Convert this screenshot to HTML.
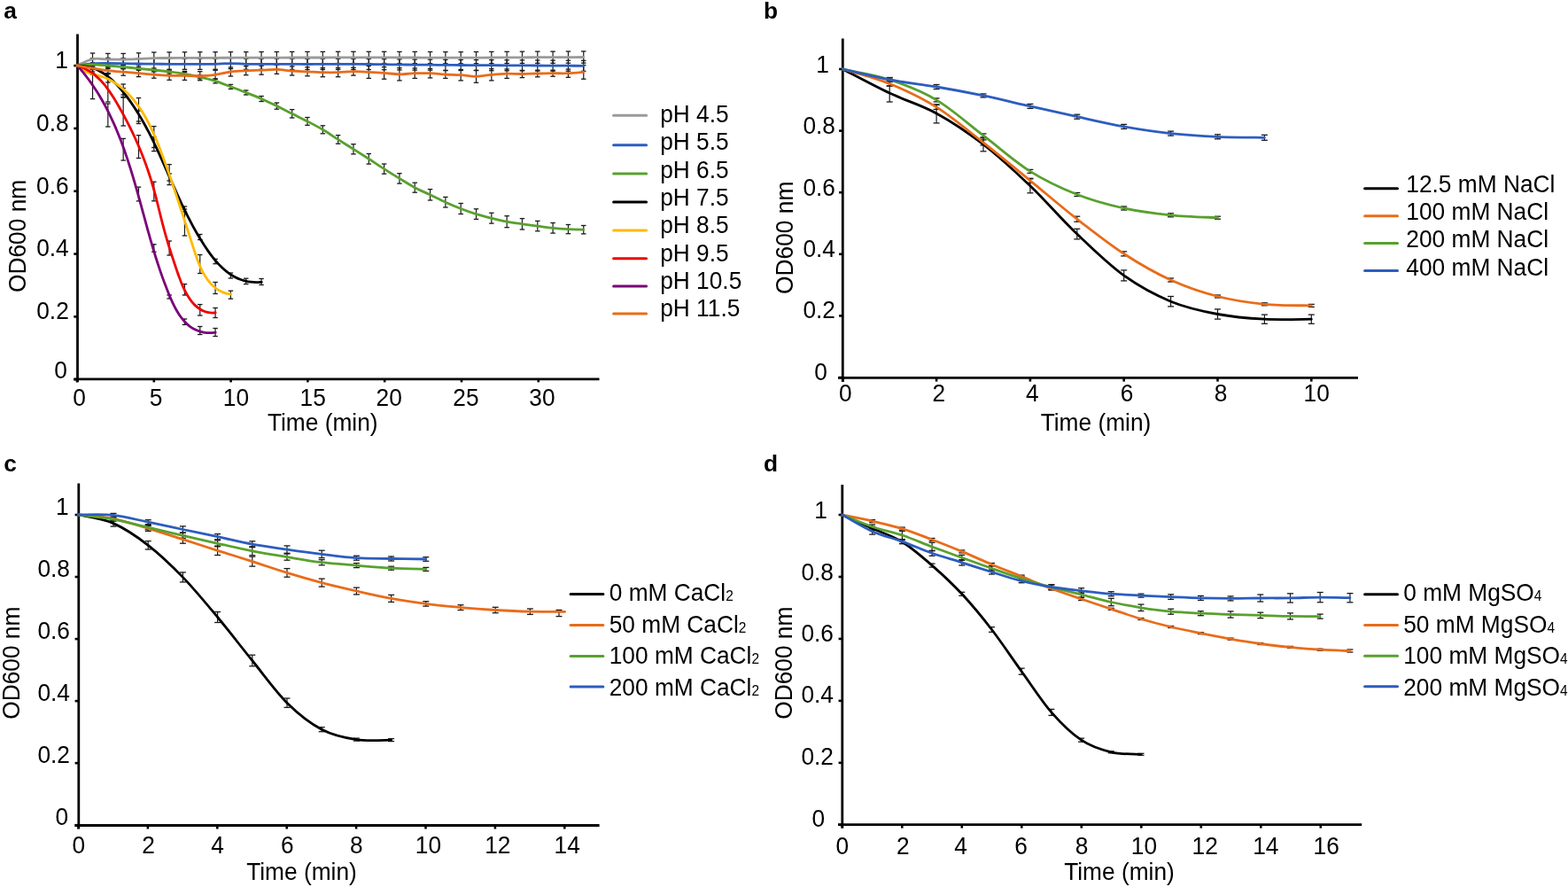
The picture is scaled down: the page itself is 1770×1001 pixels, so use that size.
<!DOCTYPE html>
<html><head><meta charset="utf-8"><title>Figure</title>
<style>
html,body{margin:0;padding:0;background:#fff;}
body{width:1770px;height:1001px;overflow:hidden;}
svg{display:block;}
text{font-family:'Liberation Sans', Arial, Helvetica, sans-serif;fill:#000;}
</style></head>
<body>
<svg width="1770" height="1001" viewBox="0 0 1770 1001">
<rect width="1770" height="1001" fill="#fff"/>
<line x1="87.5" y1="38.4" x2="87.5" y2="431.2" stroke="#000" stroke-width="2.8" stroke-linecap="butt"/>
<line x1="83.3" y1="427.8" x2="676.5" y2="427.8" stroke="#000" stroke-width="2.8" stroke-linecap="butt"/>
<line x1="83.3" y1="428.2" x2="87.5" y2="428.2" stroke="#000" stroke-width="2.6" stroke-linecap="butt"/>
<line x1="83.3" y1="357.38" x2="87.5" y2="357.38" stroke="#000" stroke-width="2.6" stroke-linecap="butt"/>
<line x1="83.3" y1="286.56" x2="87.5" y2="286.56" stroke="#000" stroke-width="2.6" stroke-linecap="butt"/>
<line x1="83.3" y1="215.74" x2="87.5" y2="215.74" stroke="#000" stroke-width="2.6" stroke-linecap="butt"/>
<line x1="83.3" y1="144.92" x2="87.5" y2="144.92" stroke="#000" stroke-width="2.6" stroke-linecap="butt"/>
<line x1="83.3" y1="74.1" x2="87.5" y2="74.1" stroke="#000" stroke-width="2.6" stroke-linecap="butt"/>
<line x1="87" y1="427.8" x2="87" y2="431.4" stroke="#000" stroke-width="2.6" stroke-linecap="butt"/>
<line x1="173.8" y1="427.8" x2="173.8" y2="431.4" stroke="#000" stroke-width="2.6" stroke-linecap="butt"/>
<line x1="260.6" y1="427.8" x2="260.6" y2="431.4" stroke="#000" stroke-width="2.6" stroke-linecap="butt"/>
<line x1="347.4" y1="427.8" x2="347.4" y2="431.4" stroke="#000" stroke-width="2.6" stroke-linecap="butt"/>
<line x1="434.2" y1="427.8" x2="434.2" y2="431.4" stroke="#000" stroke-width="2.6" stroke-linecap="butt"/>
<line x1="521" y1="427.8" x2="521" y2="431.4" stroke="#000" stroke-width="2.6" stroke-linecap="butt"/>
<line x1="607.8" y1="427.8" x2="607.8" y2="431.4" stroke="#000" stroke-width="2.6" stroke-linecap="butt"/>
<text transform="translate(76.8,77) scale(1,1.04)" text-anchor="end" font-weight="normal" font-size="26.3">1</text>
<text transform="translate(77.6,147.9) scale(1,1.04)" text-anchor="end" font-weight="normal" font-size="26.3">0.8</text>
<text transform="translate(77.6,218.6) scale(1,1.04)" text-anchor="end" font-weight="normal" font-size="26.3">0.6</text>
<text transform="translate(77.7,288.9) scale(1,1.04)" text-anchor="end" font-weight="normal" font-size="26.3">0.4</text>
<text transform="translate(77.8,359.9) scale(1,1.04)" text-anchor="end" font-weight="normal" font-size="26.3">0.2</text>
<text transform="translate(76,427.4) scale(1,1.04)" text-anchor="end" font-weight="normal" font-size="26.3">0</text>
<text transform="translate(89.5,458) scale(1,1.04)" text-anchor="middle" font-weight="normal" font-size="26.3">0</text>
<text transform="translate(176,458) scale(1,1.04)" text-anchor="middle" font-weight="normal" font-size="26.3">5</text>
<text transform="translate(266.5,458) scale(1,1.04)" text-anchor="middle" font-weight="normal" font-size="26.3">10</text>
<text transform="translate(353.2,458) scale(1,1.04)" text-anchor="middle" font-weight="normal" font-size="26.3">15</text>
<text transform="translate(439.2,458) scale(1,1.04)" text-anchor="middle" font-weight="normal" font-size="26.3">20</text>
<text transform="translate(526,458) scale(1,1.04)" text-anchor="middle" font-weight="normal" font-size="26.3">25</text>
<text transform="translate(612,458) scale(1,1.04)" text-anchor="middle" font-weight="normal" font-size="26.3">30</text>
<text transform="translate(364.2,485.6) scale(1,1.04)" text-anchor="middle" font-weight="normal" font-size="26.3">Time (min)</text>
<text text-anchor="middle" font-size="26.3" transform="translate(28.5,266.4) rotate(-90) scale(1,1.04)">OD600 nm</text>
<text transform="translate(4.2,20.8) scale(1,1)" text-anchor="start" font-weight="bold" font-size="26.3">a</text>
<line x1="104.52" y1="60" x2="104.52" y2="73.2" stroke="#1a1a1a" stroke-width="1.2" stroke-linecap="butt"/>
<line x1="101.77" y1="60" x2="107.27" y2="60" stroke="#1a1a1a" stroke-width="1.3" stroke-linecap="butt"/>
<line x1="101.77" y1="73.2" x2="107.27" y2="73.2" stroke="#1a1a1a" stroke-width="1.3" stroke-linecap="butt"/>
<line x1="121.84" y1="60.4" x2="121.84" y2="73.6" stroke="#1a1a1a" stroke-width="1.2" stroke-linecap="butt"/>
<line x1="119.09" y1="60.4" x2="124.59" y2="60.4" stroke="#1a1a1a" stroke-width="1.3" stroke-linecap="butt"/>
<line x1="119.09" y1="73.6" x2="124.59" y2="73.6" stroke="#1a1a1a" stroke-width="1.3" stroke-linecap="butt"/>
<line x1="139.16" y1="60.4" x2="139.16" y2="73.6" stroke="#1a1a1a" stroke-width="1.2" stroke-linecap="butt"/>
<line x1="136.41" y1="60.4" x2="141.91" y2="60.4" stroke="#1a1a1a" stroke-width="1.3" stroke-linecap="butt"/>
<line x1="136.41" y1="73.6" x2="141.91" y2="73.6" stroke="#1a1a1a" stroke-width="1.3" stroke-linecap="butt"/>
<line x1="156.48" y1="59.8" x2="156.48" y2="73" stroke="#1a1a1a" stroke-width="1.2" stroke-linecap="butt"/>
<line x1="153.73" y1="59.8" x2="159.23" y2="59.8" stroke="#1a1a1a" stroke-width="1.3" stroke-linecap="butt"/>
<line x1="153.73" y1="73" x2="159.23" y2="73" stroke="#1a1a1a" stroke-width="1.3" stroke-linecap="butt"/>
<line x1="173.8" y1="59" x2="173.8" y2="72.2" stroke="#1a1a1a" stroke-width="1.2" stroke-linecap="butt"/>
<line x1="171.05" y1="59" x2="176.55" y2="59" stroke="#1a1a1a" stroke-width="1.3" stroke-linecap="butt"/>
<line x1="171.05" y1="72.2" x2="176.55" y2="72.2" stroke="#1a1a1a" stroke-width="1.3" stroke-linecap="butt"/>
<line x1="191.12" y1="58.9" x2="191.12" y2="72.1" stroke="#1a1a1a" stroke-width="1.2" stroke-linecap="butt"/>
<line x1="188.37" y1="58.9" x2="193.87" y2="58.9" stroke="#1a1a1a" stroke-width="1.3" stroke-linecap="butt"/>
<line x1="188.37" y1="72.1" x2="193.87" y2="72.1" stroke="#1a1a1a" stroke-width="1.3" stroke-linecap="butt"/>
<line x1="208.44" y1="58.8" x2="208.44" y2="72" stroke="#1a1a1a" stroke-width="1.2" stroke-linecap="butt"/>
<line x1="205.69" y1="58.8" x2="211.19" y2="58.8" stroke="#1a1a1a" stroke-width="1.3" stroke-linecap="butt"/>
<line x1="205.69" y1="72" x2="211.19" y2="72" stroke="#1a1a1a" stroke-width="1.3" stroke-linecap="butt"/>
<line x1="225.76" y1="58.7" x2="225.76" y2="71.9" stroke="#1a1a1a" stroke-width="1.2" stroke-linecap="butt"/>
<line x1="223.01" y1="58.7" x2="228.51" y2="58.7" stroke="#1a1a1a" stroke-width="1.3" stroke-linecap="butt"/>
<line x1="223.01" y1="71.9" x2="228.51" y2="71.9" stroke="#1a1a1a" stroke-width="1.3" stroke-linecap="butt"/>
<line x1="243.08" y1="58.7" x2="243.08" y2="71.9" stroke="#1a1a1a" stroke-width="1.2" stroke-linecap="butt"/>
<line x1="240.33" y1="58.7" x2="245.83" y2="58.7" stroke="#1a1a1a" stroke-width="1.3" stroke-linecap="butt"/>
<line x1="240.33" y1="71.9" x2="245.83" y2="71.9" stroke="#1a1a1a" stroke-width="1.3" stroke-linecap="butt"/>
<line x1="260.4" y1="58.6" x2="260.4" y2="71.8" stroke="#1a1a1a" stroke-width="1.2" stroke-linecap="butt"/>
<line x1="257.65" y1="58.6" x2="263.15" y2="58.6" stroke="#1a1a1a" stroke-width="1.3" stroke-linecap="butt"/>
<line x1="257.65" y1="71.8" x2="263.15" y2="71.8" stroke="#1a1a1a" stroke-width="1.3" stroke-linecap="butt"/>
<line x1="277.72" y1="58.6" x2="277.72" y2="71.8" stroke="#1a1a1a" stroke-width="1.2" stroke-linecap="butt"/>
<line x1="274.97" y1="58.6" x2="280.47" y2="58.6" stroke="#1a1a1a" stroke-width="1.3" stroke-linecap="butt"/>
<line x1="274.97" y1="71.8" x2="280.47" y2="71.8" stroke="#1a1a1a" stroke-width="1.3" stroke-linecap="butt"/>
<line x1="295.04" y1="58.5" x2="295.04" y2="71.7" stroke="#1a1a1a" stroke-width="1.2" stroke-linecap="butt"/>
<line x1="292.29" y1="58.5" x2="297.79" y2="58.5" stroke="#1a1a1a" stroke-width="1.3" stroke-linecap="butt"/>
<line x1="292.29" y1="71.7" x2="297.79" y2="71.7" stroke="#1a1a1a" stroke-width="1.3" stroke-linecap="butt"/>
<line x1="312.36" y1="58.5" x2="312.36" y2="71.7" stroke="#1a1a1a" stroke-width="1.2" stroke-linecap="butt"/>
<line x1="309.61" y1="58.5" x2="315.11" y2="58.5" stroke="#1a1a1a" stroke-width="1.3" stroke-linecap="butt"/>
<line x1="309.61" y1="71.7" x2="315.11" y2="71.7" stroke="#1a1a1a" stroke-width="1.3" stroke-linecap="butt"/>
<line x1="329.68" y1="58.4" x2="329.68" y2="71.6" stroke="#1a1a1a" stroke-width="1.2" stroke-linecap="butt"/>
<line x1="326.93" y1="58.4" x2="332.43" y2="58.4" stroke="#1a1a1a" stroke-width="1.3" stroke-linecap="butt"/>
<line x1="326.93" y1="71.6" x2="332.43" y2="71.6" stroke="#1a1a1a" stroke-width="1.3" stroke-linecap="butt"/>
<line x1="347" y1="58.4" x2="347" y2="71.6" stroke="#1a1a1a" stroke-width="1.2" stroke-linecap="butt"/>
<line x1="344.25" y1="58.4" x2="349.75" y2="58.4" stroke="#1a1a1a" stroke-width="1.3" stroke-linecap="butt"/>
<line x1="344.25" y1="71.6" x2="349.75" y2="71.6" stroke="#1a1a1a" stroke-width="1.3" stroke-linecap="butt"/>
<line x1="364.32" y1="58.4" x2="364.32" y2="71.6" stroke="#1a1a1a" stroke-width="1.2" stroke-linecap="butt"/>
<line x1="361.57" y1="58.4" x2="367.07" y2="58.4" stroke="#1a1a1a" stroke-width="1.3" stroke-linecap="butt"/>
<line x1="361.57" y1="71.6" x2="367.07" y2="71.6" stroke="#1a1a1a" stroke-width="1.3" stroke-linecap="butt"/>
<line x1="381.64" y1="58.3" x2="381.64" y2="71.5" stroke="#1a1a1a" stroke-width="1.2" stroke-linecap="butt"/>
<line x1="378.89" y1="58.3" x2="384.39" y2="58.3" stroke="#1a1a1a" stroke-width="1.3" stroke-linecap="butt"/>
<line x1="378.89" y1="71.5" x2="384.39" y2="71.5" stroke="#1a1a1a" stroke-width="1.3" stroke-linecap="butt"/>
<line x1="398.96" y1="58.3" x2="398.96" y2="71.5" stroke="#1a1a1a" stroke-width="1.2" stroke-linecap="butt"/>
<line x1="396.21" y1="58.3" x2="401.71" y2="58.3" stroke="#1a1a1a" stroke-width="1.3" stroke-linecap="butt"/>
<line x1="396.21" y1="71.5" x2="401.71" y2="71.5" stroke="#1a1a1a" stroke-width="1.3" stroke-linecap="butt"/>
<line x1="416.28" y1="58.3" x2="416.28" y2="71.5" stroke="#1a1a1a" stroke-width="1.2" stroke-linecap="butt"/>
<line x1="413.53" y1="58.3" x2="419.03" y2="58.3" stroke="#1a1a1a" stroke-width="1.3" stroke-linecap="butt"/>
<line x1="413.53" y1="71.5" x2="419.03" y2="71.5" stroke="#1a1a1a" stroke-width="1.3" stroke-linecap="butt"/>
<line x1="433.6" y1="58.3" x2="433.6" y2="71.5" stroke="#1a1a1a" stroke-width="1.2" stroke-linecap="butt"/>
<line x1="430.85" y1="58.3" x2="436.35" y2="58.3" stroke="#1a1a1a" stroke-width="1.3" stroke-linecap="butt"/>
<line x1="430.85" y1="71.5" x2="436.35" y2="71.5" stroke="#1a1a1a" stroke-width="1.3" stroke-linecap="butt"/>
<line x1="450.92" y1="58.4" x2="450.92" y2="71.6" stroke="#1a1a1a" stroke-width="1.2" stroke-linecap="butt"/>
<line x1="448.17" y1="58.4" x2="453.67" y2="58.4" stroke="#1a1a1a" stroke-width="1.3" stroke-linecap="butt"/>
<line x1="448.17" y1="71.6" x2="453.67" y2="71.6" stroke="#1a1a1a" stroke-width="1.3" stroke-linecap="butt"/>
<line x1="468.24" y1="58.4" x2="468.24" y2="71.6" stroke="#1a1a1a" stroke-width="1.2" stroke-linecap="butt"/>
<line x1="465.49" y1="58.4" x2="470.99" y2="58.4" stroke="#1a1a1a" stroke-width="1.3" stroke-linecap="butt"/>
<line x1="465.49" y1="71.6" x2="470.99" y2="71.6" stroke="#1a1a1a" stroke-width="1.3" stroke-linecap="butt"/>
<line x1="485.56" y1="58.5" x2="485.56" y2="71.7" stroke="#1a1a1a" stroke-width="1.2" stroke-linecap="butt"/>
<line x1="482.81" y1="58.5" x2="488.31" y2="58.5" stroke="#1a1a1a" stroke-width="1.3" stroke-linecap="butt"/>
<line x1="482.81" y1="71.7" x2="488.31" y2="71.7" stroke="#1a1a1a" stroke-width="1.3" stroke-linecap="butt"/>
<line x1="502.88" y1="58.6" x2="502.88" y2="71.8" stroke="#1a1a1a" stroke-width="1.2" stroke-linecap="butt"/>
<line x1="500.13" y1="58.6" x2="505.63" y2="58.6" stroke="#1a1a1a" stroke-width="1.3" stroke-linecap="butt"/>
<line x1="500.13" y1="71.8" x2="505.63" y2="71.8" stroke="#1a1a1a" stroke-width="1.3" stroke-linecap="butt"/>
<line x1="520.2" y1="58.6" x2="520.2" y2="71.8" stroke="#1a1a1a" stroke-width="1.2" stroke-linecap="butt"/>
<line x1="517.45" y1="58.6" x2="522.95" y2="58.6" stroke="#1a1a1a" stroke-width="1.3" stroke-linecap="butt"/>
<line x1="517.45" y1="71.8" x2="522.95" y2="71.8" stroke="#1a1a1a" stroke-width="1.3" stroke-linecap="butt"/>
<line x1="537.52" y1="58.5" x2="537.52" y2="71.7" stroke="#1a1a1a" stroke-width="1.2" stroke-linecap="butt"/>
<line x1="534.77" y1="58.5" x2="540.27" y2="58.5" stroke="#1a1a1a" stroke-width="1.3" stroke-linecap="butt"/>
<line x1="534.77" y1="71.7" x2="540.27" y2="71.7" stroke="#1a1a1a" stroke-width="1.3" stroke-linecap="butt"/>
<line x1="554.84" y1="58.4" x2="554.84" y2="71.6" stroke="#1a1a1a" stroke-width="1.2" stroke-linecap="butt"/>
<line x1="552.09" y1="58.4" x2="557.59" y2="58.4" stroke="#1a1a1a" stroke-width="1.3" stroke-linecap="butt"/>
<line x1="552.09" y1="71.6" x2="557.59" y2="71.6" stroke="#1a1a1a" stroke-width="1.3" stroke-linecap="butt"/>
<line x1="572.16" y1="58.3" x2="572.16" y2="71.5" stroke="#1a1a1a" stroke-width="1.2" stroke-linecap="butt"/>
<line x1="569.41" y1="58.3" x2="574.91" y2="58.3" stroke="#1a1a1a" stroke-width="1.3" stroke-linecap="butt"/>
<line x1="569.41" y1="71.5" x2="574.91" y2="71.5" stroke="#1a1a1a" stroke-width="1.3" stroke-linecap="butt"/>
<line x1="589.48" y1="58.2" x2="589.48" y2="71.4" stroke="#1a1a1a" stroke-width="1.2" stroke-linecap="butt"/>
<line x1="586.73" y1="58.2" x2="592.23" y2="58.2" stroke="#1a1a1a" stroke-width="1.3" stroke-linecap="butt"/>
<line x1="586.73" y1="71.4" x2="592.23" y2="71.4" stroke="#1a1a1a" stroke-width="1.3" stroke-linecap="butt"/>
<line x1="606.8" y1="58.1" x2="606.8" y2="71.3" stroke="#1a1a1a" stroke-width="1.2" stroke-linecap="butt"/>
<line x1="604.05" y1="58.1" x2="609.55" y2="58.1" stroke="#1a1a1a" stroke-width="1.3" stroke-linecap="butt"/>
<line x1="604.05" y1="71.3" x2="609.55" y2="71.3" stroke="#1a1a1a" stroke-width="1.3" stroke-linecap="butt"/>
<line x1="624.12" y1="58.1" x2="624.12" y2="71.3" stroke="#1a1a1a" stroke-width="1.2" stroke-linecap="butt"/>
<line x1="621.37" y1="58.1" x2="626.87" y2="58.1" stroke="#1a1a1a" stroke-width="1.3" stroke-linecap="butt"/>
<line x1="621.37" y1="71.3" x2="626.87" y2="71.3" stroke="#1a1a1a" stroke-width="1.3" stroke-linecap="butt"/>
<line x1="641.44" y1="58" x2="641.44" y2="71.2" stroke="#1a1a1a" stroke-width="1.2" stroke-linecap="butt"/>
<line x1="638.69" y1="58" x2="644.19" y2="58" stroke="#1a1a1a" stroke-width="1.3" stroke-linecap="butt"/>
<line x1="638.69" y1="71.2" x2="644.19" y2="71.2" stroke="#1a1a1a" stroke-width="1.3" stroke-linecap="butt"/>
<line x1="658.76" y1="57.9" x2="658.76" y2="71.1" stroke="#1a1a1a" stroke-width="1.2" stroke-linecap="butt"/>
<line x1="656.01" y1="57.9" x2="661.51" y2="57.9" stroke="#1a1a1a" stroke-width="1.3" stroke-linecap="butt"/>
<line x1="656.01" y1="71.1" x2="661.51" y2="71.1" stroke="#1a1a1a" stroke-width="1.3" stroke-linecap="butt"/>
<line x1="104.52" y1="65.8" x2="104.52" y2="77.8" stroke="#1a1a1a" stroke-width="1.2" stroke-linecap="butt"/>
<line x1="101.77" y1="65.8" x2="107.27" y2="65.8" stroke="#1a1a1a" stroke-width="1.3" stroke-linecap="butt"/>
<line x1="101.77" y1="77.8" x2="107.27" y2="77.8" stroke="#1a1a1a" stroke-width="1.3" stroke-linecap="butt"/>
<line x1="121.84" y1="65.4" x2="121.84" y2="77.4" stroke="#1a1a1a" stroke-width="1.2" stroke-linecap="butt"/>
<line x1="119.09" y1="65.4" x2="124.59" y2="65.4" stroke="#1a1a1a" stroke-width="1.3" stroke-linecap="butt"/>
<line x1="119.09" y1="77.4" x2="124.59" y2="77.4" stroke="#1a1a1a" stroke-width="1.3" stroke-linecap="butt"/>
<line x1="139.16" y1="65.6" x2="139.16" y2="77.6" stroke="#1a1a1a" stroke-width="1.2" stroke-linecap="butt"/>
<line x1="136.41" y1="65.6" x2="141.91" y2="65.6" stroke="#1a1a1a" stroke-width="1.3" stroke-linecap="butt"/>
<line x1="136.41" y1="77.6" x2="141.91" y2="77.6" stroke="#1a1a1a" stroke-width="1.3" stroke-linecap="butt"/>
<line x1="156.48" y1="66" x2="156.48" y2="78" stroke="#1a1a1a" stroke-width="1.2" stroke-linecap="butt"/>
<line x1="153.73" y1="66" x2="159.23" y2="66" stroke="#1a1a1a" stroke-width="1.3" stroke-linecap="butt"/>
<line x1="153.73" y1="78" x2="159.23" y2="78" stroke="#1a1a1a" stroke-width="1.3" stroke-linecap="butt"/>
<line x1="173.8" y1="66.2" x2="173.8" y2="78.2" stroke="#1a1a1a" stroke-width="1.2" stroke-linecap="butt"/>
<line x1="171.05" y1="66.2" x2="176.55" y2="66.2" stroke="#1a1a1a" stroke-width="1.3" stroke-linecap="butt"/>
<line x1="171.05" y1="78.2" x2="176.55" y2="78.2" stroke="#1a1a1a" stroke-width="1.3" stroke-linecap="butt"/>
<line x1="191.12" y1="66.3" x2="191.12" y2="78.3" stroke="#1a1a1a" stroke-width="1.2" stroke-linecap="butt"/>
<line x1="188.37" y1="66.3" x2="193.87" y2="66.3" stroke="#1a1a1a" stroke-width="1.3" stroke-linecap="butt"/>
<line x1="188.37" y1="78.3" x2="193.87" y2="78.3" stroke="#1a1a1a" stroke-width="1.3" stroke-linecap="butt"/>
<line x1="208.44" y1="66.3" x2="208.44" y2="78.3" stroke="#1a1a1a" stroke-width="1.2" stroke-linecap="butt"/>
<line x1="205.69" y1="66.3" x2="211.19" y2="66.3" stroke="#1a1a1a" stroke-width="1.3" stroke-linecap="butt"/>
<line x1="205.69" y1="78.3" x2="211.19" y2="78.3" stroke="#1a1a1a" stroke-width="1.3" stroke-linecap="butt"/>
<line x1="225.76" y1="66.4" x2="225.76" y2="78.4" stroke="#1a1a1a" stroke-width="1.2" stroke-linecap="butt"/>
<line x1="223.01" y1="66.4" x2="228.51" y2="66.4" stroke="#1a1a1a" stroke-width="1.3" stroke-linecap="butt"/>
<line x1="223.01" y1="78.4" x2="228.51" y2="78.4" stroke="#1a1a1a" stroke-width="1.3" stroke-linecap="butt"/>
<line x1="243.08" y1="66.3" x2="243.08" y2="78.3" stroke="#1a1a1a" stroke-width="1.2" stroke-linecap="butt"/>
<line x1="240.33" y1="66.3" x2="245.83" y2="66.3" stroke="#1a1a1a" stroke-width="1.3" stroke-linecap="butt"/>
<line x1="240.33" y1="78.3" x2="245.83" y2="78.3" stroke="#1a1a1a" stroke-width="1.3" stroke-linecap="butt"/>
<line x1="260.4" y1="65.6" x2="260.4" y2="77.6" stroke="#1a1a1a" stroke-width="1.2" stroke-linecap="butt"/>
<line x1="257.65" y1="65.6" x2="263.15" y2="65.6" stroke="#1a1a1a" stroke-width="1.3" stroke-linecap="butt"/>
<line x1="257.65" y1="77.6" x2="263.15" y2="77.6" stroke="#1a1a1a" stroke-width="1.3" stroke-linecap="butt"/>
<line x1="277.72" y1="66.3" x2="277.72" y2="78.3" stroke="#1a1a1a" stroke-width="1.2" stroke-linecap="butt"/>
<line x1="274.97" y1="66.3" x2="280.47" y2="66.3" stroke="#1a1a1a" stroke-width="1.3" stroke-linecap="butt"/>
<line x1="274.97" y1="78.3" x2="280.47" y2="78.3" stroke="#1a1a1a" stroke-width="1.3" stroke-linecap="butt"/>
<line x1="295.04" y1="66.4" x2="295.04" y2="78.4" stroke="#1a1a1a" stroke-width="1.2" stroke-linecap="butt"/>
<line x1="292.29" y1="66.4" x2="297.79" y2="66.4" stroke="#1a1a1a" stroke-width="1.3" stroke-linecap="butt"/>
<line x1="292.29" y1="78.4" x2="297.79" y2="78.4" stroke="#1a1a1a" stroke-width="1.3" stroke-linecap="butt"/>
<line x1="312.36" y1="66.3" x2="312.36" y2="78.3" stroke="#1a1a1a" stroke-width="1.2" stroke-linecap="butt"/>
<line x1="309.61" y1="66.3" x2="315.11" y2="66.3" stroke="#1a1a1a" stroke-width="1.3" stroke-linecap="butt"/>
<line x1="309.61" y1="78.3" x2="315.11" y2="78.3" stroke="#1a1a1a" stroke-width="1.3" stroke-linecap="butt"/>
<line x1="329.68" y1="66.4" x2="329.68" y2="78.4" stroke="#1a1a1a" stroke-width="1.2" stroke-linecap="butt"/>
<line x1="326.93" y1="66.4" x2="332.43" y2="66.4" stroke="#1a1a1a" stroke-width="1.3" stroke-linecap="butt"/>
<line x1="326.93" y1="78.4" x2="332.43" y2="78.4" stroke="#1a1a1a" stroke-width="1.3" stroke-linecap="butt"/>
<line x1="347" y1="66.5" x2="347" y2="78.5" stroke="#1a1a1a" stroke-width="1.2" stroke-linecap="butt"/>
<line x1="344.25" y1="66.5" x2="349.75" y2="66.5" stroke="#1a1a1a" stroke-width="1.3" stroke-linecap="butt"/>
<line x1="344.25" y1="78.5" x2="349.75" y2="78.5" stroke="#1a1a1a" stroke-width="1.3" stroke-linecap="butt"/>
<line x1="364.32" y1="66.4" x2="364.32" y2="78.4" stroke="#1a1a1a" stroke-width="1.2" stroke-linecap="butt"/>
<line x1="361.57" y1="66.4" x2="367.07" y2="66.4" stroke="#1a1a1a" stroke-width="1.3" stroke-linecap="butt"/>
<line x1="361.57" y1="78.4" x2="367.07" y2="78.4" stroke="#1a1a1a" stroke-width="1.3" stroke-linecap="butt"/>
<line x1="381.64" y1="66.4" x2="381.64" y2="78.4" stroke="#1a1a1a" stroke-width="1.2" stroke-linecap="butt"/>
<line x1="378.89" y1="66.4" x2="384.39" y2="66.4" stroke="#1a1a1a" stroke-width="1.3" stroke-linecap="butt"/>
<line x1="378.89" y1="78.4" x2="384.39" y2="78.4" stroke="#1a1a1a" stroke-width="1.3" stroke-linecap="butt"/>
<line x1="398.96" y1="66.4" x2="398.96" y2="78.4" stroke="#1a1a1a" stroke-width="1.2" stroke-linecap="butt"/>
<line x1="396.21" y1="66.4" x2="401.71" y2="66.4" stroke="#1a1a1a" stroke-width="1.3" stroke-linecap="butt"/>
<line x1="396.21" y1="78.4" x2="401.71" y2="78.4" stroke="#1a1a1a" stroke-width="1.3" stroke-linecap="butt"/>
<line x1="416.28" y1="66.5" x2="416.28" y2="78.5" stroke="#1a1a1a" stroke-width="1.2" stroke-linecap="butt"/>
<line x1="413.53" y1="66.5" x2="419.03" y2="66.5" stroke="#1a1a1a" stroke-width="1.3" stroke-linecap="butt"/>
<line x1="413.53" y1="78.5" x2="419.03" y2="78.5" stroke="#1a1a1a" stroke-width="1.3" stroke-linecap="butt"/>
<line x1="433.6" y1="66.7" x2="433.6" y2="78.7" stroke="#1a1a1a" stroke-width="1.2" stroke-linecap="butt"/>
<line x1="430.85" y1="66.7" x2="436.35" y2="66.7" stroke="#1a1a1a" stroke-width="1.3" stroke-linecap="butt"/>
<line x1="430.85" y1="78.7" x2="436.35" y2="78.7" stroke="#1a1a1a" stroke-width="1.3" stroke-linecap="butt"/>
<line x1="450.92" y1="66.9" x2="450.92" y2="78.9" stroke="#1a1a1a" stroke-width="1.2" stroke-linecap="butt"/>
<line x1="448.17" y1="66.9" x2="453.67" y2="66.9" stroke="#1a1a1a" stroke-width="1.3" stroke-linecap="butt"/>
<line x1="448.17" y1="78.9" x2="453.67" y2="78.9" stroke="#1a1a1a" stroke-width="1.3" stroke-linecap="butt"/>
<line x1="468.24" y1="67.1" x2="468.24" y2="79.1" stroke="#1a1a1a" stroke-width="1.2" stroke-linecap="butt"/>
<line x1="465.49" y1="67.1" x2="470.99" y2="67.1" stroke="#1a1a1a" stroke-width="1.3" stroke-linecap="butt"/>
<line x1="465.49" y1="79.1" x2="470.99" y2="79.1" stroke="#1a1a1a" stroke-width="1.3" stroke-linecap="butt"/>
<line x1="485.56" y1="67.2" x2="485.56" y2="79.2" stroke="#1a1a1a" stroke-width="1.2" stroke-linecap="butt"/>
<line x1="482.81" y1="67.2" x2="488.31" y2="67.2" stroke="#1a1a1a" stroke-width="1.3" stroke-linecap="butt"/>
<line x1="482.81" y1="79.2" x2="488.31" y2="79.2" stroke="#1a1a1a" stroke-width="1.3" stroke-linecap="butt"/>
<line x1="502.88" y1="67.4" x2="502.88" y2="79.4" stroke="#1a1a1a" stroke-width="1.2" stroke-linecap="butt"/>
<line x1="500.13" y1="67.4" x2="505.63" y2="67.4" stroke="#1a1a1a" stroke-width="1.3" stroke-linecap="butt"/>
<line x1="500.13" y1="79.4" x2="505.63" y2="79.4" stroke="#1a1a1a" stroke-width="1.3" stroke-linecap="butt"/>
<line x1="520.2" y1="67.5" x2="520.2" y2="79.5" stroke="#1a1a1a" stroke-width="1.2" stroke-linecap="butt"/>
<line x1="517.45" y1="67.5" x2="522.95" y2="67.5" stroke="#1a1a1a" stroke-width="1.3" stroke-linecap="butt"/>
<line x1="517.45" y1="79.5" x2="522.95" y2="79.5" stroke="#1a1a1a" stroke-width="1.3" stroke-linecap="butt"/>
<line x1="537.52" y1="67.6" x2="537.52" y2="79.6" stroke="#1a1a1a" stroke-width="1.2" stroke-linecap="butt"/>
<line x1="534.77" y1="67.6" x2="540.27" y2="67.6" stroke="#1a1a1a" stroke-width="1.3" stroke-linecap="butt"/>
<line x1="534.77" y1="79.6" x2="540.27" y2="79.6" stroke="#1a1a1a" stroke-width="1.3" stroke-linecap="butt"/>
<line x1="554.84" y1="67.7" x2="554.84" y2="79.7" stroke="#1a1a1a" stroke-width="1.2" stroke-linecap="butt"/>
<line x1="552.09" y1="67.7" x2="557.59" y2="67.7" stroke="#1a1a1a" stroke-width="1.3" stroke-linecap="butt"/>
<line x1="552.09" y1="79.7" x2="557.59" y2="79.7" stroke="#1a1a1a" stroke-width="1.3" stroke-linecap="butt"/>
<line x1="572.16" y1="67.8" x2="572.16" y2="79.8" stroke="#1a1a1a" stroke-width="1.2" stroke-linecap="butt"/>
<line x1="569.41" y1="67.8" x2="574.91" y2="67.8" stroke="#1a1a1a" stroke-width="1.3" stroke-linecap="butt"/>
<line x1="569.41" y1="79.8" x2="574.91" y2="79.8" stroke="#1a1a1a" stroke-width="1.3" stroke-linecap="butt"/>
<line x1="589.48" y1="67.9" x2="589.48" y2="79.9" stroke="#1a1a1a" stroke-width="1.2" stroke-linecap="butt"/>
<line x1="586.73" y1="67.9" x2="592.23" y2="67.9" stroke="#1a1a1a" stroke-width="1.3" stroke-linecap="butt"/>
<line x1="586.73" y1="79.9" x2="592.23" y2="79.9" stroke="#1a1a1a" stroke-width="1.3" stroke-linecap="butt"/>
<line x1="606.8" y1="68" x2="606.8" y2="80" stroke="#1a1a1a" stroke-width="1.2" stroke-linecap="butt"/>
<line x1="604.05" y1="68" x2="609.55" y2="68" stroke="#1a1a1a" stroke-width="1.3" stroke-linecap="butt"/>
<line x1="604.05" y1="80" x2="609.55" y2="80" stroke="#1a1a1a" stroke-width="1.3" stroke-linecap="butt"/>
<line x1="624.12" y1="68.1" x2="624.12" y2="80.1" stroke="#1a1a1a" stroke-width="1.2" stroke-linecap="butt"/>
<line x1="621.37" y1="68.1" x2="626.87" y2="68.1" stroke="#1a1a1a" stroke-width="1.3" stroke-linecap="butt"/>
<line x1="621.37" y1="80.1" x2="626.87" y2="80.1" stroke="#1a1a1a" stroke-width="1.3" stroke-linecap="butt"/>
<line x1="641.44" y1="68.2" x2="641.44" y2="80.2" stroke="#1a1a1a" stroke-width="1.2" stroke-linecap="butt"/>
<line x1="638.69" y1="68.2" x2="644.19" y2="68.2" stroke="#1a1a1a" stroke-width="1.3" stroke-linecap="butt"/>
<line x1="638.69" y1="80.2" x2="644.19" y2="80.2" stroke="#1a1a1a" stroke-width="1.3" stroke-linecap="butt"/>
<line x1="658.76" y1="68.3" x2="658.76" y2="80.3" stroke="#1a1a1a" stroke-width="1.2" stroke-linecap="butt"/>
<line x1="656.01" y1="68.3" x2="661.51" y2="68.3" stroke="#1a1a1a" stroke-width="1.3" stroke-linecap="butt"/>
<line x1="656.01" y1="80.3" x2="661.51" y2="80.3" stroke="#1a1a1a" stroke-width="1.3" stroke-linecap="butt"/>
<line x1="104.52" y1="70.8" x2="104.52" y2="74.8" stroke="#1a1a1a" stroke-width="1.2" stroke-linecap="butt"/>
<line x1="101.77" y1="70.8" x2="107.27" y2="70.8" stroke="#1a1a1a" stroke-width="1.3" stroke-linecap="butt"/>
<line x1="101.77" y1="74.8" x2="107.27" y2="74.8" stroke="#1a1a1a" stroke-width="1.3" stroke-linecap="butt"/>
<line x1="121.84" y1="72" x2="121.84" y2="76" stroke="#1a1a1a" stroke-width="1.2" stroke-linecap="butt"/>
<line x1="119.09" y1="72" x2="124.59" y2="72" stroke="#1a1a1a" stroke-width="1.3" stroke-linecap="butt"/>
<line x1="119.09" y1="76" x2="124.59" y2="76" stroke="#1a1a1a" stroke-width="1.3" stroke-linecap="butt"/>
<line x1="139.16" y1="73.6" x2="139.16" y2="77.6" stroke="#1a1a1a" stroke-width="1.2" stroke-linecap="butt"/>
<line x1="136.41" y1="73.6" x2="141.91" y2="73.6" stroke="#1a1a1a" stroke-width="1.3" stroke-linecap="butt"/>
<line x1="136.41" y1="77.6" x2="141.91" y2="77.6" stroke="#1a1a1a" stroke-width="1.3" stroke-linecap="butt"/>
<line x1="156.48" y1="75.3" x2="156.48" y2="79.3" stroke="#1a1a1a" stroke-width="1.2" stroke-linecap="butt"/>
<line x1="153.73" y1="75.3" x2="159.23" y2="75.3" stroke="#1a1a1a" stroke-width="1.3" stroke-linecap="butt"/>
<line x1="153.73" y1="79.3" x2="159.23" y2="79.3" stroke="#1a1a1a" stroke-width="1.3" stroke-linecap="butt"/>
<line x1="173.8" y1="77" x2="173.8" y2="81" stroke="#1a1a1a" stroke-width="1.2" stroke-linecap="butt"/>
<line x1="171.05" y1="77" x2="176.55" y2="77" stroke="#1a1a1a" stroke-width="1.3" stroke-linecap="butt"/>
<line x1="171.05" y1="81" x2="176.55" y2="81" stroke="#1a1a1a" stroke-width="1.3" stroke-linecap="butt"/>
<line x1="191.12" y1="79" x2="191.12" y2="83" stroke="#1a1a1a" stroke-width="1.2" stroke-linecap="butt"/>
<line x1="188.37" y1="79" x2="193.87" y2="79" stroke="#1a1a1a" stroke-width="1.3" stroke-linecap="butt"/>
<line x1="188.37" y1="83" x2="193.87" y2="83" stroke="#1a1a1a" stroke-width="1.3" stroke-linecap="butt"/>
<line x1="208.44" y1="81.4" x2="208.44" y2="85.4" stroke="#1a1a1a" stroke-width="1.2" stroke-linecap="butt"/>
<line x1="205.69" y1="81.4" x2="211.19" y2="81.4" stroke="#1a1a1a" stroke-width="1.3" stroke-linecap="butt"/>
<line x1="205.69" y1="85.4" x2="211.19" y2="85.4" stroke="#1a1a1a" stroke-width="1.3" stroke-linecap="butt"/>
<line x1="225.76" y1="84.8" x2="225.76" y2="88.8" stroke="#1a1a1a" stroke-width="1.2" stroke-linecap="butt"/>
<line x1="223.01" y1="84.8" x2="228.51" y2="84.8" stroke="#1a1a1a" stroke-width="1.3" stroke-linecap="butt"/>
<line x1="223.01" y1="88.8" x2="228.51" y2="88.8" stroke="#1a1a1a" stroke-width="1.3" stroke-linecap="butt"/>
<line x1="243.08" y1="88.9" x2="243.08" y2="93.9" stroke="#1a1a1a" stroke-width="1.2" stroke-linecap="butt"/>
<line x1="240.33" y1="88.9" x2="245.83" y2="88.9" stroke="#1a1a1a" stroke-width="1.3" stroke-linecap="butt"/>
<line x1="240.33" y1="93.9" x2="245.83" y2="93.9" stroke="#1a1a1a" stroke-width="1.3" stroke-linecap="butt"/>
<line x1="260.4" y1="95.4" x2="260.4" y2="100.4" stroke="#1a1a1a" stroke-width="1.2" stroke-linecap="butt"/>
<line x1="257.65" y1="95.4" x2="263.15" y2="95.4" stroke="#1a1a1a" stroke-width="1.3" stroke-linecap="butt"/>
<line x1="257.65" y1="100.4" x2="263.15" y2="100.4" stroke="#1a1a1a" stroke-width="1.3" stroke-linecap="butt"/>
<line x1="277.72" y1="102" x2="277.72" y2="107" stroke="#1a1a1a" stroke-width="1.2" stroke-linecap="butt"/>
<line x1="274.97" y1="102" x2="280.47" y2="102" stroke="#1a1a1a" stroke-width="1.3" stroke-linecap="butt"/>
<line x1="274.97" y1="107" x2="280.47" y2="107" stroke="#1a1a1a" stroke-width="1.3" stroke-linecap="butt"/>
<line x1="295.04" y1="108.5" x2="295.04" y2="114.5" stroke="#1a1a1a" stroke-width="1.2" stroke-linecap="butt"/>
<line x1="292.29" y1="108.5" x2="297.79" y2="108.5" stroke="#1a1a1a" stroke-width="1.3" stroke-linecap="butt"/>
<line x1="292.29" y1="114.5" x2="297.79" y2="114.5" stroke="#1a1a1a" stroke-width="1.3" stroke-linecap="butt"/>
<line x1="312.36" y1="116" x2="312.36" y2="123.2" stroke="#1a1a1a" stroke-width="1.2" stroke-linecap="butt"/>
<line x1="309.61" y1="116" x2="315.11" y2="116" stroke="#1a1a1a" stroke-width="1.3" stroke-linecap="butt"/>
<line x1="309.61" y1="123.2" x2="315.11" y2="123.2" stroke="#1a1a1a" stroke-width="1.3" stroke-linecap="butt"/>
<line x1="329.68" y1="123.6" x2="329.68" y2="133" stroke="#1a1a1a" stroke-width="1.2" stroke-linecap="butt"/>
<line x1="326.93" y1="123.6" x2="332.43" y2="123.6" stroke="#1a1a1a" stroke-width="1.3" stroke-linecap="butt"/>
<line x1="326.93" y1="133" x2="332.43" y2="133" stroke="#1a1a1a" stroke-width="1.3" stroke-linecap="butt"/>
<line x1="347" y1="132.5" x2="347" y2="141.3" stroke="#1a1a1a" stroke-width="1.2" stroke-linecap="butt"/>
<line x1="344.25" y1="132.5" x2="349.75" y2="132.5" stroke="#1a1a1a" stroke-width="1.3" stroke-linecap="butt"/>
<line x1="344.25" y1="141.3" x2="349.75" y2="141.3" stroke="#1a1a1a" stroke-width="1.3" stroke-linecap="butt"/>
<line x1="364.32" y1="141.8" x2="364.32" y2="150.8" stroke="#1a1a1a" stroke-width="1.2" stroke-linecap="butt"/>
<line x1="361.57" y1="141.8" x2="367.07" y2="141.8" stroke="#1a1a1a" stroke-width="1.3" stroke-linecap="butt"/>
<line x1="361.57" y1="150.8" x2="367.07" y2="150.8" stroke="#1a1a1a" stroke-width="1.3" stroke-linecap="butt"/>
<line x1="381.64" y1="152.6" x2="381.64" y2="162.2" stroke="#1a1a1a" stroke-width="1.2" stroke-linecap="butt"/>
<line x1="378.89" y1="152.6" x2="384.39" y2="152.6" stroke="#1a1a1a" stroke-width="1.3" stroke-linecap="butt"/>
<line x1="378.89" y1="162.2" x2="384.39" y2="162.2" stroke="#1a1a1a" stroke-width="1.3" stroke-linecap="butt"/>
<line x1="398.96" y1="162.7" x2="398.96" y2="173.9" stroke="#1a1a1a" stroke-width="1.2" stroke-linecap="butt"/>
<line x1="396.21" y1="162.7" x2="401.71" y2="162.7" stroke="#1a1a1a" stroke-width="1.3" stroke-linecap="butt"/>
<line x1="396.21" y1="173.9" x2="401.71" y2="173.9" stroke="#1a1a1a" stroke-width="1.3" stroke-linecap="butt"/>
<line x1="416.28" y1="173.5" x2="416.28" y2="185.1" stroke="#1a1a1a" stroke-width="1.2" stroke-linecap="butt"/>
<line x1="413.53" y1="173.5" x2="419.03" y2="173.5" stroke="#1a1a1a" stroke-width="1.3" stroke-linecap="butt"/>
<line x1="413.53" y1="185.1" x2="419.03" y2="185.1" stroke="#1a1a1a" stroke-width="1.3" stroke-linecap="butt"/>
<line x1="433.6" y1="185" x2="433.6" y2="196.2" stroke="#1a1a1a" stroke-width="1.2" stroke-linecap="butt"/>
<line x1="430.85" y1="185" x2="436.35" y2="185" stroke="#1a1a1a" stroke-width="1.3" stroke-linecap="butt"/>
<line x1="430.85" y1="196.2" x2="436.35" y2="196.2" stroke="#1a1a1a" stroke-width="1.3" stroke-linecap="butt"/>
<line x1="450.92" y1="195.7" x2="450.92" y2="207.1" stroke="#1a1a1a" stroke-width="1.2" stroke-linecap="butt"/>
<line x1="448.17" y1="195.7" x2="453.67" y2="195.7" stroke="#1a1a1a" stroke-width="1.3" stroke-linecap="butt"/>
<line x1="448.17" y1="207.1" x2="453.67" y2="207.1" stroke="#1a1a1a" stroke-width="1.3" stroke-linecap="butt"/>
<line x1="468.24" y1="206.2" x2="468.24" y2="217.2" stroke="#1a1a1a" stroke-width="1.2" stroke-linecap="butt"/>
<line x1="465.49" y1="206.2" x2="470.99" y2="206.2" stroke="#1a1a1a" stroke-width="1.3" stroke-linecap="butt"/>
<line x1="465.49" y1="217.2" x2="470.99" y2="217.2" stroke="#1a1a1a" stroke-width="1.3" stroke-linecap="butt"/>
<line x1="485.56" y1="213.6" x2="485.56" y2="226" stroke="#1a1a1a" stroke-width="1.2" stroke-linecap="butt"/>
<line x1="482.81" y1="213.6" x2="488.31" y2="213.6" stroke="#1a1a1a" stroke-width="1.3" stroke-linecap="butt"/>
<line x1="482.81" y1="226" x2="488.31" y2="226" stroke="#1a1a1a" stroke-width="1.3" stroke-linecap="butt"/>
<line x1="502.88" y1="222.4" x2="502.88" y2="234" stroke="#1a1a1a" stroke-width="1.2" stroke-linecap="butt"/>
<line x1="500.13" y1="222.4" x2="505.63" y2="222.4" stroke="#1a1a1a" stroke-width="1.3" stroke-linecap="butt"/>
<line x1="500.13" y1="234" x2="505.63" y2="234" stroke="#1a1a1a" stroke-width="1.3" stroke-linecap="butt"/>
<line x1="520.2" y1="229.5" x2="520.2" y2="241.5" stroke="#1a1a1a" stroke-width="1.2" stroke-linecap="butt"/>
<line x1="517.45" y1="229.5" x2="522.95" y2="229.5" stroke="#1a1a1a" stroke-width="1.3" stroke-linecap="butt"/>
<line x1="517.45" y1="241.5" x2="522.95" y2="241.5" stroke="#1a1a1a" stroke-width="1.3" stroke-linecap="butt"/>
<line x1="537.52" y1="235.8" x2="537.52" y2="247.4" stroke="#1a1a1a" stroke-width="1.2" stroke-linecap="butt"/>
<line x1="534.77" y1="235.8" x2="540.27" y2="235.8" stroke="#1a1a1a" stroke-width="1.3" stroke-linecap="butt"/>
<line x1="534.77" y1="247.4" x2="540.27" y2="247.4" stroke="#1a1a1a" stroke-width="1.3" stroke-linecap="butt"/>
<line x1="554.84" y1="240.3" x2="554.84" y2="252.1" stroke="#1a1a1a" stroke-width="1.2" stroke-linecap="butt"/>
<line x1="552.09" y1="240.3" x2="557.59" y2="240.3" stroke="#1a1a1a" stroke-width="1.3" stroke-linecap="butt"/>
<line x1="552.09" y1="252.1" x2="557.59" y2="252.1" stroke="#1a1a1a" stroke-width="1.3" stroke-linecap="butt"/>
<line x1="572.16" y1="243.7" x2="572.16" y2="256.7" stroke="#1a1a1a" stroke-width="1.2" stroke-linecap="butt"/>
<line x1="569.41" y1="243.7" x2="574.91" y2="243.7" stroke="#1a1a1a" stroke-width="1.3" stroke-linecap="butt"/>
<line x1="569.41" y1="256.7" x2="574.91" y2="256.7" stroke="#1a1a1a" stroke-width="1.3" stroke-linecap="butt"/>
<line x1="589.48" y1="246.6" x2="589.48" y2="259" stroke="#1a1a1a" stroke-width="1.2" stroke-linecap="butt"/>
<line x1="586.73" y1="246.6" x2="592.23" y2="246.6" stroke="#1a1a1a" stroke-width="1.3" stroke-linecap="butt"/>
<line x1="586.73" y1="259" x2="592.23" y2="259" stroke="#1a1a1a" stroke-width="1.3" stroke-linecap="butt"/>
<line x1="606.8" y1="249.4" x2="606.8" y2="260.8" stroke="#1a1a1a" stroke-width="1.2" stroke-linecap="butt"/>
<line x1="604.05" y1="249.4" x2="609.55" y2="249.4" stroke="#1a1a1a" stroke-width="1.3" stroke-linecap="butt"/>
<line x1="604.05" y1="260.8" x2="609.55" y2="260.8" stroke="#1a1a1a" stroke-width="1.3" stroke-linecap="butt"/>
<line x1="624.12" y1="251.5" x2="624.12" y2="263.1" stroke="#1a1a1a" stroke-width="1.2" stroke-linecap="butt"/>
<line x1="621.37" y1="251.5" x2="626.87" y2="251.5" stroke="#1a1a1a" stroke-width="1.3" stroke-linecap="butt"/>
<line x1="621.37" y1="263.1" x2="626.87" y2="263.1" stroke="#1a1a1a" stroke-width="1.3" stroke-linecap="butt"/>
<line x1="641.44" y1="253.5" x2="641.44" y2="263.7" stroke="#1a1a1a" stroke-width="1.2" stroke-linecap="butt"/>
<line x1="638.69" y1="253.5" x2="644.19" y2="253.5" stroke="#1a1a1a" stroke-width="1.3" stroke-linecap="butt"/>
<line x1="638.69" y1="263.7" x2="644.19" y2="263.7" stroke="#1a1a1a" stroke-width="1.3" stroke-linecap="butt"/>
<line x1="658.76" y1="254.5" x2="658.76" y2="263.9" stroke="#1a1a1a" stroke-width="1.2" stroke-linecap="butt"/>
<line x1="656.01" y1="254.5" x2="661.51" y2="254.5" stroke="#1a1a1a" stroke-width="1.3" stroke-linecap="butt"/>
<line x1="656.01" y1="263.9" x2="661.51" y2="263.9" stroke="#1a1a1a" stroke-width="1.3" stroke-linecap="butt"/>
<line x1="104.52" y1="72.5" x2="104.52" y2="78.5" stroke="#1a1a1a" stroke-width="1.2" stroke-linecap="butt"/>
<line x1="101.77" y1="72.5" x2="107.27" y2="72.5" stroke="#1a1a1a" stroke-width="1.3" stroke-linecap="butt"/>
<line x1="101.77" y1="78.5" x2="107.27" y2="78.5" stroke="#1a1a1a" stroke-width="1.3" stroke-linecap="butt"/>
<line x1="121.84" y1="82.5" x2="121.84" y2="88.5" stroke="#1a1a1a" stroke-width="1.2" stroke-linecap="butt"/>
<line x1="119.09" y1="82.5" x2="124.59" y2="82.5" stroke="#1a1a1a" stroke-width="1.3" stroke-linecap="butt"/>
<line x1="119.09" y1="88.5" x2="124.59" y2="88.5" stroke="#1a1a1a" stroke-width="1.3" stroke-linecap="butt"/>
<line x1="139.16" y1="99.5" x2="139.16" y2="109.5" stroke="#1a1a1a" stroke-width="1.2" stroke-linecap="butt"/>
<line x1="136.41" y1="99.5" x2="141.91" y2="99.5" stroke="#1a1a1a" stroke-width="1.3" stroke-linecap="butt"/>
<line x1="136.41" y1="109.5" x2="141.91" y2="109.5" stroke="#1a1a1a" stroke-width="1.3" stroke-linecap="butt"/>
<line x1="156.48" y1="125" x2="156.48" y2="137" stroke="#1a1a1a" stroke-width="1.2" stroke-linecap="butt"/>
<line x1="153.73" y1="125" x2="159.23" y2="125" stroke="#1a1a1a" stroke-width="1.3" stroke-linecap="butt"/>
<line x1="153.73" y1="137" x2="159.23" y2="137" stroke="#1a1a1a" stroke-width="1.3" stroke-linecap="butt"/>
<line x1="173.8" y1="154.5" x2="173.8" y2="166.5" stroke="#1a1a1a" stroke-width="1.2" stroke-linecap="butt"/>
<line x1="171.05" y1="154.5" x2="176.55" y2="154.5" stroke="#1a1a1a" stroke-width="1.3" stroke-linecap="butt"/>
<line x1="171.05" y1="166.5" x2="176.55" y2="166.5" stroke="#1a1a1a" stroke-width="1.3" stroke-linecap="butt"/>
<line x1="191.12" y1="196" x2="191.12" y2="204" stroke="#1a1a1a" stroke-width="1.2" stroke-linecap="butt"/>
<line x1="188.37" y1="196" x2="193.87" y2="196" stroke="#1a1a1a" stroke-width="1.3" stroke-linecap="butt"/>
<line x1="188.37" y1="204" x2="193.87" y2="204" stroke="#1a1a1a" stroke-width="1.3" stroke-linecap="butt"/>
<line x1="208.44" y1="233" x2="208.44" y2="239" stroke="#1a1a1a" stroke-width="1.2" stroke-linecap="butt"/>
<line x1="205.69" y1="233" x2="211.19" y2="233" stroke="#1a1a1a" stroke-width="1.3" stroke-linecap="butt"/>
<line x1="205.69" y1="239" x2="211.19" y2="239" stroke="#1a1a1a" stroke-width="1.3" stroke-linecap="butt"/>
<line x1="225.76" y1="264.5" x2="225.76" y2="270.5" stroke="#1a1a1a" stroke-width="1.2" stroke-linecap="butt"/>
<line x1="223.01" y1="264.5" x2="228.51" y2="264.5" stroke="#1a1a1a" stroke-width="1.3" stroke-linecap="butt"/>
<line x1="223.01" y1="270.5" x2="228.51" y2="270.5" stroke="#1a1a1a" stroke-width="1.3" stroke-linecap="butt"/>
<line x1="243.08" y1="292.3" x2="243.08" y2="297.7" stroke="#1a1a1a" stroke-width="1.2" stroke-linecap="butt"/>
<line x1="240.33" y1="292.3" x2="245.83" y2="292.3" stroke="#1a1a1a" stroke-width="1.3" stroke-linecap="butt"/>
<line x1="240.33" y1="297.7" x2="245.83" y2="297.7" stroke="#1a1a1a" stroke-width="1.3" stroke-linecap="butt"/>
<line x1="260.4" y1="308" x2="260.4" y2="314" stroke="#1a1a1a" stroke-width="1.2" stroke-linecap="butt"/>
<line x1="257.65" y1="308" x2="263.15" y2="308" stroke="#1a1a1a" stroke-width="1.3" stroke-linecap="butt"/>
<line x1="257.65" y1="314" x2="263.15" y2="314" stroke="#1a1a1a" stroke-width="1.3" stroke-linecap="butt"/>
<line x1="277.72" y1="314.2" x2="277.72" y2="320.6" stroke="#1a1a1a" stroke-width="1.2" stroke-linecap="butt"/>
<line x1="274.97" y1="314.2" x2="280.47" y2="314.2" stroke="#1a1a1a" stroke-width="1.3" stroke-linecap="butt"/>
<line x1="274.97" y1="320.6" x2="280.47" y2="320.6" stroke="#1a1a1a" stroke-width="1.3" stroke-linecap="butt"/>
<line x1="295.04" y1="314.5" x2="295.04" y2="321.5" stroke="#1a1a1a" stroke-width="1.2" stroke-linecap="butt"/>
<line x1="292.29" y1="314.5" x2="297.79" y2="314.5" stroke="#1a1a1a" stroke-width="1.3" stroke-linecap="butt"/>
<line x1="292.29" y1="321.5" x2="297.79" y2="321.5" stroke="#1a1a1a" stroke-width="1.3" stroke-linecap="butt"/>
<line x1="104.52" y1="78" x2="104.52" y2="84" stroke="#1a1a1a" stroke-width="1.2" stroke-linecap="butt"/>
<line x1="101.77" y1="78" x2="107.27" y2="78" stroke="#1a1a1a" stroke-width="1.3" stroke-linecap="butt"/>
<line x1="101.77" y1="84" x2="107.27" y2="84" stroke="#1a1a1a" stroke-width="1.3" stroke-linecap="butt"/>
<line x1="121.84" y1="83" x2="121.84" y2="93" stroke="#1a1a1a" stroke-width="1.2" stroke-linecap="butt"/>
<line x1="119.09" y1="83" x2="124.59" y2="83" stroke="#1a1a1a" stroke-width="1.3" stroke-linecap="butt"/>
<line x1="119.09" y1="93" x2="124.59" y2="93" stroke="#1a1a1a" stroke-width="1.3" stroke-linecap="butt"/>
<line x1="139.16" y1="95" x2="139.16" y2="107" stroke="#1a1a1a" stroke-width="1.2" stroke-linecap="butt"/>
<line x1="136.41" y1="95" x2="141.91" y2="95" stroke="#1a1a1a" stroke-width="1.3" stroke-linecap="butt"/>
<line x1="136.41" y1="107" x2="141.91" y2="107" stroke="#1a1a1a" stroke-width="1.3" stroke-linecap="butt"/>
<line x1="156.48" y1="110.5" x2="156.48" y2="139.5" stroke="#1a1a1a" stroke-width="1.2" stroke-linecap="butt"/>
<line x1="153.73" y1="110.5" x2="159.23" y2="110.5" stroke="#1a1a1a" stroke-width="1.3" stroke-linecap="butt"/>
<line x1="153.73" y1="139.5" x2="159.23" y2="139.5" stroke="#1a1a1a" stroke-width="1.3" stroke-linecap="butt"/>
<line x1="173.8" y1="142.6" x2="173.8" y2="170.6" stroke="#1a1a1a" stroke-width="1.2" stroke-linecap="butt"/>
<line x1="171.05" y1="142.6" x2="176.55" y2="142.6" stroke="#1a1a1a" stroke-width="1.3" stroke-linecap="butt"/>
<line x1="171.05" y1="170.6" x2="176.55" y2="170.6" stroke="#1a1a1a" stroke-width="1.3" stroke-linecap="butt"/>
<line x1="191.12" y1="185.6" x2="191.12" y2="208.6" stroke="#1a1a1a" stroke-width="1.2" stroke-linecap="butt"/>
<line x1="188.37" y1="185.6" x2="193.87" y2="185.6" stroke="#1a1a1a" stroke-width="1.3" stroke-linecap="butt"/>
<line x1="188.37" y1="208.6" x2="193.87" y2="208.6" stroke="#1a1a1a" stroke-width="1.3" stroke-linecap="butt"/>
<line x1="208.44" y1="236" x2="208.44" y2="266" stroke="#1a1a1a" stroke-width="1.2" stroke-linecap="butt"/>
<line x1="205.69" y1="236" x2="211.19" y2="236" stroke="#1a1a1a" stroke-width="1.3" stroke-linecap="butt"/>
<line x1="205.69" y1="266" x2="211.19" y2="266" stroke="#1a1a1a" stroke-width="1.3" stroke-linecap="butt"/>
<line x1="225.76" y1="287.5" x2="225.76" y2="308.5" stroke="#1a1a1a" stroke-width="1.2" stroke-linecap="butt"/>
<line x1="223.01" y1="287.5" x2="228.51" y2="287.5" stroke="#1a1a1a" stroke-width="1.3" stroke-linecap="butt"/>
<line x1="223.01" y1="308.5" x2="228.51" y2="308.5" stroke="#1a1a1a" stroke-width="1.3" stroke-linecap="butt"/>
<line x1="243.08" y1="318.5" x2="243.08" y2="331.5" stroke="#1a1a1a" stroke-width="1.2" stroke-linecap="butt"/>
<line x1="240.33" y1="318.5" x2="245.83" y2="318.5" stroke="#1a1a1a" stroke-width="1.3" stroke-linecap="butt"/>
<line x1="240.33" y1="331.5" x2="245.83" y2="331.5" stroke="#1a1a1a" stroke-width="1.3" stroke-linecap="butt"/>
<line x1="260.4" y1="328.2" x2="260.4" y2="337.2" stroke="#1a1a1a" stroke-width="1.2" stroke-linecap="butt"/>
<line x1="257.65" y1="328.2" x2="263.15" y2="328.2" stroke="#1a1a1a" stroke-width="1.3" stroke-linecap="butt"/>
<line x1="257.65" y1="337.2" x2="263.15" y2="337.2" stroke="#1a1a1a" stroke-width="1.3" stroke-linecap="butt"/>
<line x1="104.52" y1="75" x2="104.52" y2="83" stroke="#1a1a1a" stroke-width="1.2" stroke-linecap="butt"/>
<line x1="101.77" y1="75" x2="107.27" y2="75" stroke="#1a1a1a" stroke-width="1.3" stroke-linecap="butt"/>
<line x1="101.77" y1="83" x2="107.27" y2="83" stroke="#1a1a1a" stroke-width="1.3" stroke-linecap="butt"/>
<line x1="121.84" y1="83" x2="121.84" y2="115" stroke="#1a1a1a" stroke-width="1.2" stroke-linecap="butt"/>
<line x1="119.09" y1="83" x2="124.59" y2="83" stroke="#1a1a1a" stroke-width="1.3" stroke-linecap="butt"/>
<line x1="119.09" y1="115" x2="124.59" y2="115" stroke="#1a1a1a" stroke-width="1.3" stroke-linecap="butt"/>
<line x1="139.16" y1="110" x2="139.16" y2="142" stroke="#1a1a1a" stroke-width="1.2" stroke-linecap="butt"/>
<line x1="136.41" y1="110" x2="141.91" y2="110" stroke="#1a1a1a" stroke-width="1.3" stroke-linecap="butt"/>
<line x1="136.41" y1="142" x2="141.91" y2="142" stroke="#1a1a1a" stroke-width="1.3" stroke-linecap="butt"/>
<line x1="156.48" y1="152.7" x2="156.48" y2="178.5" stroke="#1a1a1a" stroke-width="1.2" stroke-linecap="butt"/>
<line x1="153.73" y1="152.7" x2="159.23" y2="152.7" stroke="#1a1a1a" stroke-width="1.3" stroke-linecap="butt"/>
<line x1="153.73" y1="178.5" x2="159.23" y2="178.5" stroke="#1a1a1a" stroke-width="1.3" stroke-linecap="butt"/>
<line x1="173.8" y1="205.2" x2="173.8" y2="226.8" stroke="#1a1a1a" stroke-width="1.2" stroke-linecap="butt"/>
<line x1="171.05" y1="205.2" x2="176.55" y2="205.2" stroke="#1a1a1a" stroke-width="1.3" stroke-linecap="butt"/>
<line x1="171.05" y1="226.8" x2="176.55" y2="226.8" stroke="#1a1a1a" stroke-width="1.3" stroke-linecap="butt"/>
<line x1="191.12" y1="272" x2="191.12" y2="288" stroke="#1a1a1a" stroke-width="1.2" stroke-linecap="butt"/>
<line x1="188.37" y1="272" x2="193.87" y2="272" stroke="#1a1a1a" stroke-width="1.3" stroke-linecap="butt"/>
<line x1="188.37" y1="288" x2="193.87" y2="288" stroke="#1a1a1a" stroke-width="1.3" stroke-linecap="butt"/>
<line x1="208.44" y1="320.6" x2="208.44" y2="333" stroke="#1a1a1a" stroke-width="1.2" stroke-linecap="butt"/>
<line x1="205.69" y1="320.6" x2="211.19" y2="320.6" stroke="#1a1a1a" stroke-width="1.3" stroke-linecap="butt"/>
<line x1="205.69" y1="333" x2="211.19" y2="333" stroke="#1a1a1a" stroke-width="1.3" stroke-linecap="butt"/>
<line x1="225.76" y1="343.6" x2="225.76" y2="356" stroke="#1a1a1a" stroke-width="1.2" stroke-linecap="butt"/>
<line x1="223.01" y1="343.6" x2="228.51" y2="343.6" stroke="#1a1a1a" stroke-width="1.3" stroke-linecap="butt"/>
<line x1="223.01" y1="356" x2="228.51" y2="356" stroke="#1a1a1a" stroke-width="1.3" stroke-linecap="butt"/>
<line x1="243.08" y1="347.5" x2="243.08" y2="358.5" stroke="#1a1a1a" stroke-width="1.2" stroke-linecap="butt"/>
<line x1="240.33" y1="347.5" x2="245.83" y2="347.5" stroke="#1a1a1a" stroke-width="1.3" stroke-linecap="butt"/>
<line x1="240.33" y1="358.5" x2="245.83" y2="358.5" stroke="#1a1a1a" stroke-width="1.3" stroke-linecap="butt"/>
<line x1="104.52" y1="84" x2="104.52" y2="111.6" stroke="#1a1a1a" stroke-width="1.2" stroke-linecap="butt"/>
<line x1="101.77" y1="84" x2="107.27" y2="84" stroke="#1a1a1a" stroke-width="1.3" stroke-linecap="butt"/>
<line x1="101.77" y1="111.6" x2="107.27" y2="111.6" stroke="#1a1a1a" stroke-width="1.3" stroke-linecap="butt"/>
<line x1="121.84" y1="117" x2="121.84" y2="143" stroke="#1a1a1a" stroke-width="1.2" stroke-linecap="butt"/>
<line x1="119.09" y1="117" x2="124.59" y2="117" stroke="#1a1a1a" stroke-width="1.3" stroke-linecap="butt"/>
<line x1="119.09" y1="143" x2="124.59" y2="143" stroke="#1a1a1a" stroke-width="1.3" stroke-linecap="butt"/>
<line x1="139.16" y1="156.4" x2="139.16" y2="181" stroke="#1a1a1a" stroke-width="1.2" stroke-linecap="butt"/>
<line x1="136.41" y1="156.4" x2="141.91" y2="156.4" stroke="#1a1a1a" stroke-width="1.3" stroke-linecap="butt"/>
<line x1="136.41" y1="181" x2="141.91" y2="181" stroke="#1a1a1a" stroke-width="1.3" stroke-linecap="butt"/>
<line x1="156.48" y1="211.1" x2="156.48" y2="226.9" stroke="#1a1a1a" stroke-width="1.2" stroke-linecap="butt"/>
<line x1="153.73" y1="211.1" x2="159.23" y2="211.1" stroke="#1a1a1a" stroke-width="1.3" stroke-linecap="butt"/>
<line x1="153.73" y1="226.9" x2="159.23" y2="226.9" stroke="#1a1a1a" stroke-width="1.3" stroke-linecap="butt"/>
<line x1="173.8" y1="275.8" x2="173.8" y2="284.2" stroke="#1a1a1a" stroke-width="1.2" stroke-linecap="butt"/>
<line x1="171.05" y1="275.8" x2="176.55" y2="275.8" stroke="#1a1a1a" stroke-width="1.3" stroke-linecap="butt"/>
<line x1="171.05" y1="284.2" x2="176.55" y2="284.2" stroke="#1a1a1a" stroke-width="1.3" stroke-linecap="butt"/>
<line x1="191.12" y1="333" x2="191.12" y2="337" stroke="#1a1a1a" stroke-width="1.2" stroke-linecap="butt"/>
<line x1="188.37" y1="333" x2="193.87" y2="333" stroke="#1a1a1a" stroke-width="1.3" stroke-linecap="butt"/>
<line x1="188.37" y1="337" x2="193.87" y2="337" stroke="#1a1a1a" stroke-width="1.3" stroke-linecap="butt"/>
<line x1="208.44" y1="360" x2="208.44" y2="366.4" stroke="#1a1a1a" stroke-width="1.2" stroke-linecap="butt"/>
<line x1="205.69" y1="360" x2="211.19" y2="360" stroke="#1a1a1a" stroke-width="1.3" stroke-linecap="butt"/>
<line x1="205.69" y1="366.4" x2="211.19" y2="366.4" stroke="#1a1a1a" stroke-width="1.3" stroke-linecap="butt"/>
<line x1="225.76" y1="368.5" x2="225.76" y2="377.5" stroke="#1a1a1a" stroke-width="1.2" stroke-linecap="butt"/>
<line x1="223.01" y1="368.5" x2="228.51" y2="368.5" stroke="#1a1a1a" stroke-width="1.3" stroke-linecap="butt"/>
<line x1="223.01" y1="377.5" x2="228.51" y2="377.5" stroke="#1a1a1a" stroke-width="1.3" stroke-linecap="butt"/>
<line x1="243.08" y1="370.5" x2="243.08" y2="379.5" stroke="#1a1a1a" stroke-width="1.2" stroke-linecap="butt"/>
<line x1="240.33" y1="370.5" x2="245.83" y2="370.5" stroke="#1a1a1a" stroke-width="1.3" stroke-linecap="butt"/>
<line x1="240.33" y1="379.5" x2="245.83" y2="379.5" stroke="#1a1a1a" stroke-width="1.3" stroke-linecap="butt"/>
<line x1="104.52" y1="73" x2="104.52" y2="81" stroke="#1a1a1a" stroke-width="1.2" stroke-linecap="butt"/>
<line x1="101.77" y1="73" x2="107.27" y2="73" stroke="#1a1a1a" stroke-width="1.3" stroke-linecap="butt"/>
<line x1="101.77" y1="81" x2="107.27" y2="81" stroke="#1a1a1a" stroke-width="1.3" stroke-linecap="butt"/>
<line x1="121.84" y1="75.6" x2="121.84" y2="83.6" stroke="#1a1a1a" stroke-width="1.2" stroke-linecap="butt"/>
<line x1="119.09" y1="75.6" x2="124.59" y2="75.6" stroke="#1a1a1a" stroke-width="1.3" stroke-linecap="butt"/>
<line x1="119.09" y1="83.6" x2="124.59" y2="83.6" stroke="#1a1a1a" stroke-width="1.3" stroke-linecap="butt"/>
<line x1="139.16" y1="77.2" x2="139.16" y2="85.2" stroke="#1a1a1a" stroke-width="1.2" stroke-linecap="butt"/>
<line x1="136.41" y1="77.2" x2="141.91" y2="77.2" stroke="#1a1a1a" stroke-width="1.3" stroke-linecap="butt"/>
<line x1="136.41" y1="85.2" x2="141.91" y2="85.2" stroke="#1a1a1a" stroke-width="1.3" stroke-linecap="butt"/>
<line x1="156.48" y1="78.6" x2="156.48" y2="86.6" stroke="#1a1a1a" stroke-width="1.2" stroke-linecap="butt"/>
<line x1="153.73" y1="78.6" x2="159.23" y2="78.6" stroke="#1a1a1a" stroke-width="1.3" stroke-linecap="butt"/>
<line x1="153.73" y1="86.6" x2="159.23" y2="86.6" stroke="#1a1a1a" stroke-width="1.3" stroke-linecap="butt"/>
<line x1="173.8" y1="80.2" x2="173.8" y2="88.2" stroke="#1a1a1a" stroke-width="1.2" stroke-linecap="butt"/>
<line x1="171.05" y1="80.2" x2="176.55" y2="80.2" stroke="#1a1a1a" stroke-width="1.3" stroke-linecap="butt"/>
<line x1="171.05" y1="88.2" x2="176.55" y2="88.2" stroke="#1a1a1a" stroke-width="1.3" stroke-linecap="butt"/>
<line x1="191.12" y1="80.3" x2="191.12" y2="90.3" stroke="#1a1a1a" stroke-width="1.2" stroke-linecap="butt"/>
<line x1="188.37" y1="80.3" x2="193.87" y2="80.3" stroke="#1a1a1a" stroke-width="1.3" stroke-linecap="butt"/>
<line x1="188.37" y1="90.3" x2="193.87" y2="90.3" stroke="#1a1a1a" stroke-width="1.3" stroke-linecap="butt"/>
<line x1="208.44" y1="80.4" x2="208.44" y2="90.4" stroke="#1a1a1a" stroke-width="1.2" stroke-linecap="butt"/>
<line x1="205.69" y1="80.4" x2="211.19" y2="80.4" stroke="#1a1a1a" stroke-width="1.3" stroke-linecap="butt"/>
<line x1="205.69" y1="90.4" x2="211.19" y2="90.4" stroke="#1a1a1a" stroke-width="1.3" stroke-linecap="butt"/>
<line x1="225.76" y1="80.7" x2="225.76" y2="90.7" stroke="#1a1a1a" stroke-width="1.2" stroke-linecap="butt"/>
<line x1="223.01" y1="80.7" x2="228.51" y2="80.7" stroke="#1a1a1a" stroke-width="1.3" stroke-linecap="butt"/>
<line x1="223.01" y1="90.7" x2="228.51" y2="90.7" stroke="#1a1a1a" stroke-width="1.3" stroke-linecap="butt"/>
<line x1="243.08" y1="79.3" x2="243.08" y2="89.3" stroke="#1a1a1a" stroke-width="1.2" stroke-linecap="butt"/>
<line x1="240.33" y1="79.3" x2="245.83" y2="79.3" stroke="#1a1a1a" stroke-width="1.3" stroke-linecap="butt"/>
<line x1="240.33" y1="89.3" x2="245.83" y2="89.3" stroke="#1a1a1a" stroke-width="1.3" stroke-linecap="butt"/>
<line x1="260.4" y1="76" x2="260.4" y2="86" stroke="#1a1a1a" stroke-width="1.2" stroke-linecap="butt"/>
<line x1="257.65" y1="76" x2="263.15" y2="76" stroke="#1a1a1a" stroke-width="1.3" stroke-linecap="butt"/>
<line x1="257.65" y1="86" x2="263.15" y2="86" stroke="#1a1a1a" stroke-width="1.3" stroke-linecap="butt"/>
<line x1="277.72" y1="74.7" x2="277.72" y2="84.7" stroke="#1a1a1a" stroke-width="1.2" stroke-linecap="butt"/>
<line x1="274.97" y1="74.7" x2="280.47" y2="74.7" stroke="#1a1a1a" stroke-width="1.3" stroke-linecap="butt"/>
<line x1="274.97" y1="84.7" x2="280.47" y2="84.7" stroke="#1a1a1a" stroke-width="1.3" stroke-linecap="butt"/>
<line x1="295.04" y1="74.2" x2="295.04" y2="84.2" stroke="#1a1a1a" stroke-width="1.2" stroke-linecap="butt"/>
<line x1="292.29" y1="74.2" x2="297.79" y2="74.2" stroke="#1a1a1a" stroke-width="1.3" stroke-linecap="butt"/>
<line x1="292.29" y1="84.2" x2="297.79" y2="84.2" stroke="#1a1a1a" stroke-width="1.3" stroke-linecap="butt"/>
<line x1="312.36" y1="73.4" x2="312.36" y2="83.4" stroke="#1a1a1a" stroke-width="1.2" stroke-linecap="butt"/>
<line x1="309.61" y1="73.4" x2="315.11" y2="73.4" stroke="#1a1a1a" stroke-width="1.3" stroke-linecap="butt"/>
<line x1="309.61" y1="83.4" x2="315.11" y2="83.4" stroke="#1a1a1a" stroke-width="1.3" stroke-linecap="butt"/>
<line x1="329.68" y1="75" x2="329.68" y2="85" stroke="#1a1a1a" stroke-width="1.2" stroke-linecap="butt"/>
<line x1="326.93" y1="75" x2="332.43" y2="75" stroke="#1a1a1a" stroke-width="1.3" stroke-linecap="butt"/>
<line x1="326.93" y1="85" x2="332.43" y2="85" stroke="#1a1a1a" stroke-width="1.3" stroke-linecap="butt"/>
<line x1="347" y1="75.8" x2="347" y2="85.8" stroke="#1a1a1a" stroke-width="1.2" stroke-linecap="butt"/>
<line x1="344.25" y1="75.8" x2="349.75" y2="75.8" stroke="#1a1a1a" stroke-width="1.3" stroke-linecap="butt"/>
<line x1="344.25" y1="85.8" x2="349.75" y2="85.8" stroke="#1a1a1a" stroke-width="1.3" stroke-linecap="butt"/>
<line x1="364.32" y1="76.7" x2="364.32" y2="86.7" stroke="#1a1a1a" stroke-width="1.2" stroke-linecap="butt"/>
<line x1="361.57" y1="76.7" x2="367.07" y2="76.7" stroke="#1a1a1a" stroke-width="1.3" stroke-linecap="butt"/>
<line x1="361.57" y1="86.7" x2="367.07" y2="86.7" stroke="#1a1a1a" stroke-width="1.3" stroke-linecap="butt"/>
<line x1="381.64" y1="76.7" x2="381.64" y2="86.7" stroke="#1a1a1a" stroke-width="1.2" stroke-linecap="butt"/>
<line x1="378.89" y1="76.7" x2="384.39" y2="76.7" stroke="#1a1a1a" stroke-width="1.3" stroke-linecap="butt"/>
<line x1="378.89" y1="86.7" x2="384.39" y2="86.7" stroke="#1a1a1a" stroke-width="1.3" stroke-linecap="butt"/>
<line x1="398.96" y1="76.3" x2="398.96" y2="85.1" stroke="#1a1a1a" stroke-width="1.2" stroke-linecap="butt"/>
<line x1="396.21" y1="76.3" x2="401.71" y2="76.3" stroke="#1a1a1a" stroke-width="1.3" stroke-linecap="butt"/>
<line x1="396.21" y1="85.1" x2="401.71" y2="85.1" stroke="#1a1a1a" stroke-width="1.3" stroke-linecap="butt"/>
<line x1="416.28" y1="74.4" x2="416.28" y2="88.4" stroke="#1a1a1a" stroke-width="1.2" stroke-linecap="butt"/>
<line x1="413.53" y1="74.4" x2="419.03" y2="74.4" stroke="#1a1a1a" stroke-width="1.3" stroke-linecap="butt"/>
<line x1="413.53" y1="88.4" x2="419.03" y2="88.4" stroke="#1a1a1a" stroke-width="1.3" stroke-linecap="butt"/>
<line x1="433.6" y1="75.6" x2="433.6" y2="89.2" stroke="#1a1a1a" stroke-width="1.2" stroke-linecap="butt"/>
<line x1="430.85" y1="75.6" x2="436.35" y2="75.6" stroke="#1a1a1a" stroke-width="1.3" stroke-linecap="butt"/>
<line x1="430.85" y1="89.2" x2="436.35" y2="89.2" stroke="#1a1a1a" stroke-width="1.3" stroke-linecap="butt"/>
<line x1="450.92" y1="76.7" x2="450.92" y2="90.9" stroke="#1a1a1a" stroke-width="1.2" stroke-linecap="butt"/>
<line x1="448.17" y1="76.7" x2="453.67" y2="76.7" stroke="#1a1a1a" stroke-width="1.3" stroke-linecap="butt"/>
<line x1="448.17" y1="90.9" x2="453.67" y2="90.9" stroke="#1a1a1a" stroke-width="1.3" stroke-linecap="butt"/>
<line x1="468.24" y1="77" x2="468.24" y2="88.4" stroke="#1a1a1a" stroke-width="1.2" stroke-linecap="butt"/>
<line x1="465.49" y1="77" x2="470.99" y2="77" stroke="#1a1a1a" stroke-width="1.3" stroke-linecap="butt"/>
<line x1="465.49" y1="88.4" x2="470.99" y2="88.4" stroke="#1a1a1a" stroke-width="1.3" stroke-linecap="butt"/>
<line x1="485.56" y1="77.5" x2="485.56" y2="87.9" stroke="#1a1a1a" stroke-width="1.2" stroke-linecap="butt"/>
<line x1="482.81" y1="77.5" x2="488.31" y2="77.5" stroke="#1a1a1a" stroke-width="1.3" stroke-linecap="butt"/>
<line x1="482.81" y1="87.9" x2="488.31" y2="87.9" stroke="#1a1a1a" stroke-width="1.3" stroke-linecap="butt"/>
<line x1="502.88" y1="79.6" x2="502.88" y2="88.4" stroke="#1a1a1a" stroke-width="1.2" stroke-linecap="butt"/>
<line x1="500.13" y1="79.6" x2="505.63" y2="79.6" stroke="#1a1a1a" stroke-width="1.3" stroke-linecap="butt"/>
<line x1="500.13" y1="88.4" x2="505.63" y2="88.4" stroke="#1a1a1a" stroke-width="1.3" stroke-linecap="butt"/>
<line x1="520.2" y1="78.5" x2="520.2" y2="90.9" stroke="#1a1a1a" stroke-width="1.2" stroke-linecap="butt"/>
<line x1="517.45" y1="78.5" x2="522.95" y2="78.5" stroke="#1a1a1a" stroke-width="1.3" stroke-linecap="butt"/>
<line x1="517.45" y1="90.9" x2="522.95" y2="90.9" stroke="#1a1a1a" stroke-width="1.3" stroke-linecap="butt"/>
<line x1="537.52" y1="79.3" x2="537.52" y2="93.3" stroke="#1a1a1a" stroke-width="1.2" stroke-linecap="butt"/>
<line x1="534.77" y1="79.3" x2="540.27" y2="79.3" stroke="#1a1a1a" stroke-width="1.3" stroke-linecap="butt"/>
<line x1="534.77" y1="93.3" x2="540.27" y2="93.3" stroke="#1a1a1a" stroke-width="1.3" stroke-linecap="butt"/>
<line x1="554.84" y1="77.7" x2="554.84" y2="90.9" stroke="#1a1a1a" stroke-width="1.2" stroke-linecap="butt"/>
<line x1="552.09" y1="77.7" x2="557.59" y2="77.7" stroke="#1a1a1a" stroke-width="1.3" stroke-linecap="butt"/>
<line x1="552.09" y1="90.9" x2="557.59" y2="90.9" stroke="#1a1a1a" stroke-width="1.3" stroke-linecap="butt"/>
<line x1="572.16" y1="78" x2="572.16" y2="88.4" stroke="#1a1a1a" stroke-width="1.2" stroke-linecap="butt"/>
<line x1="569.41" y1="78" x2="574.91" y2="78" stroke="#1a1a1a" stroke-width="1.3" stroke-linecap="butt"/>
<line x1="569.41" y1="88.4" x2="574.91" y2="88.4" stroke="#1a1a1a" stroke-width="1.3" stroke-linecap="butt"/>
<line x1="589.48" y1="79.4" x2="589.48" y2="87.6" stroke="#1a1a1a" stroke-width="1.2" stroke-linecap="butt"/>
<line x1="586.73" y1="79.4" x2="592.23" y2="79.4" stroke="#1a1a1a" stroke-width="1.3" stroke-linecap="butt"/>
<line x1="586.73" y1="87.6" x2="592.23" y2="87.6" stroke="#1a1a1a" stroke-width="1.3" stroke-linecap="butt"/>
<line x1="606.8" y1="79.2" x2="606.8" y2="86.8" stroke="#1a1a1a" stroke-width="1.2" stroke-linecap="butt"/>
<line x1="604.05" y1="79.2" x2="609.55" y2="79.2" stroke="#1a1a1a" stroke-width="1.3" stroke-linecap="butt"/>
<line x1="604.05" y1="86.8" x2="609.55" y2="86.8" stroke="#1a1a1a" stroke-width="1.3" stroke-linecap="butt"/>
<line x1="624.12" y1="79.2" x2="624.12" y2="86.2" stroke="#1a1a1a" stroke-width="1.2" stroke-linecap="butt"/>
<line x1="621.37" y1="79.2" x2="626.87" y2="79.2" stroke="#1a1a1a" stroke-width="1.3" stroke-linecap="butt"/>
<line x1="621.37" y1="86.2" x2="626.87" y2="86.2" stroke="#1a1a1a" stroke-width="1.3" stroke-linecap="butt"/>
<line x1="641.44" y1="78.1" x2="641.44" y2="87.3" stroke="#1a1a1a" stroke-width="1.2" stroke-linecap="butt"/>
<line x1="638.69" y1="78.1" x2="644.19" y2="78.1" stroke="#1a1a1a" stroke-width="1.3" stroke-linecap="butt"/>
<line x1="638.69" y1="87.3" x2="644.19" y2="87.3" stroke="#1a1a1a" stroke-width="1.3" stroke-linecap="butt"/>
<line x1="658.76" y1="73.6" x2="658.76" y2="89.2" stroke="#1a1a1a" stroke-width="1.2" stroke-linecap="butt"/>
<line x1="656.01" y1="73.6" x2="661.51" y2="73.6" stroke="#1a1a1a" stroke-width="1.3" stroke-linecap="butt"/>
<line x1="656.01" y1="89.2" x2="661.51" y2="89.2" stroke="#1a1a1a" stroke-width="1.3" stroke-linecap="butt"/>
<path d="M87.2,74 C90.09,72.77 98.75,67.77 104.52,66.6 C110.29,65.43 116.07,66.93 121.84,67 C127.61,67.07 133.39,67.1 139.16,67 C144.93,66.9 150.71,66.63 156.48,66.4 C162.25,66.17 168.03,65.75 173.8,65.6 C179.57,65.45 185.35,65.53 191.12,65.5 C196.89,65.47 202.67,65.43 208.44,65.4 C214.21,65.37 219.99,65.32 225.76,65.3 C231.53,65.28 237.31,65.32 243.08,65.3 C248.85,65.28 254.63,65.22 260.4,65.2 C266.17,65.18 271.95,65.22 277.72,65.2 C283.49,65.18 289.27,65.12 295.04,65.1 C300.81,65.08 306.59,65.12 312.36,65.1 C318.13,65.08 323.91,65.02 329.68,65 C335.45,64.98 341.23,65 347,65 C352.77,65 358.55,65.02 364.32,65 C370.09,64.98 375.87,64.92 381.64,64.9 C387.41,64.88 393.19,64.9 398.96,64.9 C404.73,64.9 410.51,64.9 416.28,64.9 C422.05,64.9 427.83,64.88 433.6,64.9 C439.37,64.92 445.15,64.98 450.92,65 C456.69,65.02 462.47,64.98 468.24,65 C474.01,65.02 479.79,65.07 485.56,65.1 C491.33,65.13 497.11,65.18 502.88,65.2 C508.65,65.22 514.43,65.22 520.2,65.2 C525.97,65.18 531.75,65.13 537.52,65.1 C543.29,65.07 549.07,65.03 554.84,65 C560.61,64.97 566.39,64.93 572.16,64.9 C577.93,64.87 583.71,64.83 589.48,64.8 C595.25,64.77 601.03,64.72 606.8,64.7 C612.57,64.68 618.35,64.72 624.12,64.7 C629.89,64.68 635.67,64.63 641.44,64.6 C647.21,64.57 655.87,64.52 658.76,64.5" fill="none" stroke="#9a9a9a" stroke-width="2.8" stroke-linecap="round" stroke-linejoin="round"/>
<path d="M87.2,74 C90.09,73.63 98.75,72.23 104.52,71.8 C110.29,71.37 116.07,71.43 121.84,71.4 C127.61,71.37 133.39,71.5 139.16,71.6 C144.93,71.7 150.71,71.9 156.48,72 C162.25,72.1 168.03,72.15 173.8,72.2 C179.57,72.25 185.35,72.28 191.12,72.3 C196.89,72.32 202.67,72.28 208.44,72.3 C214.21,72.32 219.99,72.4 225.76,72.4 C231.53,72.4 237.31,72.43 243.08,72.3 C248.85,72.17 254.63,71.6 260.4,71.6 C266.17,71.6 271.95,72.17 277.72,72.3 C283.49,72.43 289.27,72.4 295.04,72.4 C300.81,72.4 306.59,72.3 312.36,72.3 C318.13,72.3 323.91,72.37 329.68,72.4 C335.45,72.43 341.23,72.5 347,72.5 C352.77,72.5 358.55,72.42 364.32,72.4 C370.09,72.38 375.87,72.4 381.64,72.4 C387.41,72.4 393.19,72.38 398.96,72.4 C404.73,72.42 410.51,72.45 416.28,72.5 C422.05,72.55 427.83,72.63 433.6,72.7 C439.37,72.77 445.15,72.83 450.92,72.9 C456.69,72.97 462.47,73.05 468.24,73.1 C474.01,73.15 479.79,73.15 485.56,73.2 C491.33,73.25 497.11,73.35 502.88,73.4 C508.65,73.45 514.43,73.47 520.2,73.5 C525.97,73.53 531.75,73.57 537.52,73.6 C543.29,73.63 549.07,73.67 554.84,73.7 C560.61,73.73 566.39,73.77 572.16,73.8 C577.93,73.83 583.71,73.87 589.48,73.9 C595.25,73.93 601.03,73.97 606.8,74 C612.57,74.03 618.35,74.07 624.12,74.1 C629.89,74.13 635.67,74.17 641.44,74.2 C647.21,74.23 655.87,74.28 658.76,74.3" fill="none" stroke="#2c5dbf" stroke-width="2.8" stroke-linecap="round" stroke-linejoin="round"/>
<path d="M87.2,74 C90.09,73.8 98.75,72.8 104.52,72.8 C110.29,72.8 116.07,73.53 121.84,74 C127.61,74.47 133.39,75.05 139.16,75.6 C144.93,76.15 150.71,76.73 156.48,77.3 C162.25,77.87 168.03,78.38 173.8,79 C179.57,79.62 185.35,80.27 191.12,81 C196.89,81.73 202.67,82.43 208.44,83.4 C214.21,84.37 219.99,85.47 225.76,86.8 C231.53,88.13 237.31,89.55 243.08,91.4 C248.85,93.25 254.63,95.72 260.4,97.9 C266.17,100.08 271.95,102.23 277.72,104.5 C283.49,106.77 289.27,108.98 295.04,111.5 C300.81,114.02 306.59,116.8 312.36,119.6 C318.13,122.4 323.91,125.42 329.68,128.3 C335.45,131.18 341.23,133.9 347,136.9 C352.77,139.9 358.55,142.88 364.32,146.3 C370.09,149.72 375.87,153.73 381.64,157.4 C387.41,161.07 393.19,164.65 398.96,168.3 C404.73,171.95 410.51,175.58 416.28,179.3 C422.05,183.02 427.83,186.92 433.6,190.6 C439.37,194.28 445.15,197.88 450.92,201.4 C456.69,204.92 462.47,208.63 468.24,211.7 C474.01,214.77 479.79,217.05 485.56,219.8 C491.33,222.55 497.11,225.58 502.88,228.2 C508.65,230.82 514.43,233.27 520.2,235.5 C525.97,237.73 531.75,239.82 537.52,241.6 C543.29,243.38 549.07,244.77 554.84,246.2 C560.61,247.63 566.39,249.1 572.16,250.2 C577.93,251.3 583.71,251.98 589.48,252.8 C595.25,253.62 601.03,254.35 606.8,255.1 C612.57,255.85 618.35,256.72 624.12,257.3 C629.89,257.88 635.67,258.28 641.44,258.6 C647.21,258.92 655.87,259.1 658.76,259.2" fill="none" stroke="#58a12e" stroke-width="2.8" stroke-linecap="round" stroke-linejoin="round"/>
<path d="M87.2,74.09 C88.23,74.12 91.33,74.09 93.37,74.28 C95.41,74.47 97.46,74.8 99.47,75.25 C101.47,75.7 103.46,76.29 105.39,76.99 C107.32,77.68 109.22,78.52 111.05,79.44 C112.89,80.36 114.68,81.4 116.41,82.51 C118.14,83.62 119.81,84.83 121.44,86.09 C123.06,87.35 124.63,88.7 126.16,90.08 C127.68,91.46 129.15,92.9 130.59,94.37 C132.03,95.84 133.42,97.36 134.78,98.91 C136.15,100.45 137.47,102.02 138.78,103.62 C140.08,105.21 141.36,106.83 142.61,108.46 C143.86,110.1 145.09,111.75 146.29,113.42 C147.49,115.09 148.67,116.78 149.83,118.48 C150.99,120.18 152.12,121.9 153.24,123.63 C154.35,125.37 155.44,127.11 156.51,128.87 C157.59,130.63 158.64,132.4 159.67,134.17 C160.71,135.95 161.73,137.75 162.73,139.54 C163.73,141.34 164.71,143.15 165.68,144.97 C166.65,146.79 167.6,148.61 168.54,150.44 C169.48,152.27 170.41,154.11 171.32,155.96 C172.24,157.8 173.14,159.65 174.03,161.51 C174.92,163.36 175.81,165.22 176.68,167.09 C177.56,168.95 178.42,170.82 179.28,172.69 C180.14,174.56 180.99,176.44 181.84,178.31 C182.68,180.19 183.52,182.07 184.36,183.95 C185.2,185.83 186.04,187.71 186.87,189.59 C187.7,191.48 188.53,193.36 189.36,195.24 C190.19,197.13 191.02,199.01 191.85,200.9 C192.69,202.78 193.52,204.66 194.35,206.55 C195.19,208.43 196.02,210.31 196.86,212.19 C197.7,214.07 198.55,215.94 199.4,217.82 C200.25,219.69 201.1,221.57 201.97,223.44 C202.83,225.31 203.7,227.17 204.57,229.04 C205.45,230.9 206.34,232.76 207.23,234.61 C208.13,236.46 209.03,238.31 209.95,240.16 C210.86,242 211.79,243.84 212.73,245.67 C213.67,247.51 214.62,249.33 215.58,251.15 C216.55,252.97 217.53,254.78 218.52,256.58 C219.51,258.39 220.52,260.18 221.54,261.97 C222.57,263.76 223.6,265.53 224.66,267.3 C225.72,269.07 226.79,270.83 227.88,272.57 C228.97,274.32 230.08,276.06 231.21,277.78 C232.34,279.5 233.48,281.21 234.66,282.9 C235.84,284.59 237.03,286.26 238.27,287.91 C239.51,289.55 240.78,291.18 242.09,292.76 C243.4,294.35 244.74,295.91 246.14,297.42 C247.54,298.93 248.97,300.41 250.47,301.83 C251.96,303.24 253.5,304.61 255.11,305.9 C256.71,307.19 258.36,308.43 260.08,309.56 C261.79,310.7 263.57,311.76 265.39,312.71 C267.21,313.66 269.1,314.52 271.01,315.25 C272.93,315.98 274.91,316.61 276.9,317.1 C278.9,317.59 280.94,317.97 282.97,318.22 C285.01,318.47 287.08,318.59 289.14,318.6 C291.19,318.62 294.27,318.35 295.3,318.3" fill="none" stroke="#000000" stroke-width="2.8" stroke-linecap="round" stroke-linejoin="round"/>
<path d="M87.2,74.1 C87.97,74.79 90.12,77.06 91.79,78.24 C93.46,79.42 95.35,80.35 97.24,81.17 C99.12,82 101.12,82.58 103.09,83.19 C105.07,83.79 107.09,84.24 109.08,84.79 C111.07,85.33 113.08,85.83 115.05,86.46 C117.01,87.1 118.98,87.76 120.87,88.58 C122.76,89.4 124.6,90.36 126.39,91.38 C128.18,92.41 129.91,93.55 131.6,94.73 C133.3,95.91 134.94,97.17 136.55,98.47 C138.15,99.77 139.71,101.13 141.23,102.53 C142.75,103.93 144.22,105.38 145.65,106.87 C147.08,108.36 148.46,109.9 149.8,111.47 C151.14,113.04 152.43,114.66 153.69,116.3 C154.94,117.94 156.15,119.61 157.32,121.31 C158.5,123.01 159.63,124.74 160.73,126.49 C161.82,128.24 162.88,130.02 163.91,131.81 C164.94,133.6 165.93,135.41 166.9,137.24 C167.86,139.07 168.79,140.91 169.7,142.77 C170.61,144.62 171.49,146.49 172.35,148.37 C173.21,150.25 174.05,152.14 174.86,154.03 C175.68,155.93 176.48,157.84 177.26,159.75 C178.04,161.66 178.8,163.58 179.55,165.51 C180.31,167.43 181.04,169.36 181.77,171.29 C182.5,173.22 183.22,175.16 183.93,177.1 C184.65,179.04 185.35,180.98 186.05,182.92 C186.76,184.87 187.45,186.81 188.15,188.76 C188.84,190.7 189.53,192.65 190.21,194.6 C190.9,196.55 191.58,198.5 192.26,200.45 C192.93,202.4 193.61,204.36 194.27,206.31 C194.94,208.26 195.61,210.22 196.27,212.18 C196.94,214.13 197.6,216.09 198.25,218.05 C198.91,220.01 199.56,221.97 200.21,223.93 C200.87,225.89 201.51,227.85 202.16,229.81 C202.81,231.77 203.45,233.74 204.1,235.7 C204.74,237.66 205.38,239.63 206.02,241.59 C206.66,243.56 207.3,245.52 207.93,247.49 C208.57,249.45 209.21,251.42 209.84,253.38 C210.48,255.35 211.11,257.31 211.75,259.28 C212.38,261.25 213.01,263.21 213.65,265.18 C214.28,267.14 214.91,269.11 215.55,271.08 C216.18,273.04 216.82,275.01 217.45,276.97 C218.09,278.94 218.72,280.91 219.36,282.87 C220,284.83 220.64,286.8 221.32,288.75 C221.99,290.7 222.67,292.66 223.4,294.59 C224.14,296.52 224.89,298.44 225.71,300.34 C226.53,302.23 227.39,304.12 228.33,305.95 C229.27,307.79 230.27,309.61 231.36,311.36 C232.45,313.11 233.61,314.83 234.87,316.46 C236.13,318.09 237.48,319.67 238.93,321.14 C240.38,322.6 241.92,324 243.57,325.25 C245.21,326.49 246.95,327.64 248.78,328.58 C250.6,329.53 252.54,330.34 254.51,330.9 C256.48,331.47 259.59,331.82 260.6,332" fill="none" stroke="#ffba00" stroke-width="2.8" stroke-linecap="round" stroke-linejoin="round"/>
<path d="M87.2,74.1 C88.17,74.45 91.13,75.38 93.03,76.18 C94.93,76.98 96.79,77.9 98.59,78.91 C100.39,79.92 102.14,81.04 103.82,82.23 C105.5,83.43 107.12,84.72 108.68,86.07 C110.23,87.43 111.73,88.86 113.16,90.34 C114.6,91.82 115.98,93.37 117.31,94.95 C118.64,96.53 119.91,98.16 121.14,99.81 C122.38,101.47 123.56,103.16 124.72,104.87 C125.88,106.58 127,108.32 128.1,110.07 C129.2,111.82 130.26,113.59 131.32,115.36 C132.38,117.14 133.41,118.92 134.44,120.71 C135.47,122.51 136.49,124.3 137.49,126.11 C138.49,127.92 139.48,129.73 140.46,131.55 C141.44,133.37 142.4,135.2 143.35,137.03 C144.3,138.86 145.24,140.7 146.16,142.55 C147.09,144.4 148,146.25 148.89,148.11 C149.79,149.97 150.67,151.84 151.54,153.72 C152.41,155.59 153.26,157.47 154.1,159.36 C154.94,161.25 155.76,163.14 156.57,165.04 C157.38,166.94 158.18,168.85 158.96,170.76 C159.74,172.67 160.51,174.59 161.26,176.51 C162.01,178.44 162.74,180.37 163.46,182.31 C164.18,184.24 164.88,186.18 165.57,188.13 C166.26,190.08 166.93,192.03 167.59,193.99 C168.25,195.95 168.89,197.91 169.51,199.88 C170.14,201.85 170.75,203.82 171.34,205.8 C171.93,207.78 172.51,209.76 173.07,211.75 C173.64,213.74 174.18,215.73 174.72,217.72 C175.25,219.72 175.77,221.72 176.29,223.72 C176.81,225.72 177.31,227.72 177.82,229.72 C178.32,231.73 178.81,233.73 179.31,235.74 C179.81,237.74 180.3,239.75 180.8,241.75 C181.29,243.76 181.79,245.76 182.29,247.77 C182.8,249.77 183.3,251.77 183.82,253.77 C184.34,255.77 184.86,257.77 185.4,259.76 C185.94,261.76 186.49,263.75 187.06,265.73 C187.62,267.72 188.2,269.7 188.78,271.68 C189.37,273.67 189.97,275.64 190.58,277.62 C191.18,279.59 191.8,281.56 192.43,283.53 C193.06,285.5 193.69,287.46 194.33,289.43 C194.97,291.39 195.62,293.35 196.28,295.31 C196.93,297.27 197.59,299.23 198.26,301.18 C198.92,303.14 199.58,305.09 200.26,307.04 C200.94,308.99 201.62,310.95 202.34,312.88 C203.05,314.82 203.77,316.76 204.55,318.67 C205.32,320.59 206.11,322.5 206.97,324.37 C207.83,326.25 208.72,328.12 209.69,329.94 C210.66,331.76 211.68,333.56 212.81,335.3 C213.93,337.03 215.11,338.73 216.42,340.33 C217.72,341.92 219.11,343.48 220.62,344.87 C222.13,346.27 223.75,347.6 225.48,348.7 C227.21,349.8 229.08,350.78 231,351.48 C232.93,352.19 234.98,352.68 237.01,352.93 C239.05,353.18 242.17,352.99 243.2,353" fill="none" stroke="#f00000" stroke-width="2.8" stroke-linecap="round" stroke-linejoin="round"/>
<path d="M87.21,74.1 C87.88,74.86 89.92,77.14 91.24,78.69 C92.57,80.24 93.86,81.81 95.14,83.4 C96.41,84.98 97.67,86.59 98.89,88.22 C100.12,89.84 101.33,91.49 102.51,93.15 C103.69,94.81 104.85,96.49 105.98,98.18 C107.12,99.87 108.23,101.58 109.32,103.3 C110.41,105.02 111.48,106.75 112.53,108.5 C113.58,110.25 114.6,112.01 115.61,113.78 C116.62,115.55 117.6,117.34 118.56,119.13 C119.53,120.93 120.47,122.73 121.4,124.55 C122.32,126.36 123.23,128.19 124.12,130.02 C125.01,131.86 125.88,133.7 126.73,135.55 C127.58,137.4 128.42,139.26 129.24,141.12 C130.06,142.99 130.86,144.86 131.64,146.74 C132.43,148.62 133.2,150.51 133.96,152.4 C134.72,154.29 135.46,156.19 136.19,158.09 C136.92,159.99 137.63,161.9 138.33,163.82 C139.04,165.73 139.73,167.65 140.41,169.57 C141.08,171.49 141.75,173.41 142.41,175.34 C143.06,177.27 143.71,179.2 144.34,181.14 C144.98,183.08 145.6,185.02 146.22,186.96 C146.84,188.9 147.45,190.84 148.05,192.79 C148.65,194.74 149.24,196.69 149.83,198.64 C150.41,200.59 150.99,202.55 151.56,204.5 C152.14,206.46 152.7,208.41 153.26,210.37 C153.83,212.33 154.38,214.29 154.93,216.25 C155.49,218.21 156.03,220.18 156.58,222.14 C157.13,224.1 157.67,226.07 158.21,228.03 C158.75,230 159.28,231.96 159.82,233.93 C160.36,235.89 160.89,237.86 161.43,239.83 C161.96,241.79 162.49,243.76 163.03,245.72 C163.57,247.69 164.1,249.66 164.64,251.62 C165.18,253.59 165.72,255.55 166.26,257.51 C166.81,259.48 167.35,261.44 167.9,263.4 C168.45,265.37 169.01,267.33 169.57,269.29 C170.13,271.25 170.69,273.2 171.26,275.16 C171.83,277.12 172.41,279.07 172.99,281.02 C173.57,282.97 174.16,284.92 174.76,286.87 C175.36,288.82 175.97,290.77 176.58,292.71 C177.2,294.65 177.82,296.59 178.46,298.53 C179.09,300.46 179.74,302.4 180.39,304.33 C181.05,306.25 181.71,308.18 182.39,310.1 C183.06,312.02 183.75,313.94 184.45,315.86 C185.15,317.77 185.86,319.68 186.59,321.58 C187.31,323.49 188.05,325.39 188.8,327.28 C189.55,329.18 190.31,331.07 191.09,332.95 C191.88,334.83 192.67,336.71 193.5,338.57 C194.33,340.43 195.18,342.28 196.08,344.11 C196.98,345.93 197.91,347.75 198.91,349.53 C199.91,351.3 200.94,353.06 202.06,354.76 C203.18,356.47 204.35,358.14 205.62,359.73 C206.88,361.33 208.22,362.88 209.66,364.31 C211.1,365.74 212.63,367.12 214.26,368.33 C215.88,369.55 217.62,370.66 219.42,371.6 C221.22,372.53 223.12,373.32 225.06,373.93 C226.99,374.55 229.01,374.98 231.02,375.27 C233.02,375.56 235.08,375.66 237.11,375.65 C239.14,375.64 242.19,375.28 243.2,375.2" fill="none" stroke="#7a0078" stroke-width="2.8" stroke-linecap="round" stroke-linejoin="round"/>
<path d="M87.2,74 C90.09,74.5 98.75,76.07 104.52,77 C110.29,77.93 116.07,78.9 121.84,79.6 C127.61,80.3 133.39,80.7 139.16,81.2 C144.93,81.7 150.71,82.1 156.48,82.6 C162.25,83.1 168.03,83.75 173.8,84.2 C179.57,84.65 185.35,85.1 191.12,85.3 C196.89,85.5 202.67,85.33 208.44,85.4 C214.21,85.47 219.99,85.88 225.76,85.7 C231.53,85.52 237.31,85.08 243.08,84.3 C248.85,83.52 254.63,81.77 260.4,81 C266.17,80.23 271.95,80 277.72,79.7 C283.49,79.4 289.27,79.42 295.04,79.2 C300.81,78.98 306.59,78.27 312.36,78.4 C318.13,78.53 323.91,79.6 329.68,80 C335.45,80.4 341.23,80.52 347,80.8 C352.77,81.08 358.55,81.55 364.32,81.7 C370.09,81.85 375.87,81.87 381.64,81.7 C387.41,81.53 393.19,80.75 398.96,80.7 C404.73,80.65 410.51,81.12 416.28,81.4 C422.05,81.68 427.83,82 433.6,82.4 C439.37,82.8 445.15,83.75 450.92,83.8 C456.69,83.85 462.47,82.88 468.24,82.7 C474.01,82.52 479.79,82.48 485.56,82.7 C491.33,82.92 497.11,83.67 502.88,84 C508.65,84.33 514.43,84.32 520.2,84.7 C525.97,85.08 531.75,86.37 537.52,86.3 C543.29,86.23 549.07,84.82 554.84,84.3 C560.61,83.78 566.39,83.33 572.16,83.2 C577.93,83.07 583.71,83.53 589.48,83.5 C595.25,83.47 601.03,83.13 606.8,83 C612.57,82.87 618.35,82.75 624.12,82.7 C629.89,82.65 635.67,82.92 641.44,82.7 C647.21,82.48 655.87,81.62 658.76,81.4" fill="none" stroke="#e96c1a" stroke-width="2.8" stroke-linecap="round" stroke-linejoin="round"/>
<line x1="692.6" y1="130.25" x2="729.6" y2="130.25" stroke="#9a9a9a" stroke-width="3" stroke-linecap="round"/>
<text transform="translate(745.2,137.9) scale(1,1.04)" text-anchor="start" font-weight="normal" font-size="26.3">pH 4.5</text>
<line x1="692.6" y1="163.75" x2="729.6" y2="163.75" stroke="#2c5dbf" stroke-width="3" stroke-linecap="round"/>
<text transform="translate(745.2,169.27) scale(1,1.04)" text-anchor="start" font-weight="normal" font-size="26.3">pH 5.5</text>
<line x1="692.6" y1="196" x2="729.6" y2="196" stroke="#58a12e" stroke-width="3" stroke-linecap="round"/>
<text transform="translate(745.2,200.64) scale(1,1.04)" text-anchor="start" font-weight="normal" font-size="26.3">pH 6.5</text>
<line x1="692.6" y1="228.1" x2="729.6" y2="228.1" stroke="#000000" stroke-width="3" stroke-linecap="round"/>
<text transform="translate(745.2,232.01) scale(1,1.04)" text-anchor="start" font-weight="normal" font-size="26.3">pH 7.5</text>
<line x1="692.6" y1="259.9" x2="729.6" y2="259.9" stroke="#ffba00" stroke-width="3" stroke-linecap="round"/>
<text transform="translate(745.2,263.38) scale(1,1.04)" text-anchor="start" font-weight="normal" font-size="26.3">pH 8.5</text>
<line x1="692.6" y1="291.8" x2="729.6" y2="291.8" stroke="#f00000" stroke-width="3" stroke-linecap="round"/>
<text transform="translate(745.2,294.75) scale(1,1.04)" text-anchor="start" font-weight="normal" font-size="26.3">pH 9.5</text>
<line x1="692.6" y1="323.1" x2="729.6" y2="323.1" stroke="#7a0078" stroke-width="3" stroke-linecap="round"/>
<text transform="translate(745.2,326.12) scale(1,1.04)" text-anchor="start" font-weight="normal" font-size="26.3">pH 10.5</text>
<line x1="692.6" y1="354" x2="729.6" y2="354" stroke="#e96c1a" stroke-width="3" stroke-linecap="round"/>
<text transform="translate(745.2,357.49) scale(1,1.04)" text-anchor="start" font-weight="normal" font-size="26.3">pH 11.5</text>
<line x1="951.3" y1="43.5" x2="951.3" y2="430.9" stroke="#000" stroke-width="2.8" stroke-linecap="butt"/>
<line x1="946" y1="426.4" x2="1533" y2="426.4" stroke="#000" stroke-width="2.8" stroke-linecap="butt"/>
<line x1="947.1" y1="426" x2="951.3" y2="426" stroke="#000" stroke-width="2.6" stroke-linecap="butt"/>
<line x1="947.1" y1="356.4" x2="951.3" y2="356.4" stroke="#000" stroke-width="2.6" stroke-linecap="butt"/>
<line x1="947.1" y1="286.8" x2="951.3" y2="286.8" stroke="#000" stroke-width="2.6" stroke-linecap="butt"/>
<line x1="947.1" y1="217.2" x2="951.3" y2="217.2" stroke="#000" stroke-width="2.6" stroke-linecap="butt"/>
<line x1="947.1" y1="147.6" x2="951.3" y2="147.6" stroke="#000" stroke-width="2.6" stroke-linecap="butt"/>
<line x1="947.1" y1="78" x2="951.3" y2="78" stroke="#000" stroke-width="2.6" stroke-linecap="butt"/>
<line x1="951.3" y1="426.4" x2="951.3" y2="430.6" stroke="#000" stroke-width="2.6" stroke-linecap="butt"/>
<line x1="1057.1" y1="426.4" x2="1057.1" y2="430.6" stroke="#000" stroke-width="2.6" stroke-linecap="butt"/>
<line x1="1162.9" y1="426.4" x2="1162.9" y2="430.6" stroke="#000" stroke-width="2.6" stroke-linecap="butt"/>
<line x1="1268.7" y1="426.4" x2="1268.7" y2="430.6" stroke="#000" stroke-width="2.6" stroke-linecap="butt"/>
<line x1="1374.5" y1="426.4" x2="1374.5" y2="430.6" stroke="#000" stroke-width="2.6" stroke-linecap="butt"/>
<line x1="1480.3" y1="426.4" x2="1480.3" y2="430.6" stroke="#000" stroke-width="2.6" stroke-linecap="butt"/>
<text transform="translate(935.8,82) scale(1,1.04)" text-anchor="end" font-weight="normal" font-size="26.3">1</text>
<text transform="translate(943,151.2) scale(1,1.04)" text-anchor="end" font-weight="normal" font-size="26.3">0.8</text>
<text transform="translate(943,220.8) scale(1,1.04)" text-anchor="end" font-weight="normal" font-size="26.3">0.6</text>
<text transform="translate(943,290) scale(1,1.04)" text-anchor="end" font-weight="normal" font-size="26.3">0.4</text>
<text transform="translate(943,359.2) scale(1,1.04)" text-anchor="end" font-weight="normal" font-size="26.3">0.2</text>
<text transform="translate(933.9,428.8) scale(1,1.04)" text-anchor="end" font-weight="normal" font-size="26.3">0</text>
<text transform="translate(954.2,453.4) scale(1,1.04)" text-anchor="middle" font-weight="normal" font-size="26.3">0</text>
<text transform="translate(1059.8,453.4) scale(1,1.04)" text-anchor="middle" font-weight="normal" font-size="26.3">2</text>
<text transform="translate(1165.3,453.4) scale(1,1.04)" text-anchor="middle" font-weight="normal" font-size="26.3">4</text>
<text transform="translate(1272,453.4) scale(1,1.04)" text-anchor="middle" font-weight="normal" font-size="26.3">6</text>
<text transform="translate(1378,453.4) scale(1,1.04)" text-anchor="middle" font-weight="normal" font-size="26.3">8</text>
<text transform="translate(1486.2,453.4) scale(1,1.04)" text-anchor="middle" font-weight="normal" font-size="26.3">10</text>
<text transform="translate(1237,485.5) scale(1,1.04)" text-anchor="middle" font-weight="normal" font-size="26.3">Time (min)</text>
<text text-anchor="middle" font-size="26.3" transform="translate(894.8,268.3) rotate(-90) scale(1,1.04)">OD600 nm</text>
<text transform="translate(862,21) scale(1,1)" text-anchor="start" font-weight="bold" font-size="26.3">b</text>
<line x1="1004.2" y1="97" x2="1004.2" y2="115" stroke="#1a1a1a" stroke-width="1.2" stroke-linecap="butt"/>
<line x1="1000.7" y1="97" x2="1007.7" y2="97" stroke="#1a1a1a" stroke-width="1.3" stroke-linecap="butt"/>
<line x1="1000.7" y1="115" x2="1007.7" y2="115" stroke="#1a1a1a" stroke-width="1.3" stroke-linecap="butt"/>
<line x1="1057.1" y1="117.9" x2="1057.1" y2="138.9" stroke="#1a1a1a" stroke-width="1.2" stroke-linecap="butt"/>
<line x1="1053.6" y1="117.9" x2="1060.6" y2="117.9" stroke="#1a1a1a" stroke-width="1.3" stroke-linecap="butt"/>
<line x1="1053.6" y1="138.9" x2="1060.6" y2="138.9" stroke="#1a1a1a" stroke-width="1.3" stroke-linecap="butt"/>
<line x1="1110" y1="155.8" x2="1110" y2="170.8" stroke="#1a1a1a" stroke-width="1.2" stroke-linecap="butt"/>
<line x1="1106.5" y1="155.8" x2="1113.5" y2="155.8" stroke="#1a1a1a" stroke-width="1.3" stroke-linecap="butt"/>
<line x1="1106.5" y1="170.8" x2="1113.5" y2="170.8" stroke="#1a1a1a" stroke-width="1.3" stroke-linecap="butt"/>
<line x1="1162.9" y1="201.8" x2="1162.9" y2="217.8" stroke="#1a1a1a" stroke-width="1.2" stroke-linecap="butt"/>
<line x1="1159.4" y1="201.8" x2="1166.4" y2="201.8" stroke="#1a1a1a" stroke-width="1.3" stroke-linecap="butt"/>
<line x1="1159.4" y1="217.8" x2="1166.4" y2="217.8" stroke="#1a1a1a" stroke-width="1.3" stroke-linecap="butt"/>
<line x1="1215.8" y1="258.3" x2="1215.8" y2="269.9" stroke="#1a1a1a" stroke-width="1.2" stroke-linecap="butt"/>
<line x1="1212.3" y1="258.3" x2="1219.3" y2="258.3" stroke="#1a1a1a" stroke-width="1.3" stroke-linecap="butt"/>
<line x1="1212.3" y1="269.9" x2="1219.3" y2="269.9" stroke="#1a1a1a" stroke-width="1.3" stroke-linecap="butt"/>
<line x1="1268.7" y1="304.9" x2="1268.7" y2="316.9" stroke="#1a1a1a" stroke-width="1.2" stroke-linecap="butt"/>
<line x1="1265.2" y1="304.9" x2="1272.2" y2="304.9" stroke="#1a1a1a" stroke-width="1.3" stroke-linecap="butt"/>
<line x1="1265.2" y1="316.9" x2="1272.2" y2="316.9" stroke="#1a1a1a" stroke-width="1.3" stroke-linecap="butt"/>
<line x1="1321.6" y1="334.5" x2="1321.6" y2="345.9" stroke="#1a1a1a" stroke-width="1.2" stroke-linecap="butt"/>
<line x1="1318.1" y1="334.5" x2="1325.1" y2="334.5" stroke="#1a1a1a" stroke-width="1.3" stroke-linecap="butt"/>
<line x1="1318.1" y1="345.9" x2="1325.1" y2="345.9" stroke="#1a1a1a" stroke-width="1.3" stroke-linecap="butt"/>
<line x1="1374.5" y1="348.9" x2="1374.5" y2="360.1" stroke="#1a1a1a" stroke-width="1.2" stroke-linecap="butt"/>
<line x1="1371" y1="348.9" x2="1378" y2="348.9" stroke="#1a1a1a" stroke-width="1.3" stroke-linecap="butt"/>
<line x1="1371" y1="360.1" x2="1378" y2="360.1" stroke="#1a1a1a" stroke-width="1.3" stroke-linecap="butt"/>
<line x1="1427.4" y1="355.1" x2="1427.4" y2="365.3" stroke="#1a1a1a" stroke-width="1.2" stroke-linecap="butt"/>
<line x1="1423.9" y1="355.1" x2="1430.9" y2="355.1" stroke="#1a1a1a" stroke-width="1.3" stroke-linecap="butt"/>
<line x1="1423.9" y1="365.3" x2="1430.9" y2="365.3" stroke="#1a1a1a" stroke-width="1.3" stroke-linecap="butt"/>
<line x1="1480.3" y1="355.1" x2="1480.3" y2="365.3" stroke="#1a1a1a" stroke-width="1.2" stroke-linecap="butt"/>
<line x1="1476.8" y1="355.1" x2="1483.8" y2="355.1" stroke="#1a1a1a" stroke-width="1.3" stroke-linecap="butt"/>
<line x1="1476.8" y1="365.3" x2="1483.8" y2="365.3" stroke="#1a1a1a" stroke-width="1.3" stroke-linecap="butt"/>
<line x1="1004.2" y1="92" x2="1004.2" y2="97" stroke="#1a1a1a" stroke-width="1.2" stroke-linecap="butt"/>
<line x1="1000.7" y1="92" x2="1007.7" y2="92" stroke="#1a1a1a" stroke-width="1.3" stroke-linecap="butt"/>
<line x1="1000.7" y1="97" x2="1007.7" y2="97" stroke="#1a1a1a" stroke-width="1.3" stroke-linecap="butt"/>
<line x1="1057.1" y1="118.4" x2="1057.1" y2="123.4" stroke="#1a1a1a" stroke-width="1.2" stroke-linecap="butt"/>
<line x1="1053.6" y1="118.4" x2="1060.6" y2="118.4" stroke="#1a1a1a" stroke-width="1.3" stroke-linecap="butt"/>
<line x1="1053.6" y1="123.4" x2="1060.6" y2="123.4" stroke="#1a1a1a" stroke-width="1.3" stroke-linecap="butt"/>
<line x1="1110" y1="157.9" x2="1110" y2="163.9" stroke="#1a1a1a" stroke-width="1.2" stroke-linecap="butt"/>
<line x1="1106.5" y1="157.9" x2="1113.5" y2="157.9" stroke="#1a1a1a" stroke-width="1.3" stroke-linecap="butt"/>
<line x1="1106.5" y1="163.9" x2="1113.5" y2="163.9" stroke="#1a1a1a" stroke-width="1.3" stroke-linecap="butt"/>
<line x1="1162.9" y1="201.3" x2="1162.9" y2="206.3" stroke="#1a1a1a" stroke-width="1.2" stroke-linecap="butt"/>
<line x1="1159.4" y1="201.3" x2="1166.4" y2="201.3" stroke="#1a1a1a" stroke-width="1.3" stroke-linecap="butt"/>
<line x1="1159.4" y1="206.3" x2="1166.4" y2="206.3" stroke="#1a1a1a" stroke-width="1.3" stroke-linecap="butt"/>
<line x1="1215.8" y1="244.2" x2="1215.8" y2="250.2" stroke="#1a1a1a" stroke-width="1.2" stroke-linecap="butt"/>
<line x1="1212.3" y1="244.2" x2="1219.3" y2="244.2" stroke="#1a1a1a" stroke-width="1.3" stroke-linecap="butt"/>
<line x1="1212.3" y1="250.2" x2="1219.3" y2="250.2" stroke="#1a1a1a" stroke-width="1.3" stroke-linecap="butt"/>
<line x1="1268.7" y1="283.9" x2="1268.7" y2="288.9" stroke="#1a1a1a" stroke-width="1.2" stroke-linecap="butt"/>
<line x1="1265.2" y1="283.9" x2="1272.2" y2="283.9" stroke="#1a1a1a" stroke-width="1.3" stroke-linecap="butt"/>
<line x1="1265.2" y1="288.9" x2="1272.2" y2="288.9" stroke="#1a1a1a" stroke-width="1.3" stroke-linecap="butt"/>
<line x1="1321.6" y1="314" x2="1321.6" y2="318" stroke="#1a1a1a" stroke-width="1.2" stroke-linecap="butt"/>
<line x1="1318.1" y1="314" x2="1325.1" y2="314" stroke="#1a1a1a" stroke-width="1.3" stroke-linecap="butt"/>
<line x1="1318.1" y1="318" x2="1325.1" y2="318" stroke="#1a1a1a" stroke-width="1.3" stroke-linecap="butt"/>
<line x1="1374.5" y1="333" x2="1374.5" y2="336" stroke="#1a1a1a" stroke-width="1.2" stroke-linecap="butt"/>
<line x1="1371" y1="333" x2="1378" y2="333" stroke="#1a1a1a" stroke-width="1.3" stroke-linecap="butt"/>
<line x1="1371" y1="336" x2="1378" y2="336" stroke="#1a1a1a" stroke-width="1.3" stroke-linecap="butt"/>
<line x1="1427.4" y1="341.8" x2="1427.4" y2="344.8" stroke="#1a1a1a" stroke-width="1.2" stroke-linecap="butt"/>
<line x1="1423.9" y1="341.8" x2="1430.9" y2="341.8" stroke="#1a1a1a" stroke-width="1.3" stroke-linecap="butt"/>
<line x1="1423.9" y1="344.8" x2="1430.9" y2="344.8" stroke="#1a1a1a" stroke-width="1.3" stroke-linecap="butt"/>
<line x1="1480.3" y1="343.4" x2="1480.3" y2="346.4" stroke="#1a1a1a" stroke-width="1.2" stroke-linecap="butt"/>
<line x1="1476.8" y1="343.4" x2="1483.8" y2="343.4" stroke="#1a1a1a" stroke-width="1.3" stroke-linecap="butt"/>
<line x1="1476.8" y1="346.4" x2="1483.8" y2="346.4" stroke="#1a1a1a" stroke-width="1.3" stroke-linecap="butt"/>
<line x1="1004.2" y1="88" x2="1004.2" y2="92" stroke="#1a1a1a" stroke-width="1.2" stroke-linecap="butt"/>
<line x1="1000.7" y1="88" x2="1007.7" y2="88" stroke="#1a1a1a" stroke-width="1.3" stroke-linecap="butt"/>
<line x1="1000.7" y1="92" x2="1007.7" y2="92" stroke="#1a1a1a" stroke-width="1.3" stroke-linecap="butt"/>
<line x1="1057.1" y1="110.9" x2="1057.1" y2="114.9" stroke="#1a1a1a" stroke-width="1.2" stroke-linecap="butt"/>
<line x1="1053.6" y1="110.9" x2="1060.6" y2="110.9" stroke="#1a1a1a" stroke-width="1.3" stroke-linecap="butt"/>
<line x1="1053.6" y1="114.9" x2="1060.6" y2="114.9" stroke="#1a1a1a" stroke-width="1.3" stroke-linecap="butt"/>
<line x1="1110" y1="150.9" x2="1110" y2="154.9" stroke="#1a1a1a" stroke-width="1.2" stroke-linecap="butt"/>
<line x1="1106.5" y1="150.9" x2="1113.5" y2="150.9" stroke="#1a1a1a" stroke-width="1.3" stroke-linecap="butt"/>
<line x1="1106.5" y1="154.9" x2="1113.5" y2="154.9" stroke="#1a1a1a" stroke-width="1.3" stroke-linecap="butt"/>
<line x1="1162.9" y1="191.4" x2="1162.9" y2="195.4" stroke="#1a1a1a" stroke-width="1.2" stroke-linecap="butt"/>
<line x1="1159.4" y1="191.4" x2="1166.4" y2="191.4" stroke="#1a1a1a" stroke-width="1.3" stroke-linecap="butt"/>
<line x1="1159.4" y1="195.4" x2="1166.4" y2="195.4" stroke="#1a1a1a" stroke-width="1.3" stroke-linecap="butt"/>
<line x1="1215.8" y1="217.5" x2="1215.8" y2="221.5" stroke="#1a1a1a" stroke-width="1.2" stroke-linecap="butt"/>
<line x1="1212.3" y1="217.5" x2="1219.3" y2="217.5" stroke="#1a1a1a" stroke-width="1.3" stroke-linecap="butt"/>
<line x1="1212.3" y1="221.5" x2="1219.3" y2="221.5" stroke="#1a1a1a" stroke-width="1.3" stroke-linecap="butt"/>
<line x1="1268.7" y1="233" x2="1268.7" y2="237" stroke="#1a1a1a" stroke-width="1.2" stroke-linecap="butt"/>
<line x1="1265.2" y1="233" x2="1272.2" y2="233" stroke="#1a1a1a" stroke-width="1.3" stroke-linecap="butt"/>
<line x1="1265.2" y1="237" x2="1272.2" y2="237" stroke="#1a1a1a" stroke-width="1.3" stroke-linecap="butt"/>
<line x1="1321.6" y1="240.8" x2="1321.6" y2="244.8" stroke="#1a1a1a" stroke-width="1.2" stroke-linecap="butt"/>
<line x1="1318.1" y1="240.8" x2="1325.1" y2="240.8" stroke="#1a1a1a" stroke-width="1.3" stroke-linecap="butt"/>
<line x1="1318.1" y1="244.8" x2="1325.1" y2="244.8" stroke="#1a1a1a" stroke-width="1.3" stroke-linecap="butt"/>
<line x1="1374.5" y1="244.2" x2="1374.5" y2="247.2" stroke="#1a1a1a" stroke-width="1.2" stroke-linecap="butt"/>
<line x1="1371" y1="244.2" x2="1378" y2="244.2" stroke="#1a1a1a" stroke-width="1.3" stroke-linecap="butt"/>
<line x1="1371" y1="247.2" x2="1378" y2="247.2" stroke="#1a1a1a" stroke-width="1.3" stroke-linecap="butt"/>
<line x1="1004.2" y1="87.5" x2="1004.2" y2="92.5" stroke="#1a1a1a" stroke-width="1.2" stroke-linecap="butt"/>
<line x1="1000.7" y1="87.5" x2="1007.7" y2="87.5" stroke="#1a1a1a" stroke-width="1.3" stroke-linecap="butt"/>
<line x1="1000.7" y1="92.5" x2="1007.7" y2="92.5" stroke="#1a1a1a" stroke-width="1.3" stroke-linecap="butt"/>
<line x1="1057.1" y1="95.5" x2="1057.1" y2="100.5" stroke="#1a1a1a" stroke-width="1.2" stroke-linecap="butt"/>
<line x1="1053.6" y1="95.5" x2="1060.6" y2="95.5" stroke="#1a1a1a" stroke-width="1.3" stroke-linecap="butt"/>
<line x1="1053.6" y1="100.5" x2="1060.6" y2="100.5" stroke="#1a1a1a" stroke-width="1.3" stroke-linecap="butt"/>
<line x1="1110" y1="105.9" x2="1110" y2="109.9" stroke="#1a1a1a" stroke-width="1.2" stroke-linecap="butt"/>
<line x1="1106.5" y1="105.9" x2="1113.5" y2="105.9" stroke="#1a1a1a" stroke-width="1.3" stroke-linecap="butt"/>
<line x1="1106.5" y1="109.9" x2="1113.5" y2="109.9" stroke="#1a1a1a" stroke-width="1.3" stroke-linecap="butt"/>
<line x1="1162.9" y1="117.4" x2="1162.9" y2="122.4" stroke="#1a1a1a" stroke-width="1.2" stroke-linecap="butt"/>
<line x1="1159.4" y1="117.4" x2="1166.4" y2="117.4" stroke="#1a1a1a" stroke-width="1.3" stroke-linecap="butt"/>
<line x1="1159.4" y1="122.4" x2="1166.4" y2="122.4" stroke="#1a1a1a" stroke-width="1.3" stroke-linecap="butt"/>
<line x1="1215.8" y1="129.2" x2="1215.8" y2="134.2" stroke="#1a1a1a" stroke-width="1.2" stroke-linecap="butt"/>
<line x1="1212.3" y1="129.2" x2="1219.3" y2="129.2" stroke="#1a1a1a" stroke-width="1.3" stroke-linecap="butt"/>
<line x1="1212.3" y1="134.2" x2="1219.3" y2="134.2" stroke="#1a1a1a" stroke-width="1.3" stroke-linecap="butt"/>
<line x1="1268.7" y1="140.4" x2="1268.7" y2="145.4" stroke="#1a1a1a" stroke-width="1.2" stroke-linecap="butt"/>
<line x1="1265.2" y1="140.4" x2="1272.2" y2="140.4" stroke="#1a1a1a" stroke-width="1.3" stroke-linecap="butt"/>
<line x1="1265.2" y1="145.4" x2="1272.2" y2="145.4" stroke="#1a1a1a" stroke-width="1.3" stroke-linecap="butt"/>
<line x1="1321.6" y1="148.1" x2="1321.6" y2="153.1" stroke="#1a1a1a" stroke-width="1.2" stroke-linecap="butt"/>
<line x1="1318.1" y1="148.1" x2="1325.1" y2="148.1" stroke="#1a1a1a" stroke-width="1.3" stroke-linecap="butt"/>
<line x1="1318.1" y1="153.1" x2="1325.1" y2="153.1" stroke="#1a1a1a" stroke-width="1.3" stroke-linecap="butt"/>
<line x1="1374.5" y1="151.8" x2="1374.5" y2="156.8" stroke="#1a1a1a" stroke-width="1.2" stroke-linecap="butt"/>
<line x1="1371" y1="151.8" x2="1378" y2="151.8" stroke="#1a1a1a" stroke-width="1.3" stroke-linecap="butt"/>
<line x1="1371" y1="156.8" x2="1378" y2="156.8" stroke="#1a1a1a" stroke-width="1.3" stroke-linecap="butt"/>
<line x1="1427.4" y1="152.3" x2="1427.4" y2="158.3" stroke="#1a1a1a" stroke-width="1.2" stroke-linecap="butt"/>
<line x1="1423.9" y1="152.3" x2="1430.9" y2="152.3" stroke="#1a1a1a" stroke-width="1.3" stroke-linecap="butt"/>
<line x1="1423.9" y1="158.3" x2="1430.9" y2="158.3" stroke="#1a1a1a" stroke-width="1.3" stroke-linecap="butt"/>
<path d="M951.3,78 C960.12,82.52 986.57,96.78 1004.2,105.1 C1021.83,113.42 1039.47,118.25 1057.1,127.9 C1074.73,137.55 1092.37,149.35 1110,163 C1127.63,176.65 1145.27,192.95 1162.9,209.8 C1180.53,226.65 1198.17,247.25 1215.8,264.1 C1233.43,280.95 1251.07,298.22 1268.7,310.9 C1286.33,323.58 1303.97,332.93 1321.6,340.2 C1339.23,347.47 1356.87,351.17 1374.5,354.5 C1392.13,357.83 1409.77,359.25 1427.4,360.2 C1445.03,361.15 1471.48,360.2 1480.3,360.2" fill="none" stroke="#000000" stroke-width="2.8" stroke-linecap="round" stroke-linejoin="round"/>
<path d="M951.3,78 C960.12,80.75 986.57,87.35 1004.2,94.5 C1021.83,101.65 1039.47,109.83 1057.1,120.9 C1074.73,131.97 1092.37,147.08 1110,160.9 C1127.63,174.72 1145.27,189.42 1162.9,203.8 C1180.53,218.18 1198.17,233.43 1215.8,247.2 C1233.43,260.97 1251.07,274.93 1268.7,286.4 C1286.33,297.87 1303.97,307.98 1321.6,316 C1339.23,324.02 1356.87,329.95 1374.5,334.5 C1392.13,339.05 1409.77,341.57 1427.4,343.3 C1445.03,345.03 1471.48,344.63 1480.3,344.9" fill="none" stroke="#e96c1a" stroke-width="2.8" stroke-linecap="round" stroke-linejoin="round"/>
<path d="M951.3,78 C960.12,80 986.57,84.18 1004.2,90 C1021.83,95.82 1039.47,102.42 1057.1,112.9 C1074.73,123.38 1092.37,139.48 1110,152.9 C1127.63,166.32 1145.27,182.3 1162.9,193.4 C1180.53,204.5 1198.17,212.57 1215.8,219.5 C1233.43,226.43 1251.07,231.12 1268.7,235 C1286.33,238.88 1303.97,241.02 1321.6,242.8 C1339.23,244.58 1365.68,245.22 1374.5,245.7" fill="none" stroke="#58a12e" stroke-width="2.8" stroke-linecap="round" stroke-linejoin="round"/>
<path d="M951.3,78 C960.12,80 986.57,86.67 1004.2,90 C1021.83,93.33 1039.47,95.02 1057.1,98 C1074.73,100.98 1092.37,104.25 1110,107.9 C1127.63,111.55 1145.27,115.93 1162.9,119.9 C1180.53,123.87 1198.17,127.87 1215.8,131.7 C1233.43,135.53 1251.07,139.75 1268.7,142.9 C1286.33,146.05 1303.97,148.7 1321.6,150.6 C1339.23,152.5 1356.87,153.52 1374.5,154.3 C1392.13,155.08 1418.58,155.13 1427.4,155.3" fill="none" stroke="#2c5dbf" stroke-width="2.8" stroke-linecap="round" stroke-linejoin="round"/>
<line x1="1540.6" y1="212.7" x2="1577.5" y2="212.7" stroke="#000000" stroke-width="3" stroke-linecap="round"/>
<text transform="translate(1587.3,216.9) scale(1,1.04)" text-anchor="start" font-weight="normal" font-size="26.3">12.5 mM NaCl</text>
<line x1="1540.6" y1="243.7" x2="1577.5" y2="243.7" stroke="#e96c1a" stroke-width="3" stroke-linecap="round"/>
<text transform="translate(1587.3,248.2) scale(1,1.04)" text-anchor="start" font-weight="normal" font-size="26.3">100 mM NaCl</text>
<line x1="1540.6" y1="274.5" x2="1577.5" y2="274.5" stroke="#58a12e" stroke-width="3" stroke-linecap="round"/>
<text transform="translate(1587.3,279.4) scale(1,1.04)" text-anchor="start" font-weight="normal" font-size="26.3">200 mM NaCl</text>
<line x1="1540.6" y1="305.6" x2="1577.5" y2="305.6" stroke="#2c5dbf" stroke-width="3" stroke-linecap="round"/>
<text transform="translate(1587.3,310.6) scale(1,1.04)" text-anchor="start" font-weight="normal" font-size="26.3">400 mM NaCl</text>
<line x1="88.8" y1="545.5" x2="88.8" y2="935.2" stroke="#000" stroke-width="2.8" stroke-linecap="butt"/>
<line x1="84.4" y1="931.5" x2="676.6" y2="931.5" stroke="#000" stroke-width="2.8" stroke-linecap="butt"/>
<line x1="84.6" y1="931.2" x2="88.8" y2="931.2" stroke="#000" stroke-width="2.6" stroke-linecap="butt"/>
<line x1="84.6" y1="861.16" x2="88.8" y2="861.16" stroke="#000" stroke-width="2.6" stroke-linecap="butt"/>
<line x1="84.6" y1="791.12" x2="88.8" y2="791.12" stroke="#000" stroke-width="2.6" stroke-linecap="butt"/>
<line x1="84.6" y1="721.08" x2="88.8" y2="721.08" stroke="#000" stroke-width="2.6" stroke-linecap="butt"/>
<line x1="84.6" y1="651.04" x2="88.8" y2="651.04" stroke="#000" stroke-width="2.6" stroke-linecap="butt"/>
<line x1="84.6" y1="581" x2="88.8" y2="581" stroke="#000" stroke-width="2.6" stroke-linecap="butt"/>
<line x1="88.5" y1="931.5" x2="88.5" y2="935.5" stroke="#000" stroke-width="2.6" stroke-linecap="butt"/>
<line x1="166.9" y1="931.5" x2="166.9" y2="935.5" stroke="#000" stroke-width="2.6" stroke-linecap="butt"/>
<line x1="245.3" y1="931.5" x2="245.3" y2="935.5" stroke="#000" stroke-width="2.6" stroke-linecap="butt"/>
<line x1="323.7" y1="931.5" x2="323.7" y2="935.5" stroke="#000" stroke-width="2.6" stroke-linecap="butt"/>
<line x1="402.1" y1="931.5" x2="402.1" y2="935.5" stroke="#000" stroke-width="2.6" stroke-linecap="butt"/>
<line x1="480.5" y1="931.5" x2="480.5" y2="935.5" stroke="#000" stroke-width="2.6" stroke-linecap="butt"/>
<line x1="558.9" y1="931.5" x2="558.9" y2="935.5" stroke="#000" stroke-width="2.6" stroke-linecap="butt"/>
<line x1="637.3" y1="931.5" x2="637.3" y2="935.5" stroke="#000" stroke-width="2.6" stroke-linecap="butt"/>
<text transform="translate(77.6,581) scale(1,1.04)" text-anchor="end" font-weight="normal" font-size="26.3">1</text>
<text transform="translate(79,651) scale(1,1.04)" text-anchor="end" font-weight="normal" font-size="26.3">0.8</text>
<text transform="translate(79,721) scale(1,1.04)" text-anchor="end" font-weight="normal" font-size="26.3">0.6</text>
<text transform="translate(79,791) scale(1,1.04)" text-anchor="end" font-weight="normal" font-size="26.3">0.4</text>
<text transform="translate(79,861) scale(1,1.04)" text-anchor="end" font-weight="normal" font-size="26.3">0.2</text>
<text transform="translate(77.1,931) scale(1,1.04)" text-anchor="end" font-weight="normal" font-size="26.3">0</text>
<text transform="translate(88.8,963) scale(1,1.04)" text-anchor="middle" font-weight="normal" font-size="26.3">0</text>
<text transform="translate(167.6,963) scale(1,1.04)" text-anchor="middle" font-weight="normal" font-size="26.3">2</text>
<text transform="translate(245.5,963) scale(1,1.04)" text-anchor="middle" font-weight="normal" font-size="26.3">4</text>
<text transform="translate(324.2,963) scale(1,1.04)" text-anchor="middle" font-weight="normal" font-size="26.3">6</text>
<text transform="translate(402.2,963) scale(1,1.04)" text-anchor="middle" font-weight="normal" font-size="26.3">8</text>
<text transform="translate(483.4,963) scale(1,1.04)" text-anchor="middle" font-weight="normal" font-size="26.3">10</text>
<text transform="translate(561.8,963) scale(1,1.04)" text-anchor="middle" font-weight="normal" font-size="26.3">12</text>
<text transform="translate(640.2,963) scale(1,1.04)" text-anchor="middle" font-weight="normal" font-size="26.3">14</text>
<text transform="translate(340.5,992.9) scale(1,1.04)" text-anchor="middle" font-weight="normal" font-size="26.3">Time (min)</text>
<text text-anchor="middle" font-size="26.3" transform="translate(22,748.2) rotate(-90) scale(1,1.04)">OD600 nm</text>
<text transform="translate(4.2,532) scale(1,1)" text-anchor="start" font-weight="bold" font-size="26.3">c</text>
<line x1="128" y1="587.1" x2="128" y2="594.1" stroke="#1a1a1a" stroke-width="1.2" stroke-linecap="butt"/>
<line x1="124.5" y1="587.1" x2="131.5" y2="587.1" stroke="#1a1a1a" stroke-width="1.3" stroke-linecap="butt"/>
<line x1="124.5" y1="594.1" x2="131.5" y2="594.1" stroke="#1a1a1a" stroke-width="1.3" stroke-linecap="butt"/>
<line x1="167.2" y1="610.6" x2="167.2" y2="620" stroke="#1a1a1a" stroke-width="1.2" stroke-linecap="butt"/>
<line x1="163.7" y1="610.6" x2="170.7" y2="610.6" stroke="#1a1a1a" stroke-width="1.3" stroke-linecap="butt"/>
<line x1="163.7" y1="620" x2="170.7" y2="620" stroke="#1a1a1a" stroke-width="1.3" stroke-linecap="butt"/>
<line x1="206.4" y1="645.9" x2="206.4" y2="656.9" stroke="#1a1a1a" stroke-width="1.2" stroke-linecap="butt"/>
<line x1="202.9" y1="645.9" x2="209.9" y2="645.9" stroke="#1a1a1a" stroke-width="1.3" stroke-linecap="butt"/>
<line x1="202.9" y1="656.9" x2="209.9" y2="656.9" stroke="#1a1a1a" stroke-width="1.3" stroke-linecap="butt"/>
<line x1="245.6" y1="690.5" x2="245.6" y2="702.5" stroke="#1a1a1a" stroke-width="1.2" stroke-linecap="butt"/>
<line x1="242.1" y1="690.5" x2="249.1" y2="690.5" stroke="#1a1a1a" stroke-width="1.3" stroke-linecap="butt"/>
<line x1="242.1" y1="702.5" x2="249.1" y2="702.5" stroke="#1a1a1a" stroke-width="1.3" stroke-linecap="butt"/>
<line x1="284.8" y1="739.2" x2="284.8" y2="751.8" stroke="#1a1a1a" stroke-width="1.2" stroke-linecap="butt"/>
<line x1="281.3" y1="739.2" x2="288.3" y2="739.2" stroke="#1a1a1a" stroke-width="1.3" stroke-linecap="butt"/>
<line x1="281.3" y1="751.8" x2="288.3" y2="751.8" stroke="#1a1a1a" stroke-width="1.3" stroke-linecap="butt"/>
<line x1="324" y1="788" x2="324" y2="798.4" stroke="#1a1a1a" stroke-width="1.2" stroke-linecap="butt"/>
<line x1="320.5" y1="788" x2="327.5" y2="788" stroke="#1a1a1a" stroke-width="1.3" stroke-linecap="butt"/>
<line x1="320.5" y1="798.4" x2="327.5" y2="798.4" stroke="#1a1a1a" stroke-width="1.3" stroke-linecap="butt"/>
<line x1="363.2" y1="820.7" x2="363.2" y2="825.7" stroke="#1a1a1a" stroke-width="1.2" stroke-linecap="butt"/>
<line x1="359.7" y1="820.7" x2="366.7" y2="820.7" stroke="#1a1a1a" stroke-width="1.3" stroke-linecap="butt"/>
<line x1="359.7" y1="825.7" x2="366.7" y2="825.7" stroke="#1a1a1a" stroke-width="1.3" stroke-linecap="butt"/>
<line x1="402.4" y1="833.1" x2="402.4" y2="836.1" stroke="#1a1a1a" stroke-width="1.2" stroke-linecap="butt"/>
<line x1="398.9" y1="833.1" x2="405.9" y2="833.1" stroke="#1a1a1a" stroke-width="1.3" stroke-linecap="butt"/>
<line x1="398.9" y1="836.1" x2="405.9" y2="836.1" stroke="#1a1a1a" stroke-width="1.3" stroke-linecap="butt"/>
<line x1="441.6" y1="833.6" x2="441.6" y2="836.6" stroke="#1a1a1a" stroke-width="1.2" stroke-linecap="butt"/>
<line x1="438.1" y1="833.6" x2="445.1" y2="833.6" stroke="#1a1a1a" stroke-width="1.3" stroke-linecap="butt"/>
<line x1="438.1" y1="836.6" x2="445.1" y2="836.6" stroke="#1a1a1a" stroke-width="1.3" stroke-linecap="butt"/>
<line x1="128" y1="583.3" x2="128" y2="587.3" stroke="#1a1a1a" stroke-width="1.2" stroke-linecap="butt"/>
<line x1="124.5" y1="583.3" x2="131.5" y2="583.3" stroke="#1a1a1a" stroke-width="1.3" stroke-linecap="butt"/>
<line x1="124.5" y1="587.3" x2="131.5" y2="587.3" stroke="#1a1a1a" stroke-width="1.3" stroke-linecap="butt"/>
<line x1="167.2" y1="593.4" x2="167.2" y2="599.4" stroke="#1a1a1a" stroke-width="1.2" stroke-linecap="butt"/>
<line x1="163.7" y1="593.4" x2="170.7" y2="593.4" stroke="#1a1a1a" stroke-width="1.3" stroke-linecap="butt"/>
<line x1="163.7" y1="599.4" x2="170.7" y2="599.4" stroke="#1a1a1a" stroke-width="1.3" stroke-linecap="butt"/>
<line x1="206.4" y1="604.2" x2="206.4" y2="613.2" stroke="#1a1a1a" stroke-width="1.2" stroke-linecap="butt"/>
<line x1="202.9" y1="604.2" x2="209.9" y2="604.2" stroke="#1a1a1a" stroke-width="1.3" stroke-linecap="butt"/>
<line x1="202.9" y1="613.2" x2="209.9" y2="613.2" stroke="#1a1a1a" stroke-width="1.3" stroke-linecap="butt"/>
<line x1="245.6" y1="616.1" x2="245.6" y2="626.5" stroke="#1a1a1a" stroke-width="1.2" stroke-linecap="butt"/>
<line x1="242.1" y1="616.1" x2="249.1" y2="616.1" stroke="#1a1a1a" stroke-width="1.3" stroke-linecap="butt"/>
<line x1="242.1" y1="626.5" x2="249.1" y2="626.5" stroke="#1a1a1a" stroke-width="1.3" stroke-linecap="butt"/>
<line x1="284.8" y1="628.1" x2="284.8" y2="639.1" stroke="#1a1a1a" stroke-width="1.2" stroke-linecap="butt"/>
<line x1="281.3" y1="628.1" x2="288.3" y2="628.1" stroke="#1a1a1a" stroke-width="1.3" stroke-linecap="butt"/>
<line x1="281.3" y1="639.1" x2="288.3" y2="639.1" stroke="#1a1a1a" stroke-width="1.3" stroke-linecap="butt"/>
<line x1="324" y1="641.6" x2="324" y2="651.2" stroke="#1a1a1a" stroke-width="1.2" stroke-linecap="butt"/>
<line x1="320.5" y1="641.6" x2="327.5" y2="641.6" stroke="#1a1a1a" stroke-width="1.3" stroke-linecap="butt"/>
<line x1="320.5" y1="651.2" x2="327.5" y2="651.2" stroke="#1a1a1a" stroke-width="1.3" stroke-linecap="butt"/>
<line x1="363.2" y1="653.1" x2="363.2" y2="662.1" stroke="#1a1a1a" stroke-width="1.2" stroke-linecap="butt"/>
<line x1="359.7" y1="653.1" x2="366.7" y2="653.1" stroke="#1a1a1a" stroke-width="1.3" stroke-linecap="butt"/>
<line x1="359.7" y1="662.1" x2="366.7" y2="662.1" stroke="#1a1a1a" stroke-width="1.3" stroke-linecap="butt"/>
<line x1="402.4" y1="663.1" x2="402.4" y2="670.9" stroke="#1a1a1a" stroke-width="1.2" stroke-linecap="butt"/>
<line x1="398.9" y1="663.1" x2="405.9" y2="663.1" stroke="#1a1a1a" stroke-width="1.3" stroke-linecap="butt"/>
<line x1="398.9" y1="670.9" x2="405.9" y2="670.9" stroke="#1a1a1a" stroke-width="1.3" stroke-linecap="butt"/>
<line x1="441.6" y1="671.4" x2="441.6" y2="679.4" stroke="#1a1a1a" stroke-width="1.2" stroke-linecap="butt"/>
<line x1="438.1" y1="671.4" x2="445.1" y2="671.4" stroke="#1a1a1a" stroke-width="1.3" stroke-linecap="butt"/>
<line x1="438.1" y1="679.4" x2="445.1" y2="679.4" stroke="#1a1a1a" stroke-width="1.3" stroke-linecap="butt"/>
<line x1="480.8" y1="678.7" x2="480.8" y2="684.1" stroke="#1a1a1a" stroke-width="1.2" stroke-linecap="butt"/>
<line x1="477.3" y1="678.7" x2="484.3" y2="678.7" stroke="#1a1a1a" stroke-width="1.3" stroke-linecap="butt"/>
<line x1="477.3" y1="684.1" x2="484.3" y2="684.1" stroke="#1a1a1a" stroke-width="1.3" stroke-linecap="butt"/>
<line x1="520" y1="682.7" x2="520" y2="688.5" stroke="#1a1a1a" stroke-width="1.2" stroke-linecap="butt"/>
<line x1="516.5" y1="682.7" x2="523.5" y2="682.7" stroke="#1a1a1a" stroke-width="1.3" stroke-linecap="butt"/>
<line x1="516.5" y1="688.5" x2="523.5" y2="688.5" stroke="#1a1a1a" stroke-width="1.3" stroke-linecap="butt"/>
<line x1="559.2" y1="685.3" x2="559.2" y2="691.7" stroke="#1a1a1a" stroke-width="1.2" stroke-linecap="butt"/>
<line x1="555.7" y1="685.3" x2="562.7" y2="685.3" stroke="#1a1a1a" stroke-width="1.3" stroke-linecap="butt"/>
<line x1="555.7" y1="691.7" x2="562.7" y2="691.7" stroke="#1a1a1a" stroke-width="1.3" stroke-linecap="butt"/>
<line x1="598.4" y1="687" x2="598.4" y2="693.4" stroke="#1a1a1a" stroke-width="1.2" stroke-linecap="butt"/>
<line x1="594.9" y1="687" x2="601.9" y2="687" stroke="#1a1a1a" stroke-width="1.3" stroke-linecap="butt"/>
<line x1="594.9" y1="693.4" x2="601.9" y2="693.4" stroke="#1a1a1a" stroke-width="1.3" stroke-linecap="butt"/>
<line x1="631" y1="688.4" x2="631" y2="695.6" stroke="#1a1a1a" stroke-width="1.2" stroke-linecap="butt"/>
<line x1="627.5" y1="688.4" x2="634.5" y2="688.4" stroke="#1a1a1a" stroke-width="1.3" stroke-linecap="butt"/>
<line x1="627.5" y1="695.6" x2="634.5" y2="695.6" stroke="#1a1a1a" stroke-width="1.3" stroke-linecap="butt"/>
<line x1="128" y1="584.2" x2="128" y2="588.2" stroke="#1a1a1a" stroke-width="1.2" stroke-linecap="butt"/>
<line x1="124.5" y1="584.2" x2="131.5" y2="584.2" stroke="#1a1a1a" stroke-width="1.3" stroke-linecap="butt"/>
<line x1="124.5" y1="588.2" x2="131.5" y2="588.2" stroke="#1a1a1a" stroke-width="1.3" stroke-linecap="butt"/>
<line x1="167.2" y1="592.7" x2="167.2" y2="597.7" stroke="#1a1a1a" stroke-width="1.2" stroke-linecap="butt"/>
<line x1="163.7" y1="592.7" x2="170.7" y2="592.7" stroke="#1a1a1a" stroke-width="1.3" stroke-linecap="butt"/>
<line x1="163.7" y1="597.7" x2="170.7" y2="597.7" stroke="#1a1a1a" stroke-width="1.3" stroke-linecap="butt"/>
<line x1="206.4" y1="601.3" x2="206.4" y2="607.3" stroke="#1a1a1a" stroke-width="1.2" stroke-linecap="butt"/>
<line x1="202.9" y1="601.3" x2="209.9" y2="601.3" stroke="#1a1a1a" stroke-width="1.3" stroke-linecap="butt"/>
<line x1="202.9" y1="607.3" x2="209.9" y2="607.3" stroke="#1a1a1a" stroke-width="1.3" stroke-linecap="butt"/>
<line x1="245.6" y1="609.8" x2="245.6" y2="616.8" stroke="#1a1a1a" stroke-width="1.2" stroke-linecap="butt"/>
<line x1="242.1" y1="609.8" x2="249.1" y2="609.8" stroke="#1a1a1a" stroke-width="1.3" stroke-linecap="butt"/>
<line x1="242.1" y1="616.8" x2="249.1" y2="616.8" stroke="#1a1a1a" stroke-width="1.3" stroke-linecap="butt"/>
<line x1="284.8" y1="616.8" x2="284.8" y2="626.8" stroke="#1a1a1a" stroke-width="1.2" stroke-linecap="butt"/>
<line x1="281.3" y1="616.8" x2="288.3" y2="616.8" stroke="#1a1a1a" stroke-width="1.3" stroke-linecap="butt"/>
<line x1="281.3" y1="626.8" x2="288.3" y2="626.8" stroke="#1a1a1a" stroke-width="1.3" stroke-linecap="butt"/>
<line x1="324" y1="625" x2="324" y2="632.2" stroke="#1a1a1a" stroke-width="1.2" stroke-linecap="butt"/>
<line x1="320.5" y1="625" x2="327.5" y2="625" stroke="#1a1a1a" stroke-width="1.3" stroke-linecap="butt"/>
<line x1="320.5" y1="632.2" x2="327.5" y2="632.2" stroke="#1a1a1a" stroke-width="1.3" stroke-linecap="butt"/>
<line x1="363.2" y1="631.6" x2="363.2" y2="637.8" stroke="#1a1a1a" stroke-width="1.2" stroke-linecap="butt"/>
<line x1="359.7" y1="631.6" x2="366.7" y2="631.6" stroke="#1a1a1a" stroke-width="1.3" stroke-linecap="butt"/>
<line x1="359.7" y1="637.8" x2="366.7" y2="637.8" stroke="#1a1a1a" stroke-width="1.3" stroke-linecap="butt"/>
<line x1="402.4" y1="635.6" x2="402.4" y2="640.6" stroke="#1a1a1a" stroke-width="1.2" stroke-linecap="butt"/>
<line x1="398.9" y1="635.6" x2="405.9" y2="635.6" stroke="#1a1a1a" stroke-width="1.3" stroke-linecap="butt"/>
<line x1="398.9" y1="640.6" x2="405.9" y2="640.6" stroke="#1a1a1a" stroke-width="1.3" stroke-linecap="butt"/>
<line x1="441.6" y1="639.2" x2="441.6" y2="643.2" stroke="#1a1a1a" stroke-width="1.2" stroke-linecap="butt"/>
<line x1="438.1" y1="639.2" x2="445.1" y2="639.2" stroke="#1a1a1a" stroke-width="1.3" stroke-linecap="butt"/>
<line x1="438.1" y1="643.2" x2="445.1" y2="643.2" stroke="#1a1a1a" stroke-width="1.3" stroke-linecap="butt"/>
<line x1="480.8" y1="640.4" x2="480.8" y2="644.4" stroke="#1a1a1a" stroke-width="1.2" stroke-linecap="butt"/>
<line x1="477.3" y1="640.4" x2="484.3" y2="640.4" stroke="#1a1a1a" stroke-width="1.3" stroke-linecap="butt"/>
<line x1="477.3" y1="644.4" x2="484.3" y2="644.4" stroke="#1a1a1a" stroke-width="1.3" stroke-linecap="butt"/>
<line x1="128" y1="579.4" x2="128" y2="583.4" stroke="#1a1a1a" stroke-width="1.2" stroke-linecap="butt"/>
<line x1="124.5" y1="579.4" x2="131.5" y2="579.4" stroke="#1a1a1a" stroke-width="1.3" stroke-linecap="butt"/>
<line x1="124.5" y1="583.4" x2="131.5" y2="583.4" stroke="#1a1a1a" stroke-width="1.3" stroke-linecap="butt"/>
<line x1="167.2" y1="586.7" x2="167.2" y2="591.7" stroke="#1a1a1a" stroke-width="1.2" stroke-linecap="butt"/>
<line x1="163.7" y1="586.7" x2="170.7" y2="586.7" stroke="#1a1a1a" stroke-width="1.3" stroke-linecap="butt"/>
<line x1="163.7" y1="591.7" x2="170.7" y2="591.7" stroke="#1a1a1a" stroke-width="1.3" stroke-linecap="butt"/>
<line x1="206.4" y1="593.9" x2="206.4" y2="601.1" stroke="#1a1a1a" stroke-width="1.2" stroke-linecap="butt"/>
<line x1="202.9" y1="593.9" x2="209.9" y2="593.9" stroke="#1a1a1a" stroke-width="1.3" stroke-linecap="butt"/>
<line x1="202.9" y1="601.1" x2="209.9" y2="601.1" stroke="#1a1a1a" stroke-width="1.3" stroke-linecap="butt"/>
<line x1="245.6" y1="602.6" x2="245.6" y2="608.8" stroke="#1a1a1a" stroke-width="1.2" stroke-linecap="butt"/>
<line x1="242.1" y1="602.6" x2="249.1" y2="602.6" stroke="#1a1a1a" stroke-width="1.3" stroke-linecap="butt"/>
<line x1="242.1" y1="608.8" x2="249.1" y2="608.8" stroke="#1a1a1a" stroke-width="1.3" stroke-linecap="butt"/>
<line x1="284.8" y1="610.8" x2="284.8" y2="617.6" stroke="#1a1a1a" stroke-width="1.2" stroke-linecap="butt"/>
<line x1="281.3" y1="610.8" x2="288.3" y2="610.8" stroke="#1a1a1a" stroke-width="1.3" stroke-linecap="butt"/>
<line x1="281.3" y1="617.6" x2="288.3" y2="617.6" stroke="#1a1a1a" stroke-width="1.3" stroke-linecap="butt"/>
<line x1="324" y1="615.9" x2="324" y2="624.3" stroke="#1a1a1a" stroke-width="1.2" stroke-linecap="butt"/>
<line x1="320.5" y1="615.9" x2="327.5" y2="615.9" stroke="#1a1a1a" stroke-width="1.3" stroke-linecap="butt"/>
<line x1="320.5" y1="624.3" x2="327.5" y2="624.3" stroke="#1a1a1a" stroke-width="1.3" stroke-linecap="butt"/>
<line x1="363.2" y1="621.2" x2="363.2" y2="629.6" stroke="#1a1a1a" stroke-width="1.2" stroke-linecap="butt"/>
<line x1="359.7" y1="621.2" x2="366.7" y2="621.2" stroke="#1a1a1a" stroke-width="1.3" stroke-linecap="butt"/>
<line x1="359.7" y1="629.6" x2="366.7" y2="629.6" stroke="#1a1a1a" stroke-width="1.3" stroke-linecap="butt"/>
<line x1="402.4" y1="627.2" x2="402.4" y2="632.2" stroke="#1a1a1a" stroke-width="1.2" stroke-linecap="butt"/>
<line x1="398.9" y1="627.2" x2="405.9" y2="627.2" stroke="#1a1a1a" stroke-width="1.3" stroke-linecap="butt"/>
<line x1="398.9" y1="632.2" x2="405.9" y2="632.2" stroke="#1a1a1a" stroke-width="1.3" stroke-linecap="butt"/>
<line x1="441.6" y1="628" x2="441.6" y2="633" stroke="#1a1a1a" stroke-width="1.2" stroke-linecap="butt"/>
<line x1="438.1" y1="628" x2="445.1" y2="628" stroke="#1a1a1a" stroke-width="1.3" stroke-linecap="butt"/>
<line x1="438.1" y1="633" x2="445.1" y2="633" stroke="#1a1a1a" stroke-width="1.3" stroke-linecap="butt"/>
<line x1="480.8" y1="628.7" x2="480.8" y2="633.3" stroke="#1a1a1a" stroke-width="1.2" stroke-linecap="butt"/>
<line x1="477.3" y1="628.7" x2="484.3" y2="628.7" stroke="#1a1a1a" stroke-width="1.3" stroke-linecap="butt"/>
<line x1="477.3" y1="633.3" x2="484.3" y2="633.3" stroke="#1a1a1a" stroke-width="1.3" stroke-linecap="butt"/>
<path d="M88.8,581 C95.33,582.6 114.93,584.88 128,590.6 C141.07,596.32 154.13,605.17 167.2,615.3 C180.27,625.43 193.33,637.87 206.4,651.4 C219.47,664.93 232.53,680.82 245.6,696.5 C258.67,712.18 271.73,729.38 284.8,745.5 C297.87,761.62 310.93,780.25 324,793.2 C337.07,806.15 350.13,816.3 363.2,823.2 C376.27,830.1 389.33,832.62 402.4,834.6 C415.47,836.58 435.07,835.02 441.6,835.1" fill="none" stroke="#000000" stroke-width="2.8" stroke-linecap="round" stroke-linejoin="round"/>
<path d="M88.8,581 C95.33,581.72 114.93,582.73 128,585.3 C141.07,587.87 154.13,592.5 167.2,596.4 C180.27,600.3 193.33,604.55 206.4,608.7 C219.47,612.85 232.53,617.15 245.6,621.3 C258.67,625.45 271.73,629.42 284.8,633.6 C297.87,637.78 310.93,642.4 324,646.4 C337.07,650.4 350.13,654.17 363.2,657.6 C376.27,661.03 389.33,664.03 402.4,667 C415.47,669.97 428.53,673 441.6,675.4 C454.67,677.8 467.73,679.7 480.8,681.4 C493.87,683.1 506.93,684.42 520,685.6 C533.07,686.78 546.13,687.73 559.2,688.5 C572.27,689.27 585.33,689.9 598.4,690.2 C611.47,690.5 631.07,690.28 637.6,690.3" fill="none" stroke="#e96c1a" stroke-width="2.8" stroke-linecap="round" stroke-linejoin="round"/>
<path d="M88.8,581 C95.33,581.87 114.93,583.83 128,586.2 C141.07,588.57 154.13,592.18 167.2,595.2 C180.27,598.22 193.33,601.28 206.4,604.3 C219.47,607.32 232.53,610.38 245.6,613.3 C258.67,616.22 271.73,619.25 284.8,621.8 C297.87,624.35 310.93,626.45 324,628.6 C337.07,630.75 350.13,633.12 363.2,634.7 C376.27,636.28 389.33,637.02 402.4,638.1 C415.47,639.18 428.53,640.48 441.6,641.2 C454.67,641.92 474.27,642.2 480.8,642.4" fill="none" stroke="#58a12e" stroke-width="2.8" stroke-linecap="round" stroke-linejoin="round"/>
<path d="M88.8,581 C95.33,581.07 114.93,580.03 128,581.4 C141.07,582.77 154.13,586.52 167.2,589.2 C180.27,591.88 193.33,594.75 206.4,597.5 C219.47,600.25 232.53,602.92 245.6,605.7 C258.67,608.48 271.73,611.8 284.8,614.2 C297.87,616.6 310.93,618.23 324,620.1 C337.07,621.97 350.13,623.8 363.2,625.4 C376.27,627 389.33,628.85 402.4,629.7 C415.47,630.55 428.53,630.28 441.6,630.5 C454.67,630.72 474.27,630.92 480.8,631" fill="none" stroke="#2c5dbf" stroke-width="2.8" stroke-linecap="round" stroke-linejoin="round"/>
<line x1="644.1" y1="670.6" x2="680.9" y2="670.6" stroke="#000000" stroke-width="3" stroke-linecap="round"/>
<text transform="translate(687.7,677.9) scale(1,1.04)" text-anchor="start" font-weight="normal" font-size="26.3">0 mM CaCl<tspan font-size="15.5">2</tspan></text>
<line x1="644.1" y1="705.4" x2="680.9" y2="705.4" stroke="#e96c1a" stroke-width="3" stroke-linecap="round"/>
<text transform="translate(687.7,713.5) scale(1,1.04)" text-anchor="start" font-weight="normal" font-size="26.3">50 mM CaCl<tspan font-size="15.5">2</tspan></text>
<line x1="644.1" y1="740.4" x2="680.9" y2="740.4" stroke="#58a12e" stroke-width="3" stroke-linecap="round"/>
<text transform="translate(687.7,749.2) scale(1,1.04)" text-anchor="start" font-weight="normal" font-size="26.3">100 mM CaCl<tspan font-size="15.5">2</tspan></text>
<line x1="644.1" y1="775.1" x2="680.9" y2="775.1" stroke="#2c5dbf" stroke-width="3" stroke-linecap="round"/>
<text transform="translate(687.7,784.9) scale(1,1.04)" text-anchor="start" font-weight="normal" font-size="26.3">200 mM CaCl<tspan font-size="15.5">2</tspan></text>
<line x1="950.8" y1="547" x2="950.8" y2="934.6" stroke="#000" stroke-width="2.8" stroke-linecap="butt"/>
<line x1="946" y1="930.6" x2="1537.2" y2="930.6" stroke="#000" stroke-width="2.8" stroke-linecap="butt"/>
<line x1="946.6" y1="930.8" x2="950.8" y2="930.8" stroke="#000" stroke-width="2.6" stroke-linecap="butt"/>
<line x1="946.6" y1="860.84" x2="950.8" y2="860.84" stroke="#000" stroke-width="2.6" stroke-linecap="butt"/>
<line x1="946.6" y1="790.88" x2="950.8" y2="790.88" stroke="#000" stroke-width="2.6" stroke-linecap="butt"/>
<line x1="946.6" y1="720.92" x2="950.8" y2="720.92" stroke="#000" stroke-width="2.6" stroke-linecap="butt"/>
<line x1="946.6" y1="650.96" x2="950.8" y2="650.96" stroke="#000" stroke-width="2.6" stroke-linecap="butt"/>
<line x1="946.6" y1="581" x2="950.8" y2="581" stroke="#000" stroke-width="2.6" stroke-linecap="butt"/>
<line x1="950.8" y1="930.6" x2="950.8" y2="934.6" stroke="#000" stroke-width="2.6" stroke-linecap="butt"/>
<line x1="1018.3" y1="930.6" x2="1018.3" y2="934.6" stroke="#000" stroke-width="2.6" stroke-linecap="butt"/>
<line x1="1085.8" y1="930.6" x2="1085.8" y2="934.6" stroke="#000" stroke-width="2.6" stroke-linecap="butt"/>
<line x1="1153.3" y1="930.6" x2="1153.3" y2="934.6" stroke="#000" stroke-width="2.6" stroke-linecap="butt"/>
<line x1="1220.8" y1="930.6" x2="1220.8" y2="934.6" stroke="#000" stroke-width="2.6" stroke-linecap="butt"/>
<line x1="1288.3" y1="930.6" x2="1288.3" y2="934.6" stroke="#000" stroke-width="2.6" stroke-linecap="butt"/>
<line x1="1355.8" y1="930.6" x2="1355.8" y2="934.6" stroke="#000" stroke-width="2.6" stroke-linecap="butt"/>
<line x1="1423.3" y1="930.6" x2="1423.3" y2="934.6" stroke="#000" stroke-width="2.6" stroke-linecap="butt"/>
<line x1="1490.8" y1="930.6" x2="1490.8" y2="934.6" stroke="#000" stroke-width="2.6" stroke-linecap="butt"/>
<text transform="translate(934,585) scale(1,1.04)" text-anchor="end" font-weight="normal" font-size="26.3">1</text>
<text transform="translate(941,655) scale(1,1.04)" text-anchor="end" font-weight="normal" font-size="26.3">0.8</text>
<text transform="translate(941,724.2) scale(1,1.04)" text-anchor="end" font-weight="normal" font-size="26.3">0.6</text>
<text transform="translate(941,793) scale(1,1.04)" text-anchor="end" font-weight="normal" font-size="26.3">0.4</text>
<text transform="translate(941,863) scale(1,1.04)" text-anchor="end" font-weight="normal" font-size="26.3">0.2</text>
<text transform="translate(931.2,933) scale(1,1.04)" text-anchor="end" font-weight="normal" font-size="26.3">0</text>
<text transform="translate(950.9,963.6) scale(1,1.04)" text-anchor="middle" font-weight="normal" font-size="26.3">0</text>
<text transform="translate(1019.2,963.6) scale(1,1.04)" text-anchor="middle" font-weight="normal" font-size="26.3">2</text>
<text transform="translate(1084.5,963.6) scale(1,1.04)" text-anchor="middle" font-weight="normal" font-size="26.3">4</text>
<text transform="translate(1152.5,963.6) scale(1,1.04)" text-anchor="middle" font-weight="normal" font-size="26.3">6</text>
<text transform="translate(1221,963.6) scale(1,1.04)" text-anchor="middle" font-weight="normal" font-size="26.3">8</text>
<text transform="translate(1291.5,963.6) scale(1,1.04)" text-anchor="middle" font-weight="normal" font-size="26.3">10</text>
<text transform="translate(1360.2,963.6) scale(1,1.04)" text-anchor="middle" font-weight="normal" font-size="26.3">12</text>
<text transform="translate(1428.8,963.6) scale(1,1.04)" text-anchor="middle" font-weight="normal" font-size="26.3">14</text>
<text transform="translate(1497.2,963.6) scale(1,1.04)" text-anchor="middle" font-weight="normal" font-size="26.3">16</text>
<text transform="translate(1263.5,992.9) scale(1,1.04)" text-anchor="middle" font-weight="normal" font-size="26.3">Time (min)</text>
<text text-anchor="middle" font-size="26.3" transform="translate(894.4,748.2) rotate(-90) scale(1,1.04)">OD600 nm</text>
<text transform="translate(862,531.6) scale(1,1)" text-anchor="start" font-weight="bold" font-size="26.3">d</text>
<line x1="984.7" y1="594.3" x2="984.7" y2="598.3" stroke="#1a1a1a" stroke-width="1.2" stroke-linecap="butt"/>
<line x1="981.2" y1="594.3" x2="988.2" y2="594.3" stroke="#1a1a1a" stroke-width="1.3" stroke-linecap="butt"/>
<line x1="981.2" y1="598.3" x2="988.2" y2="598.3" stroke="#1a1a1a" stroke-width="1.3" stroke-linecap="butt"/>
<line x1="1018.4" y1="609.5" x2="1018.4" y2="613.5" stroke="#1a1a1a" stroke-width="1.2" stroke-linecap="butt"/>
<line x1="1014.9" y1="609.5" x2="1021.9" y2="609.5" stroke="#1a1a1a" stroke-width="1.3" stroke-linecap="butt"/>
<line x1="1014.9" y1="613.5" x2="1021.9" y2="613.5" stroke="#1a1a1a" stroke-width="1.3" stroke-linecap="butt"/>
<line x1="1052.1" y1="636.1" x2="1052.1" y2="640.1" stroke="#1a1a1a" stroke-width="1.2" stroke-linecap="butt"/>
<line x1="1048.6" y1="636.1" x2="1055.6" y2="636.1" stroke="#1a1a1a" stroke-width="1.3" stroke-linecap="butt"/>
<line x1="1048.6" y1="640.1" x2="1055.6" y2="640.1" stroke="#1a1a1a" stroke-width="1.3" stroke-linecap="butt"/>
<line x1="1085.8" y1="668.3" x2="1085.8" y2="672.3" stroke="#1a1a1a" stroke-width="1.2" stroke-linecap="butt"/>
<line x1="1082.3" y1="668.3" x2="1089.3" y2="668.3" stroke="#1a1a1a" stroke-width="1.3" stroke-linecap="butt"/>
<line x1="1082.3" y1="672.3" x2="1089.3" y2="672.3" stroke="#1a1a1a" stroke-width="1.3" stroke-linecap="butt"/>
<line x1="1119.5" y1="707.7" x2="1119.5" y2="713.3" stroke="#1a1a1a" stroke-width="1.2" stroke-linecap="butt"/>
<line x1="1116" y1="707.7" x2="1123" y2="707.7" stroke="#1a1a1a" stroke-width="1.3" stroke-linecap="butt"/>
<line x1="1116" y1="713.3" x2="1123" y2="713.3" stroke="#1a1a1a" stroke-width="1.3" stroke-linecap="butt"/>
<line x1="1153.2" y1="754.2" x2="1153.2" y2="761.2" stroke="#1a1a1a" stroke-width="1.2" stroke-linecap="butt"/>
<line x1="1149.7" y1="754.2" x2="1156.7" y2="754.2" stroke="#1a1a1a" stroke-width="1.3" stroke-linecap="butt"/>
<line x1="1149.7" y1="761.2" x2="1156.7" y2="761.2" stroke="#1a1a1a" stroke-width="1.3" stroke-linecap="butt"/>
<line x1="1186.9" y1="800.4" x2="1186.9" y2="807.4" stroke="#1a1a1a" stroke-width="1.2" stroke-linecap="butt"/>
<line x1="1183.4" y1="800.4" x2="1190.4" y2="800.4" stroke="#1a1a1a" stroke-width="1.3" stroke-linecap="butt"/>
<line x1="1183.4" y1="807.4" x2="1190.4" y2="807.4" stroke="#1a1a1a" stroke-width="1.3" stroke-linecap="butt"/>
<line x1="1220.6" y1="833.2" x2="1220.6" y2="837.2" stroke="#1a1a1a" stroke-width="1.2" stroke-linecap="butt"/>
<line x1="1217.1" y1="833.2" x2="1224.1" y2="833.2" stroke="#1a1a1a" stroke-width="1.3" stroke-linecap="butt"/>
<line x1="1217.1" y1="837.2" x2="1224.1" y2="837.2" stroke="#1a1a1a" stroke-width="1.3" stroke-linecap="butt"/>
<line x1="1254.3" y1="847.8" x2="1254.3" y2="849.8" stroke="#1a1a1a" stroke-width="1.2" stroke-linecap="butt"/>
<line x1="1250.8" y1="847.8" x2="1257.8" y2="847.8" stroke="#1a1a1a" stroke-width="1.3" stroke-linecap="butt"/>
<line x1="1250.8" y1="849.8" x2="1257.8" y2="849.8" stroke="#1a1a1a" stroke-width="1.3" stroke-linecap="butt"/>
<line x1="1288" y1="850.3" x2="1288" y2="852.3" stroke="#1a1a1a" stroke-width="1.2" stroke-linecap="butt"/>
<line x1="1284.5" y1="850.3" x2="1291.5" y2="850.3" stroke="#1a1a1a" stroke-width="1.3" stroke-linecap="butt"/>
<line x1="1284.5" y1="852.3" x2="1291.5" y2="852.3" stroke="#1a1a1a" stroke-width="1.3" stroke-linecap="butt"/>
<line x1="984.7" y1="586.6" x2="984.7" y2="589.6" stroke="#1a1a1a" stroke-width="1.2" stroke-linecap="butt"/>
<line x1="981.2" y1="586.6" x2="988.2" y2="586.6" stroke="#1a1a1a" stroke-width="1.3" stroke-linecap="butt"/>
<line x1="981.2" y1="589.6" x2="988.2" y2="589.6" stroke="#1a1a1a" stroke-width="1.3" stroke-linecap="butt"/>
<line x1="1018.4" y1="595.1" x2="1018.4" y2="598.1" stroke="#1a1a1a" stroke-width="1.2" stroke-linecap="butt"/>
<line x1="1014.9" y1="595.1" x2="1021.9" y2="595.1" stroke="#1a1a1a" stroke-width="1.3" stroke-linecap="butt"/>
<line x1="1014.9" y1="598.1" x2="1021.9" y2="598.1" stroke="#1a1a1a" stroke-width="1.3" stroke-linecap="butt"/>
<line x1="1052.1" y1="607.5" x2="1052.1" y2="610.5" stroke="#1a1a1a" stroke-width="1.2" stroke-linecap="butt"/>
<line x1="1048.6" y1="607.5" x2="1055.6" y2="607.5" stroke="#1a1a1a" stroke-width="1.3" stroke-linecap="butt"/>
<line x1="1048.6" y1="610.5" x2="1055.6" y2="610.5" stroke="#1a1a1a" stroke-width="1.3" stroke-linecap="butt"/>
<line x1="1085.8" y1="620.9" x2="1085.8" y2="623.9" stroke="#1a1a1a" stroke-width="1.2" stroke-linecap="butt"/>
<line x1="1082.3" y1="620.9" x2="1089.3" y2="620.9" stroke="#1a1a1a" stroke-width="1.3" stroke-linecap="butt"/>
<line x1="1082.3" y1="623.9" x2="1089.3" y2="623.9" stroke="#1a1a1a" stroke-width="1.3" stroke-linecap="butt"/>
<line x1="1119.5" y1="635.5" x2="1119.5" y2="638.5" stroke="#1a1a1a" stroke-width="1.2" stroke-linecap="butt"/>
<line x1="1116" y1="635.5" x2="1123" y2="635.5" stroke="#1a1a1a" stroke-width="1.3" stroke-linecap="butt"/>
<line x1="1116" y1="638.5" x2="1123" y2="638.5" stroke="#1a1a1a" stroke-width="1.3" stroke-linecap="butt"/>
<line x1="1153.2" y1="649.1" x2="1153.2" y2="652.1" stroke="#1a1a1a" stroke-width="1.2" stroke-linecap="butt"/>
<line x1="1149.7" y1="649.1" x2="1156.7" y2="649.1" stroke="#1a1a1a" stroke-width="1.3" stroke-linecap="butt"/>
<line x1="1149.7" y1="652.1" x2="1156.7" y2="652.1" stroke="#1a1a1a" stroke-width="1.3" stroke-linecap="butt"/>
<line x1="1186.9" y1="662.8" x2="1186.9" y2="665.8" stroke="#1a1a1a" stroke-width="1.2" stroke-linecap="butt"/>
<line x1="1183.4" y1="662.8" x2="1190.4" y2="662.8" stroke="#1a1a1a" stroke-width="1.3" stroke-linecap="butt"/>
<line x1="1183.4" y1="665.8" x2="1190.4" y2="665.8" stroke="#1a1a1a" stroke-width="1.3" stroke-linecap="butt"/>
<line x1="1220.6" y1="674.5" x2="1220.6" y2="677.5" stroke="#1a1a1a" stroke-width="1.2" stroke-linecap="butt"/>
<line x1="1217.1" y1="674.5" x2="1224.1" y2="674.5" stroke="#1a1a1a" stroke-width="1.3" stroke-linecap="butt"/>
<line x1="1217.1" y1="677.5" x2="1224.1" y2="677.5" stroke="#1a1a1a" stroke-width="1.3" stroke-linecap="butt"/>
<line x1="1254.3" y1="686.3" x2="1254.3" y2="688.3" stroke="#1a1a1a" stroke-width="1.2" stroke-linecap="butt"/>
<line x1="1250.8" y1="686.3" x2="1257.8" y2="686.3" stroke="#1a1a1a" stroke-width="1.3" stroke-linecap="butt"/>
<line x1="1250.8" y1="688.3" x2="1257.8" y2="688.3" stroke="#1a1a1a" stroke-width="1.3" stroke-linecap="butt"/>
<line x1="1288" y1="697.5" x2="1288" y2="699.5" stroke="#1a1a1a" stroke-width="1.2" stroke-linecap="butt"/>
<line x1="1284.5" y1="697.5" x2="1291.5" y2="697.5" stroke="#1a1a1a" stroke-width="1.3" stroke-linecap="butt"/>
<line x1="1284.5" y1="699.5" x2="1291.5" y2="699.5" stroke="#1a1a1a" stroke-width="1.3" stroke-linecap="butt"/>
<line x1="1321.7" y1="706.5" x2="1321.7" y2="708.5" stroke="#1a1a1a" stroke-width="1.2" stroke-linecap="butt"/>
<line x1="1318.2" y1="706.5" x2="1325.2" y2="706.5" stroke="#1a1a1a" stroke-width="1.3" stroke-linecap="butt"/>
<line x1="1318.2" y1="708.5" x2="1325.2" y2="708.5" stroke="#1a1a1a" stroke-width="1.3" stroke-linecap="butt"/>
<line x1="1355.4" y1="713.6" x2="1355.4" y2="715.6" stroke="#1a1a1a" stroke-width="1.2" stroke-linecap="butt"/>
<line x1="1351.9" y1="713.6" x2="1358.9" y2="713.6" stroke="#1a1a1a" stroke-width="1.3" stroke-linecap="butt"/>
<line x1="1351.9" y1="715.6" x2="1358.9" y2="715.6" stroke="#1a1a1a" stroke-width="1.3" stroke-linecap="butt"/>
<line x1="1389.1" y1="720.1" x2="1389.1" y2="722.1" stroke="#1a1a1a" stroke-width="1.2" stroke-linecap="butt"/>
<line x1="1385.6" y1="720.1" x2="1392.6" y2="720.1" stroke="#1a1a1a" stroke-width="1.3" stroke-linecap="butt"/>
<line x1="1385.6" y1="722.1" x2="1392.6" y2="722.1" stroke="#1a1a1a" stroke-width="1.3" stroke-linecap="butt"/>
<line x1="1422.8" y1="725.5" x2="1422.8" y2="727.5" stroke="#1a1a1a" stroke-width="1.2" stroke-linecap="butt"/>
<line x1="1419.3" y1="725.5" x2="1426.3" y2="725.5" stroke="#1a1a1a" stroke-width="1.3" stroke-linecap="butt"/>
<line x1="1419.3" y1="727.5" x2="1426.3" y2="727.5" stroke="#1a1a1a" stroke-width="1.3" stroke-linecap="butt"/>
<line x1="1456.5" y1="729.4" x2="1456.5" y2="731.4" stroke="#1a1a1a" stroke-width="1.2" stroke-linecap="butt"/>
<line x1="1453" y1="729.4" x2="1460" y2="729.4" stroke="#1a1a1a" stroke-width="1.3" stroke-linecap="butt"/>
<line x1="1453" y1="731.4" x2="1460" y2="731.4" stroke="#1a1a1a" stroke-width="1.3" stroke-linecap="butt"/>
<line x1="1490.2" y1="732.2" x2="1490.2" y2="734.2" stroke="#1a1a1a" stroke-width="1.2" stroke-linecap="butt"/>
<line x1="1486.7" y1="732.2" x2="1493.7" y2="732.2" stroke="#1a1a1a" stroke-width="1.3" stroke-linecap="butt"/>
<line x1="1486.7" y1="734.2" x2="1493.7" y2="734.2" stroke="#1a1a1a" stroke-width="1.3" stroke-linecap="butt"/>
<line x1="1523.9" y1="733" x2="1523.9" y2="736" stroke="#1a1a1a" stroke-width="1.2" stroke-linecap="butt"/>
<line x1="1520.4" y1="733" x2="1527.4" y2="733" stroke="#1a1a1a" stroke-width="1.3" stroke-linecap="butt"/>
<line x1="1520.4" y1="736" x2="1527.4" y2="736" stroke="#1a1a1a" stroke-width="1.3" stroke-linecap="butt"/>
<line x1="984.7" y1="592" x2="984.7" y2="597" stroke="#1a1a1a" stroke-width="1.2" stroke-linecap="butt"/>
<line x1="981.2" y1="592" x2="988.2" y2="592" stroke="#1a1a1a" stroke-width="1.3" stroke-linecap="butt"/>
<line x1="981.2" y1="597" x2="988.2" y2="597" stroke="#1a1a1a" stroke-width="1.3" stroke-linecap="butt"/>
<line x1="1018.4" y1="599.3" x2="1018.4" y2="608.7" stroke="#1a1a1a" stroke-width="1.2" stroke-linecap="butt"/>
<line x1="1014.9" y1="599.3" x2="1021.9" y2="599.3" stroke="#1a1a1a" stroke-width="1.3" stroke-linecap="butt"/>
<line x1="1014.9" y1="608.7" x2="1021.9" y2="608.7" stroke="#1a1a1a" stroke-width="1.3" stroke-linecap="butt"/>
<line x1="1052.1" y1="612.3" x2="1052.1" y2="621.7" stroke="#1a1a1a" stroke-width="1.2" stroke-linecap="butt"/>
<line x1="1048.6" y1="612.3" x2="1055.6" y2="612.3" stroke="#1a1a1a" stroke-width="1.3" stroke-linecap="butt"/>
<line x1="1048.6" y1="621.7" x2="1055.6" y2="621.7" stroke="#1a1a1a" stroke-width="1.3" stroke-linecap="butt"/>
<line x1="1085.8" y1="626.3" x2="1085.8" y2="632.3" stroke="#1a1a1a" stroke-width="1.2" stroke-linecap="butt"/>
<line x1="1082.3" y1="626.3" x2="1089.3" y2="626.3" stroke="#1a1a1a" stroke-width="1.3" stroke-linecap="butt"/>
<line x1="1082.3" y1="632.3" x2="1089.3" y2="632.3" stroke="#1a1a1a" stroke-width="1.3" stroke-linecap="butt"/>
<line x1="1119.5" y1="639" x2="1119.5" y2="644" stroke="#1a1a1a" stroke-width="1.2" stroke-linecap="butt"/>
<line x1="1116" y1="639" x2="1123" y2="639" stroke="#1a1a1a" stroke-width="1.3" stroke-linecap="butt"/>
<line x1="1116" y1="644" x2="1123" y2="644" stroke="#1a1a1a" stroke-width="1.3" stroke-linecap="butt"/>
<line x1="1153.2" y1="650.5" x2="1153.2" y2="655.5" stroke="#1a1a1a" stroke-width="1.2" stroke-linecap="butt"/>
<line x1="1149.7" y1="650.5" x2="1156.7" y2="650.5" stroke="#1a1a1a" stroke-width="1.3" stroke-linecap="butt"/>
<line x1="1149.7" y1="655.5" x2="1156.7" y2="655.5" stroke="#1a1a1a" stroke-width="1.3" stroke-linecap="butt"/>
<line x1="1186.9" y1="659.7" x2="1186.9" y2="665.7" stroke="#1a1a1a" stroke-width="1.2" stroke-linecap="butt"/>
<line x1="1183.4" y1="659.7" x2="1190.4" y2="659.7" stroke="#1a1a1a" stroke-width="1.3" stroke-linecap="butt"/>
<line x1="1183.4" y1="665.7" x2="1190.4" y2="665.7" stroke="#1a1a1a" stroke-width="1.3" stroke-linecap="butt"/>
<line x1="1220.6" y1="668" x2="1220.6" y2="674" stroke="#1a1a1a" stroke-width="1.2" stroke-linecap="butt"/>
<line x1="1217.1" y1="668" x2="1224.1" y2="668" stroke="#1a1a1a" stroke-width="1.3" stroke-linecap="butt"/>
<line x1="1217.1" y1="674" x2="1224.1" y2="674" stroke="#1a1a1a" stroke-width="1.3" stroke-linecap="butt"/>
<line x1="1254.3" y1="675.3" x2="1254.3" y2="683.7" stroke="#1a1a1a" stroke-width="1.2" stroke-linecap="butt"/>
<line x1="1250.8" y1="675.3" x2="1257.8" y2="675.3" stroke="#1a1a1a" stroke-width="1.3" stroke-linecap="butt"/>
<line x1="1250.8" y1="683.7" x2="1257.8" y2="683.7" stroke="#1a1a1a" stroke-width="1.3" stroke-linecap="butt"/>
<line x1="1288" y1="682.1" x2="1288" y2="689.5" stroke="#1a1a1a" stroke-width="1.2" stroke-linecap="butt"/>
<line x1="1284.5" y1="682.1" x2="1291.5" y2="682.1" stroke="#1a1a1a" stroke-width="1.3" stroke-linecap="butt"/>
<line x1="1284.5" y1="689.5" x2="1291.5" y2="689.5" stroke="#1a1a1a" stroke-width="1.3" stroke-linecap="butt"/>
<line x1="1321.7" y1="687.2" x2="1321.7" y2="693.2" stroke="#1a1a1a" stroke-width="1.2" stroke-linecap="butt"/>
<line x1="1318.2" y1="687.2" x2="1325.2" y2="687.2" stroke="#1a1a1a" stroke-width="1.3" stroke-linecap="butt"/>
<line x1="1318.2" y1="693.2" x2="1325.2" y2="693.2" stroke="#1a1a1a" stroke-width="1.3" stroke-linecap="butt"/>
<line x1="1355.4" y1="689.7" x2="1355.4" y2="694.7" stroke="#1a1a1a" stroke-width="1.2" stroke-linecap="butt"/>
<line x1="1351.9" y1="689.7" x2="1358.9" y2="689.7" stroke="#1a1a1a" stroke-width="1.3" stroke-linecap="butt"/>
<line x1="1351.9" y1="694.7" x2="1358.9" y2="694.7" stroke="#1a1a1a" stroke-width="1.3" stroke-linecap="butt"/>
<line x1="1389.1" y1="689.9" x2="1389.1" y2="697.1" stroke="#1a1a1a" stroke-width="1.2" stroke-linecap="butt"/>
<line x1="1385.6" y1="689.9" x2="1392.6" y2="689.9" stroke="#1a1a1a" stroke-width="1.3" stroke-linecap="butt"/>
<line x1="1385.6" y1="697.1" x2="1392.6" y2="697.1" stroke="#1a1a1a" stroke-width="1.3" stroke-linecap="butt"/>
<line x1="1422.8" y1="691.2" x2="1422.8" y2="697.6" stroke="#1a1a1a" stroke-width="1.2" stroke-linecap="butt"/>
<line x1="1419.3" y1="691.2" x2="1426.3" y2="691.2" stroke="#1a1a1a" stroke-width="1.3" stroke-linecap="butt"/>
<line x1="1419.3" y1="697.6" x2="1426.3" y2="697.6" stroke="#1a1a1a" stroke-width="1.3" stroke-linecap="butt"/>
<line x1="1456.5" y1="691.9" x2="1456.5" y2="698.9" stroke="#1a1a1a" stroke-width="1.2" stroke-linecap="butt"/>
<line x1="1453" y1="691.9" x2="1460" y2="691.9" stroke="#1a1a1a" stroke-width="1.3" stroke-linecap="butt"/>
<line x1="1453" y1="698.9" x2="1460" y2="698.9" stroke="#1a1a1a" stroke-width="1.3" stroke-linecap="butt"/>
<line x1="1490.2" y1="693.1" x2="1490.2" y2="698.1" stroke="#1a1a1a" stroke-width="1.2" stroke-linecap="butt"/>
<line x1="1486.7" y1="693.1" x2="1493.7" y2="693.1" stroke="#1a1a1a" stroke-width="1.3" stroke-linecap="butt"/>
<line x1="1486.7" y1="698.1" x2="1493.7" y2="698.1" stroke="#1a1a1a" stroke-width="1.3" stroke-linecap="butt"/>
<line x1="984.7" y1="596.3" x2="984.7" y2="603.1" stroke="#1a1a1a" stroke-width="1.2" stroke-linecap="butt"/>
<line x1="981.2" y1="596.3" x2="988.2" y2="596.3" stroke="#1a1a1a" stroke-width="1.3" stroke-linecap="butt"/>
<line x1="981.2" y1="603.1" x2="988.2" y2="603.1" stroke="#1a1a1a" stroke-width="1.3" stroke-linecap="butt"/>
<line x1="1018.4" y1="608.6" x2="1018.4" y2="613.6" stroke="#1a1a1a" stroke-width="1.2" stroke-linecap="butt"/>
<line x1="1014.9" y1="608.6" x2="1021.9" y2="608.6" stroke="#1a1a1a" stroke-width="1.3" stroke-linecap="butt"/>
<line x1="1014.9" y1="613.6" x2="1021.9" y2="613.6" stroke="#1a1a1a" stroke-width="1.3" stroke-linecap="butt"/>
<line x1="1052.1" y1="621.3" x2="1052.1" y2="627.3" stroke="#1a1a1a" stroke-width="1.2" stroke-linecap="butt"/>
<line x1="1048.6" y1="621.3" x2="1055.6" y2="621.3" stroke="#1a1a1a" stroke-width="1.3" stroke-linecap="butt"/>
<line x1="1048.6" y1="627.3" x2="1055.6" y2="627.3" stroke="#1a1a1a" stroke-width="1.3" stroke-linecap="butt"/>
<line x1="1085.8" y1="631.6" x2="1085.8" y2="638" stroke="#1a1a1a" stroke-width="1.2" stroke-linecap="butt"/>
<line x1="1082.3" y1="631.6" x2="1089.3" y2="631.6" stroke="#1a1a1a" stroke-width="1.3" stroke-linecap="butt"/>
<line x1="1082.3" y1="638" x2="1089.3" y2="638" stroke="#1a1a1a" stroke-width="1.3" stroke-linecap="butt"/>
<line x1="1119.5" y1="643" x2="1119.5" y2="648" stroke="#1a1a1a" stroke-width="1.2" stroke-linecap="butt"/>
<line x1="1116" y1="643" x2="1123" y2="643" stroke="#1a1a1a" stroke-width="1.3" stroke-linecap="butt"/>
<line x1="1116" y1="648" x2="1123" y2="648" stroke="#1a1a1a" stroke-width="1.3" stroke-linecap="butt"/>
<line x1="1153.2" y1="653.7" x2="1153.2" y2="657.7" stroke="#1a1a1a" stroke-width="1.2" stroke-linecap="butt"/>
<line x1="1149.7" y1="653.7" x2="1156.7" y2="653.7" stroke="#1a1a1a" stroke-width="1.3" stroke-linecap="butt"/>
<line x1="1149.7" y1="657.7" x2="1156.7" y2="657.7" stroke="#1a1a1a" stroke-width="1.3" stroke-linecap="butt"/>
<line x1="1186.9" y1="660" x2="1186.9" y2="665" stroke="#1a1a1a" stroke-width="1.2" stroke-linecap="butt"/>
<line x1="1183.4" y1="660" x2="1190.4" y2="660" stroke="#1a1a1a" stroke-width="1.3" stroke-linecap="butt"/>
<line x1="1183.4" y1="665" x2="1190.4" y2="665" stroke="#1a1a1a" stroke-width="1.3" stroke-linecap="butt"/>
<line x1="1220.6" y1="663.7" x2="1220.6" y2="669.7" stroke="#1a1a1a" stroke-width="1.2" stroke-linecap="butt"/>
<line x1="1217.1" y1="663.7" x2="1224.1" y2="663.7" stroke="#1a1a1a" stroke-width="1.3" stroke-linecap="butt"/>
<line x1="1217.1" y1="669.7" x2="1224.1" y2="669.7" stroke="#1a1a1a" stroke-width="1.3" stroke-linecap="butt"/>
<line x1="1254.3" y1="667.7" x2="1254.3" y2="672.7" stroke="#1a1a1a" stroke-width="1.2" stroke-linecap="butt"/>
<line x1="1250.8" y1="667.7" x2="1257.8" y2="667.7" stroke="#1a1a1a" stroke-width="1.3" stroke-linecap="butt"/>
<line x1="1250.8" y1="672.7" x2="1257.8" y2="672.7" stroke="#1a1a1a" stroke-width="1.3" stroke-linecap="butt"/>
<line x1="1288" y1="670.1" x2="1288" y2="674.1" stroke="#1a1a1a" stroke-width="1.2" stroke-linecap="butt"/>
<line x1="1284.5" y1="670.1" x2="1291.5" y2="670.1" stroke="#1a1a1a" stroke-width="1.3" stroke-linecap="butt"/>
<line x1="1284.5" y1="674.1" x2="1291.5" y2="674.1" stroke="#1a1a1a" stroke-width="1.3" stroke-linecap="butt"/>
<line x1="1321.7" y1="670.8" x2="1321.7" y2="676.4" stroke="#1a1a1a" stroke-width="1.2" stroke-linecap="butt"/>
<line x1="1318.2" y1="670.8" x2="1325.2" y2="670.8" stroke="#1a1a1a" stroke-width="1.3" stroke-linecap="butt"/>
<line x1="1318.2" y1="676.4" x2="1325.2" y2="676.4" stroke="#1a1a1a" stroke-width="1.3" stroke-linecap="butt"/>
<line x1="1355.4" y1="672.4" x2="1355.4" y2="677.4" stroke="#1a1a1a" stroke-width="1.2" stroke-linecap="butt"/>
<line x1="1351.9" y1="672.4" x2="1358.9" y2="672.4" stroke="#1a1a1a" stroke-width="1.3" stroke-linecap="butt"/>
<line x1="1351.9" y1="677.4" x2="1358.9" y2="677.4" stroke="#1a1a1a" stroke-width="1.3" stroke-linecap="butt"/>
<line x1="1389.1" y1="672.9" x2="1389.1" y2="677.9" stroke="#1a1a1a" stroke-width="1.2" stroke-linecap="butt"/>
<line x1="1385.6" y1="672.9" x2="1392.6" y2="672.9" stroke="#1a1a1a" stroke-width="1.3" stroke-linecap="butt"/>
<line x1="1385.6" y1="677.9" x2="1392.6" y2="677.9" stroke="#1a1a1a" stroke-width="1.3" stroke-linecap="butt"/>
<line x1="1422.8" y1="671" x2="1422.8" y2="679" stroke="#1a1a1a" stroke-width="1.2" stroke-linecap="butt"/>
<line x1="1419.3" y1="671" x2="1426.3" y2="671" stroke="#1a1a1a" stroke-width="1.3" stroke-linecap="butt"/>
<line x1="1419.3" y1="679" x2="1426.3" y2="679" stroke="#1a1a1a" stroke-width="1.3" stroke-linecap="butt"/>
<line x1="1456.5" y1="669.8" x2="1456.5" y2="680" stroke="#1a1a1a" stroke-width="1.2" stroke-linecap="butt"/>
<line x1="1453" y1="669.8" x2="1460" y2="669.8" stroke="#1a1a1a" stroke-width="1.3" stroke-linecap="butt"/>
<line x1="1453" y1="680" x2="1460" y2="680" stroke="#1a1a1a" stroke-width="1.3" stroke-linecap="butt"/>
<line x1="1490.2" y1="668.5" x2="1490.2" y2="679.7" stroke="#1a1a1a" stroke-width="1.2" stroke-linecap="butt"/>
<line x1="1486.7" y1="668.5" x2="1493.7" y2="668.5" stroke="#1a1a1a" stroke-width="1.3" stroke-linecap="butt"/>
<line x1="1486.7" y1="679.7" x2="1493.7" y2="679.7" stroke="#1a1a1a" stroke-width="1.3" stroke-linecap="butt"/>
<line x1="1523.9" y1="669.6" x2="1523.9" y2="679.8" stroke="#1a1a1a" stroke-width="1.2" stroke-linecap="butt"/>
<line x1="1520.4" y1="669.6" x2="1527.4" y2="669.6" stroke="#1a1a1a" stroke-width="1.3" stroke-linecap="butt"/>
<line x1="1520.4" y1="679.8" x2="1527.4" y2="679.8" stroke="#1a1a1a" stroke-width="1.3" stroke-linecap="butt"/>
<path d="M951,581.1 C956.62,583.63 973.47,591.23 984.7,596.3 C995.93,601.37 1007.17,604.53 1018.4,611.5 C1029.63,618.47 1040.87,628.3 1052.1,638.1 C1063.33,647.9 1074.57,658.23 1085.8,670.3 C1097.03,682.37 1108.27,695.93 1119.5,710.5 C1130.73,725.07 1141.97,742.13 1153.2,757.7 C1164.43,773.27 1175.67,790.98 1186.9,803.9 C1198.13,816.82 1209.37,827.72 1220.6,835.2 C1231.83,842.68 1243.07,846.12 1254.3,848.8 C1265.53,851.48 1282.38,850.88 1288,851.3" fill="none" stroke="#000000" stroke-width="2.8" stroke-linecap="round" stroke-linejoin="round"/>
<path d="M951,581.1 C956.62,582.27 973.47,585.52 984.7,588.1 C995.93,590.68 1007.17,593.12 1018.4,596.6 C1029.63,600.08 1040.87,604.7 1052.1,609 C1063.33,613.3 1074.57,617.73 1085.8,622.4 C1097.03,627.07 1108.27,632.3 1119.5,637 C1130.73,641.7 1141.97,646.05 1153.2,650.6 C1164.43,655.15 1175.67,660.07 1186.9,664.3 C1198.13,668.53 1209.37,672.17 1220.6,676 C1231.83,679.83 1243.07,683.55 1254.3,687.3 C1265.53,691.05 1276.77,695.13 1288,698.5 C1299.23,701.87 1310.47,704.82 1321.7,707.5 C1332.93,710.18 1344.17,712.33 1355.4,714.6 C1366.63,716.87 1377.87,719.12 1389.1,721.1 C1400.33,723.08 1411.57,724.95 1422.8,726.5 C1434.03,728.05 1445.27,729.28 1456.5,730.4 C1467.73,731.52 1478.97,732.52 1490.2,733.2 C1501.43,733.88 1518.28,734.28 1523.9,734.5" fill="none" stroke="#e96c1a" stroke-width="2.8" stroke-linecap="round" stroke-linejoin="round"/>
<path d="M951,581.1 C956.62,583.33 973.47,590.68 984.7,594.5 C995.93,598.32 1007.17,600.25 1018.4,604 C1029.63,607.75 1040.87,612.78 1052.1,617 C1063.33,621.22 1074.57,625.22 1085.8,629.3 C1097.03,633.38 1108.27,637.55 1119.5,641.5 C1130.73,645.45 1141.97,649.47 1153.2,653 C1164.43,656.53 1175.67,659.7 1186.9,662.7 C1198.13,665.7 1209.37,668.2 1220.6,671 C1231.83,673.8 1243.07,677.03 1254.3,679.5 C1265.53,681.97 1276.77,684.02 1288,685.8 C1299.23,687.58 1310.47,689.13 1321.7,690.2 C1332.93,691.27 1344.17,691.65 1355.4,692.2 C1366.63,692.75 1377.87,693.13 1389.1,693.5 C1400.33,693.87 1411.57,694.08 1422.8,694.4 C1434.03,694.72 1445.27,695.2 1456.5,695.4 C1467.73,695.6 1484.58,695.57 1490.2,695.6" fill="none" stroke="#58a12e" stroke-width="2.8" stroke-linecap="round" stroke-linejoin="round"/>
<path d="M951,581.1 C956.62,584.2 973.47,594.7 984.7,599.7 C995.93,604.7 1007.17,607 1018.4,611.1 C1029.63,615.2 1040.87,620.35 1052.1,624.3 C1063.33,628.25 1074.57,631.27 1085.8,634.8 C1097.03,638.33 1108.27,642.02 1119.5,645.5 C1130.73,648.98 1141.97,652.87 1153.2,655.7 C1164.43,658.53 1175.67,660.67 1186.9,662.5 C1198.13,664.33 1209.37,665.42 1220.6,666.7 C1231.83,667.98 1243.07,669.3 1254.3,670.2 C1265.53,671.1 1276.77,671.53 1288,672.1 C1299.23,672.67 1310.47,673.13 1321.7,673.6 C1332.93,674.07 1344.17,674.6 1355.4,674.9 C1366.63,675.2 1377.87,675.38 1389.1,675.4 C1400.33,675.42 1411.57,675.08 1422.8,675 C1434.03,674.92 1445.27,675.05 1456.5,674.9 C1467.73,674.75 1478.97,674.13 1490.2,674.1 C1501.43,674.07 1518.28,674.6 1523.9,674.7" fill="none" stroke="#2c5dbf" stroke-width="2.8" stroke-linecap="round" stroke-linejoin="round"/>
<line x1="1540.6" y1="670.7" x2="1577.5" y2="670.7" stroke="#000000" stroke-width="3" stroke-linecap="round"/>
<text transform="translate(1584.2,678) scale(1,1.04)" text-anchor="start" font-weight="normal" font-size="26.3">0 mM MgSO<tspan font-size="15.5">4</tspan></text>
<line x1="1540.6" y1="705.5" x2="1577.5" y2="705.5" stroke="#e96c1a" stroke-width="3" stroke-linecap="round"/>
<text transform="translate(1584.2,713.6) scale(1,1.04)" text-anchor="start" font-weight="normal" font-size="26.3">50 mM MgSO<tspan font-size="15.5">4</tspan></text>
<line x1="1540.6" y1="740.2" x2="1577.5" y2="740.2" stroke="#58a12e" stroke-width="3" stroke-linecap="round"/>
<text transform="translate(1584.2,749.3) scale(1,1.04)" text-anchor="start" font-weight="normal" font-size="26.3">100 mM MgSO<tspan font-size="15.5">4</tspan></text>
<line x1="1540.6" y1="774.8" x2="1577.5" y2="774.8" stroke="#2c5dbf" stroke-width="3" stroke-linecap="round"/>
<text transform="translate(1584.2,785) scale(1,1.04)" text-anchor="start" font-weight="normal" font-size="26.3">200 mM MgSO<tspan font-size="15.5">4</tspan></text>
</svg>
</body></html>
